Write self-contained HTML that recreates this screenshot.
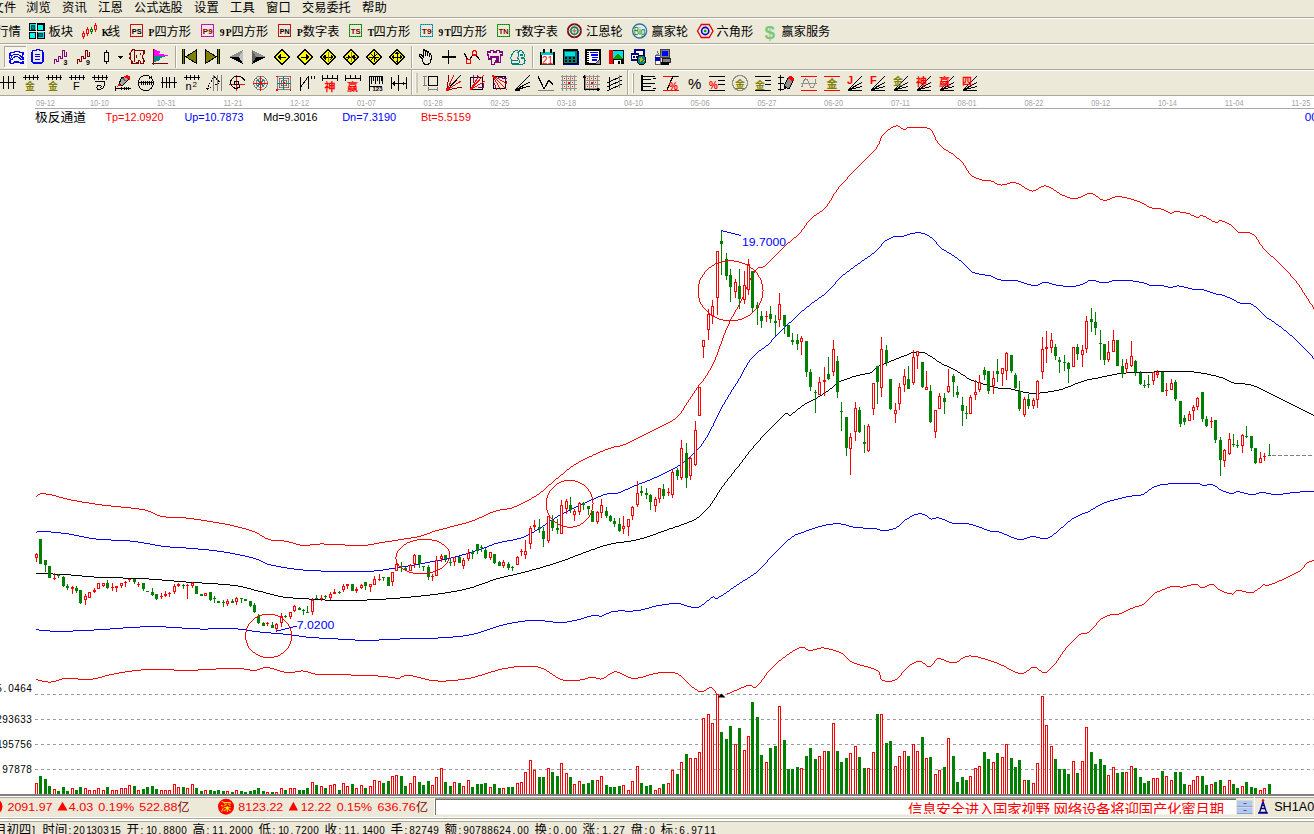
<!DOCTYPE html>
<html><head><meta charset="utf-8"><title>chart</title>
<style>
html,body{margin:0;padding:0;background:#fff;}
body{width:1314px;height:834px;overflow:hidden;position:relative;font-family:"Liberation Sans","Noto Sans CJK SC",sans-serif;font-size:12px;color:#000;}
#chart{position:absolute;left:0;top:0;display:block;}
</style></head><body>
<svg id="chart" width="1314" height="834" viewBox="0 0 1314 834">
<g shape-rendering="crispEdges">
<line x1="35" y1="694.5" x2="1314" y2="694.5" stroke="#9a9a9a" stroke-width="1" stroke-dasharray="3 3"/>
<line x1="35" y1="719.5" x2="1314" y2="719.5" stroke="#9a9a9a" stroke-width="1" stroke-dasharray="3 3"/>
<line x1="35" y1="744.5" x2="1314" y2="744.5" stroke="#9a9a9a" stroke-width="1" stroke-dasharray="3 3"/>
<line x1="35" y1="769.5" x2="1314" y2="769.5" stroke="#9a9a9a" stroke-width="1" stroke-dasharray="3 3"/>
<line x1="35" y1="108.5" x2="1314" y2="108.5" stroke="#a8a8a8" stroke-width="1"/>
<path d="M896 125.5h2M893 126.5h3M898 126.5h2M891 127.5h2M900 127.5h1M907 127.5h20M890 128.5h1M901 128.5h2M906 128.5h1M927 128.5h3M888 129.5h2M903 129.5h3M930 129.5h1M887 130.5h1M931 130.5h1M886 131.5h1M932 131.5h1M885 132.5h1M932 132.5h1M884 133.5h1M933 133.5h1M883 134.5h1M933 134.5h1M882 135.5h1M934 135.5h1M881 136.5h1M934 136.5h1M881 137.5h1M935 137.5h1M880 138.5h1M935 138.5h1M880 139.5h1M935 139.5h1M880 140.5h1M936 140.5h1M879 141.5h1M937 141.5h1M879 142.5h1M937 142.5h1M879 143.5h1M938 143.5h1M878 144.5h1M939 144.5h1M877 145.5h1M940 145.5h1M877 146.5h1M941 146.5h1M876 147.5h1M942 147.5h1M876 148.5h1M943 148.5h1M875 149.5h1M944 149.5h2M874 150.5h1M946 150.5h2M873 151.5h1M948 151.5h1M872 152.5h1M949 152.5h2M871 153.5h1M951 153.5h2M870 154.5h1M953 154.5h1M869 155.5h1M954 155.5h1M868 156.5h1M955 156.5h1M867 157.5h1M956 157.5h1M866 158.5h1M957 158.5h2M865 159.5h1M959 159.5h1M864 160.5h1M960 160.5h1M863 161.5h1M961 161.5h1M862 162.5h1M962 162.5h1M861 163.5h1M963 163.5h1M860 164.5h1M963 164.5h1M859 165.5h1M964 165.5h1M858 166.5h1M965 166.5h1M857 167.5h1M965 167.5h1M856 168.5h1M966 168.5h1M855 169.5h1M966 169.5h1M854 170.5h1M967 170.5h1M853 171.5h1M968 171.5h1M852 172.5h1M968 172.5h1M851 173.5h1M969 173.5h1M850 174.5h1M970 174.5h1M849 175.5h1M971 175.5h1M848 176.5h1M972 176.5h2M847 177.5h1M974 177.5h2M847 178.5h1M976 178.5h3M846 179.5h1M979 179.5h3M845 180.5h1M982 180.5h9M844 181.5h1M991 181.5h3M843 182.5h1M994 182.5h1M1010 182.5h6M842 183.5h1M995 183.5h2M1007 183.5h3M1016 183.5h3M841 184.5h1M997 184.5h4M1002 184.5h5M1019 184.5h2M840 185.5h1M1001 185.5h1M1021 185.5h1M1044 185.5h2M839 186.5h1M1022 186.5h2M1041 186.5h3M1046 186.5h3M838 187.5h1M1024 187.5h1M1039 187.5h2M1049 187.5h2M838 188.5h1M1025 188.5h2M1038 188.5h1M1051 188.5h2M837 189.5h1M1027 189.5h2M1036 189.5h2M1053 189.5h1M836 190.5h1M1029 190.5h3M1033 190.5h3M1054 190.5h2M836 191.5h1M1032 191.5h1M1056 191.5h1M835 192.5h1M1057 192.5h2M834 193.5h1M1059 193.5h1M1087 193.5h6M833 194.5h1M1060 194.5h2M1085 194.5h2M1093 194.5h2M833 195.5h1M1062 195.5h3M1083 195.5h2M1095 195.5h1M832 196.5h1M1065 196.5h2M1081 196.5h2M1096 196.5h2M1115 196.5h7M832 197.5h1M1067 197.5h3M1078 197.5h3M1098 197.5h1M1112 197.5h3M1122 197.5h5M831 198.5h1M1070 198.5h8M1099 198.5h1M1110 198.5h2M1127 198.5h4M831 199.5h1M1100 199.5h3M1107 199.5h3M1131 199.5h3M830 200.5h1M1103 200.5h4M1134 200.5h3M829 201.5h1M1137 201.5h3M829 202.5h1M1140 202.5h2M828 203.5h1M1142 203.5h2M827 204.5h1M1144 204.5h2M827 205.5h1M1146 205.5h1M826 206.5h1M1147 206.5h2M825 207.5h1M1149 207.5h3M824 208.5h1M1152 208.5h9M823 209.5h1M1161 209.5h3M822 210.5h1M1164 210.5h2M820 211.5h2M1166 211.5h2M1174 211.5h6M819 212.5h1M1168 212.5h2M1172 212.5h2M1180 212.5h6M817 213.5h2M1170 213.5h2M1186 213.5h4M816 214.5h1M1190 214.5h1M814 215.5h2M1191 215.5h3M1200 215.5h3M813 216.5h1M1194 216.5h2M1199 216.5h1M1203 216.5h3M812 217.5h1M1196 217.5h3M1206 217.5h1M811 218.5h1M1207 218.5h2M810 219.5h1M1209 219.5h2M809 220.5h1M1211 220.5h1M1219 220.5h3M808 221.5h1M1212 221.5h3M1218 221.5h1M1222 221.5h3M807 222.5h1M1215 222.5h3M1225 222.5h2M806 223.5h1M1227 223.5h2M806 224.5h1M1229 224.5h2M805 225.5h1M1231 225.5h1M804 226.5h1M1232 226.5h1M804 227.5h1M1233 227.5h1M803 228.5h1M1234 228.5h1M802 229.5h1M1235 229.5h1M801 230.5h1M1236 230.5h1M801 231.5h1M1237 231.5h1M800 232.5h1M1238 232.5h12M799 233.5h1M1250 233.5h2M798 234.5h1M1252 234.5h2M797 235.5h1M1254 235.5h1M796 236.5h1M1255 236.5h1M794 237.5h2M1256 237.5h1M793 238.5h1M1256 238.5h1M792 239.5h1M1257 239.5h1M791 240.5h1M1258 240.5h1M790 241.5h1M1258 241.5h1M788 242.5h2M1259 242.5h1M787 243.5h1M1259 243.5h1M786 244.5h1M1260 244.5h1M785 245.5h1M1261 245.5h1M784 246.5h1M1262 246.5h1M783 247.5h1M1262 247.5h1M782 248.5h1M1263 248.5h1M781 249.5h1M1264 249.5h1M780 250.5h1M1265 250.5h1M779 251.5h1M1266 251.5h1M778 252.5h1M1267 252.5h1M777 253.5h1M1268 253.5h1M776 254.5h1M1269 254.5h1M775 255.5h1M1270 255.5h1M774 256.5h1M1271 256.5h2M773 257.5h1M1273 257.5h1M772 258.5h1M1274 258.5h1M771 259.5h1M1275 259.5h1M770 260.5h1M1276 260.5h1M769 261.5h1M1277 261.5h1M768 262.5h1M1278 262.5h1M767 263.5h1M1279 263.5h1M766 264.5h1M1280 264.5h1M765 265.5h1M1281 265.5h1M763 266.5h2M1282 266.5h1M758 267.5h5M1283 267.5h1M757 268.5h1M1284 268.5h1M756 269.5h1M1285 269.5h1M755 270.5h1M1286 270.5h1M754 271.5h1M1287 271.5h1M754 272.5h1M1288 272.5h1M753 273.5h1M1289 273.5h1M752 274.5h1M1290 274.5h1M752 275.5h1M1290 275.5h1M751 276.5h1M1291 276.5h1M751 277.5h1M1292 277.5h1M750 278.5h1M1293 278.5h1M750 279.5h1M1294 279.5h1M749 280.5h1M1295 280.5h1M749 281.5h1M1296 281.5h1M748 282.5h1M1296 282.5h1M748 283.5h1M1297 283.5h1M747 284.5h1M1298 284.5h1M747 285.5h1M1299 285.5h1M747 286.5h1M1299 286.5h1M746 287.5h1M1300 287.5h1M746 288.5h1M1301 288.5h1M745 289.5h1M1301 289.5h1M745 290.5h1M1302 290.5h1M745 291.5h1M1302 291.5h1M744 292.5h1M1303 292.5h1M744 293.5h1M1304 293.5h1M743 294.5h1M1304 294.5h1M743 295.5h1M1305 295.5h1M743 296.5h1M1306 296.5h1M742 297.5h1M1306 297.5h1M742 298.5h1M1307 298.5h1M741 299.5h1M1308 299.5h1M741 300.5h1M1308 300.5h1M740 301.5h1M1309 301.5h1M740 302.5h1M1309 302.5h1M739 303.5h1M1310 303.5h1M739 304.5h1M1311 304.5h1M738 305.5h1M1312 305.5h1M738 306.5h1M1312 306.5h1M737 307.5h1M1313 307.5h1M737 308.5h1M1313 308.5h1M736 309.5h1M735 310.5h1M735 311.5h1M734 312.5h1M734 313.5h1M733 314.5h1M733 315.5h1M732 316.5h1M731 317.5h1M731 318.5h1M730 319.5h1M730 320.5h1M729 321.5h1M729 322.5h1M729 323.5h1M728 324.5h1M728 325.5h1M727 326.5h1M727 327.5h1M726 328.5h1M726 329.5h1M725 330.5h1M725 331.5h1M725 332.5h1M724 333.5h1M724 334.5h1M723 335.5h1M723 336.5h1M723 337.5h1M722 338.5h1M722 339.5h1M722 340.5h1M721 341.5h1M721 342.5h1M721 343.5h1M720 344.5h1M720 345.5h1M719 346.5h1M719 347.5h1M719 348.5h1M718 349.5h1M718 350.5h1M718 351.5h1M717 352.5h1M717 353.5h1M717 354.5h1M716 355.5h1M716 356.5h1M715 357.5h1M715 358.5h1M715 359.5h1M714 360.5h1M714 361.5h1M713 362.5h1M713 363.5h1M712 364.5h1M712 365.5h1M711 366.5h1M711 367.5h1M710 368.5h1M710 369.5h1M709 370.5h1M708 371.5h1M708 372.5h1M707 373.5h1M707 374.5h1M706 375.5h1M705 376.5h1M705 377.5h1M704 378.5h1M703 379.5h1M703 380.5h1M702 381.5h1M701 382.5h1M700 383.5h1M699 384.5h1M698 385.5h1M698 386.5h1M697 387.5h1M696 388.5h1M696 389.5h1M695 390.5h1M694 391.5h1M694 392.5h1M693 393.5h1M692 394.5h1M692 395.5h1M691 396.5h1M690 397.5h1M690 398.5h1M689 399.5h1M688 400.5h1M688 401.5h1M687 402.5h1M686 403.5h1M686 404.5h1M685 405.5h1M684 406.5h1M684 407.5h1M683 408.5h1M683 409.5h1M682 410.5h1M681 411.5h1M681 412.5h1M680 413.5h1M679 414.5h1M678 415.5h1M677 416.5h1M676 417.5h1M675 418.5h1M673 419.5h2M672 420.5h1M670 421.5h2M668 422.5h2M666 423.5h2M664 424.5h2M662 425.5h2M660 426.5h2M658 427.5h2M656 428.5h2M654 429.5h2M652 430.5h2M650 431.5h2M648 432.5h2M646 433.5h2M644 434.5h2M642 435.5h2M640 436.5h2M638 437.5h2M636 438.5h2M634 439.5h2M632 440.5h2M630 441.5h2M628 442.5h2M626 443.5h2M623 444.5h3M620 445.5h3M614 446.5h6M611 447.5h3M608 448.5h3M605 449.5h3M603 450.5h2M600 451.5h3M598 452.5h2M596 453.5h2M593 454.5h3M592 455.5h1M589 456.5h3M587 457.5h2M585 458.5h2M583 459.5h2M581 460.5h2M579 461.5h2M578 462.5h1M576 463.5h2M574 464.5h2M573 465.5h1M571 466.5h2M570 467.5h1M569 468.5h1M567 469.5h2M566 470.5h1M565 471.5h1M564 472.5h1M563 473.5h1M561 474.5h2M560 475.5h1M559 476.5h1M558 477.5h1M556 478.5h2M555 479.5h1M554 480.5h1M553 481.5h1M552 482.5h1M551 483.5h1M549 484.5h2M548 485.5h1M547 486.5h1M546 487.5h1M545 488.5h1M544 489.5h1M543 490.5h1M541 491.5h2M540 492.5h1M40 493.5h6M539 493.5h1M38 494.5h2M46 494.5h6M537 494.5h2M37 495.5h1M52 495.5h4M536 495.5h1M36 496.5h1M56 496.5h3M534 496.5h2M59 497.5h4M532 497.5h2M63 498.5h4M531 498.5h1M67 499.5h4M529 499.5h2M71 500.5h6M527 500.5h2M77 501.5h5M525 501.5h2M82 502.5h7M523 502.5h2M89 503.5h6M521 503.5h2M95 504.5h7M519 504.5h2M102 505.5h9M517 505.5h2M111 506.5h10M514 506.5h3M121 507.5h10M512 507.5h2M131 508.5h8M507 508.5h5M139 509.5h6M500 509.5h7M145 510.5h3M496 510.5h4M148 511.5h3M493 511.5h3M151 512.5h2M490 512.5h3M153 513.5h2M488 513.5h2M155 514.5h2M486 514.5h2M157 515.5h3M484 515.5h2M160 516.5h6M482 516.5h2M166 517.5h20M479 517.5h3M186 518.5h8M477 518.5h2M194 519.5h7M475 519.5h2M201 520.5h6M472 520.5h3M207 521.5h6M469 521.5h3M213 522.5h6M466 522.5h3M219 523.5h6M462 523.5h4M225 524.5h5M458 524.5h4M230 525.5h4M454 525.5h4M234 526.5h4M450 526.5h4M238 527.5h4M447 527.5h3M242 528.5h4M443 528.5h4M246 529.5h3M439 529.5h4M249 530.5h3M435 530.5h4M252 531.5h3M432 531.5h3M255 532.5h2M430 532.5h2M257 533.5h2M427 533.5h3M259 534.5h1M424 534.5h3M260 535.5h2M421 535.5h3M262 536.5h2M417 536.5h4M264 537.5h1M411 537.5h6M265 538.5h3M404 538.5h7M268 539.5h3M398 539.5h6M271 540.5h13M392 540.5h6M284 541.5h5M385 541.5h7M289 542.5h4M379 542.5h6M293 543.5h3M320 543.5h4M374 543.5h5M296 544.5h4M310 544.5h10M324 544.5h21M368 544.5h6M300 545.5h10M345 545.5h23" fill="none" stroke="#ff0000" stroke-width="1"/>
<path d="M915 232.5h6M910 233.5h5M921 233.5h4M907 234.5h3M925 234.5h2M904 235.5h3M927 235.5h2M893 236.5h11M929 236.5h1M891 237.5h2M930 237.5h2M889 238.5h2M932 238.5h1M887 239.5h2M933 239.5h1M885 240.5h2M934 240.5h1M884 241.5h1M935 241.5h1M883 242.5h1M936 242.5h1M882 243.5h1M936 243.5h1M881 244.5h1M937 244.5h1M881 245.5h1M938 245.5h1M880 246.5h1M939 246.5h1M879 247.5h1M940 247.5h1M878 248.5h1M941 248.5h1M877 249.5h1M942 249.5h2M876 250.5h1M944 250.5h2M875 251.5h1M946 251.5h1M874 252.5h1M947 252.5h2M872 253.5h2M949 253.5h2M871 254.5h1M951 254.5h1M870 255.5h1M952 255.5h2M868 256.5h2M954 256.5h1M867 257.5h1M955 257.5h2M865 258.5h2M957 258.5h1M864 259.5h1M958 259.5h1M862 260.5h2M959 260.5h2M861 261.5h1M961 261.5h1M860 262.5h1M962 262.5h1M858 263.5h2M963 263.5h1M857 264.5h1M964 264.5h1M855 265.5h2M965 265.5h1M854 266.5h1M966 266.5h1M853 267.5h1M967 267.5h1M851 268.5h2M968 268.5h1M850 269.5h1M969 269.5h1M849 270.5h1M970 270.5h1M847 271.5h2M971 271.5h1M846 272.5h1M972 272.5h3M845 273.5h1M975 273.5h4M843 274.5h2M979 274.5h6M842 275.5h1M985 275.5h6M841 276.5h1M991 276.5h2M840 277.5h1M993 277.5h2M839 278.5h1M995 278.5h2M838 279.5h1M997 279.5h4M837 280.5h1M1001 280.5h17M1088 280.5h8M1112 280.5h21M836 281.5h1M1018 281.5h3M1087 281.5h1M1096 281.5h3M1109 281.5h3M1133 281.5h6M835 282.5h1M1021 282.5h3M1042 282.5h7M1085 282.5h2M1099 282.5h10M1139 282.5h5M835 283.5h1M1024 283.5h3M1040 283.5h2M1049 283.5h3M1083 283.5h2M1144 283.5h3M834 284.5h1M1027 284.5h4M1038 284.5h2M1052 284.5h4M1080 284.5h3M1147 284.5h2M833 285.5h1M1031 285.5h7M1056 285.5h7M1076 285.5h4M1149 285.5h15M1177 285.5h2M832 286.5h1M1063 286.5h13M1164 286.5h4M1173 286.5h4M1179 286.5h5M831 287.5h1M1168 287.5h5M1184 287.5h4M830 288.5h1M1188 288.5h4M829 289.5h1M1192 289.5h12M828 290.5h1M1204 290.5h3M827 291.5h1M1207 291.5h3M826 292.5h1M1210 292.5h3M825 293.5h1M1213 293.5h3M824 294.5h1M1216 294.5h6M822 295.5h2M1222 295.5h3M821 296.5h1M1225 296.5h2M819 297.5h2M1227 297.5h3M818 298.5h1M1230 298.5h2M817 299.5h1M1232 299.5h2M815 300.5h2M1234 300.5h2M814 301.5h1M1236 301.5h1M812 302.5h2M1237 302.5h3M811 303.5h1M1240 303.5h11M810 304.5h1M1251 304.5h2M809 305.5h1M1253 305.5h1M807 306.5h2M1254 306.5h2M806 307.5h1M1256 307.5h1M805 308.5h1M1257 308.5h1M804 309.5h1M1258 309.5h1M802 310.5h2M1259 310.5h1M801 311.5h1M1260 311.5h1M800 312.5h1M1261 312.5h1M799 313.5h1M1262 313.5h1M798 314.5h1M1263 314.5h1M797 315.5h1M1264 315.5h1M796 316.5h1M1265 316.5h1M795 317.5h1M1266 317.5h1M794 318.5h1M1267 318.5h2M793 319.5h1M1269 319.5h2M792 320.5h1M1271 320.5h1M791 321.5h1M1272 321.5h2M789 322.5h2M1274 322.5h1M788 323.5h1M1275 323.5h1M787 324.5h1M1276 324.5h2M786 325.5h1M1278 325.5h1M785 326.5h1M1279 326.5h2M784 327.5h1M1281 327.5h1M783 328.5h1M1282 328.5h1M782 329.5h1M1283 329.5h1M781 330.5h1M1284 330.5h2M780 331.5h1M1286 331.5h1M779 332.5h1M1287 332.5h1M778 333.5h1M1288 333.5h1M777 334.5h1M1289 334.5h1M776 335.5h1M1290 335.5h2M775 336.5h1M1292 336.5h1M774 337.5h1M1293 337.5h1M773 338.5h1M1294 338.5h1M772 339.5h1M1295 339.5h1M771 340.5h1M1296 340.5h1M771 341.5h1M1297 341.5h1M770 342.5h1M1298 342.5h1M769 343.5h1M1299 343.5h1M768 344.5h1M1300 344.5h1M766 345.5h2M1301 345.5h1M765 346.5h1M1302 346.5h1M764 347.5h1M1303 347.5h1M762 348.5h2M1304 348.5h1M761 349.5h1M1305 349.5h1M759 350.5h2M1306 350.5h1M758 351.5h1M1307 351.5h1M757 352.5h1M1308 352.5h1M756 353.5h1M1309 353.5h1M755 354.5h1M1310 354.5h1M754 355.5h1M1311 355.5h1M753 356.5h1M1312 356.5h1M752 357.5h1M1312 357.5h1M751 358.5h1M1313 358.5h1M750 359.5h1M749 360.5h1M749 361.5h1M748 362.5h1M747 363.5h1M747 364.5h1M746 365.5h1M746 366.5h1M745 367.5h1M744 368.5h1M744 369.5h1M743 370.5h1M743 371.5h1M742 372.5h1M742 373.5h1M741 374.5h1M741 375.5h1M740 376.5h1M740 377.5h1M739 378.5h1M738 379.5h1M738 380.5h1M737 381.5h1M737 382.5h1M736 383.5h1M735 384.5h1M735 385.5h1M734 386.5h1M733 387.5h1M733 388.5h1M732 389.5h1M731 390.5h1M731 391.5h1M730 392.5h1M730 393.5h1M729 394.5h1M728 395.5h1M728 396.5h1M727 397.5h1M727 398.5h1M726 399.5h1M725 400.5h1M725 401.5h1M724 402.5h1M724 403.5h1M723 404.5h1M722 405.5h1M722 406.5h1M721 407.5h1M721 408.5h1M720 409.5h1M720 410.5h1M719 411.5h1M719 412.5h1M718 413.5h1M718 414.5h1M717 415.5h1M717 416.5h1M716 417.5h1M716 418.5h1M715 419.5h1M715 420.5h1M714 421.5h1M714 422.5h1M713 423.5h1M713 424.5h1M713 425.5h1M712 426.5h1M711 427.5h1M711 428.5h1M710 429.5h1M710 430.5h1M709 431.5h1M709 432.5h1M708 433.5h1M708 434.5h1M707 435.5h1M707 436.5h1M706 437.5h1M705 438.5h1M705 439.5h1M704 440.5h1M703 441.5h1M703 442.5h1M702 443.5h1M701 444.5h1M701 445.5h1M700 446.5h1M699 447.5h1M698 448.5h1M697 449.5h1M696 450.5h1M695 451.5h1M694 452.5h1M693 453.5h1M692 454.5h1M691 455.5h1M690 456.5h1M689 457.5h1M688 458.5h1M687 459.5h1M685 460.5h2M684 461.5h1M683 462.5h1M681 463.5h2M680 464.5h1M678 465.5h2M677 466.5h1M675 467.5h2M673 468.5h2M671 469.5h2M669 470.5h2M667 471.5h2M665 472.5h2M663 473.5h2M661 474.5h2M659 475.5h2M657 476.5h2M654 477.5h3M652 478.5h2M650 479.5h2M647 480.5h3M645 481.5h2M642 482.5h3M639 483.5h3M637 484.5h2M634 485.5h3M632 486.5h2M630 487.5h2M628 488.5h2M625 489.5h3M623 490.5h2M621 491.5h2M618 492.5h3M607 493.5h11M603 494.5h4M601 495.5h2M598 496.5h3M596 497.5h2M594 498.5h2M591 499.5h3M589 500.5h2M587 501.5h2M585 502.5h2M583 503.5h2M580 504.5h3M578 505.5h2M576 506.5h2M574 507.5h2M572 508.5h2M570 509.5h2M568 510.5h2M566 511.5h2M564 512.5h2M562 513.5h2M560 514.5h2M558 515.5h2M557 516.5h1M555 517.5h2M554 518.5h1M552 519.5h2M550 520.5h2M549 521.5h1M548 522.5h1M546 523.5h2M545 524.5h1M543 525.5h2M542 526.5h1M540 527.5h2M539 528.5h1M537 529.5h2M535 530.5h2M37 531.5h14M534 531.5h1M36 532.5h1M51 532.5h10M532 532.5h2M61 533.5h8M530 533.5h2M69 534.5h5M528 534.5h2M74 535.5h5M526 535.5h2M79 536.5h5M524 536.5h2M84 537.5h5M521 537.5h3M89 538.5h7M517 538.5h4M96 539.5h15M513 539.5h4M111 540.5h19M507 540.5h6M130 541.5h8M502 541.5h5M138 542.5h6M498 542.5h4M144 543.5h6M494 543.5h4M150 544.5h5M492 544.5h2M155 545.5h6M489 545.5h3M161 546.5h9M487 546.5h2M170 547.5h16M484 547.5h3M186 548.5h12M481 548.5h3M198 549.5h11M478 549.5h3M209 550.5h8M475 550.5h3M217 551.5h7M472 551.5h3M224 552.5h6M469 552.5h3M230 553.5h5M466 553.5h3M235 554.5h5M462 554.5h4M240 555.5h5M459 555.5h3M245 556.5h4M455 556.5h4M249 557.5h4M451 557.5h4M253 558.5h3M447 558.5h4M256 559.5h3M441 559.5h6M259 560.5h2M436 560.5h5M261 561.5h2M430 561.5h6M263 562.5h2M425 562.5h5M265 563.5h2M419 563.5h6M267 564.5h4M414 564.5h5M271 565.5h5M408 565.5h6M276 566.5h5M402 566.5h6M281 567.5h6M396 567.5h6M287 568.5h7M389 568.5h7M294 569.5h9M383 569.5h6M303 570.5h18M374 570.5h9M321 571.5h53" fill="none" stroke="#0000ff" stroke-width="1"/>
<path d="M911 352.5h14M909 353.5h2M925 353.5h2M907 354.5h2M927 354.5h1M904 355.5h3M928 355.5h2M901 356.5h3M930 356.5h2M899 357.5h2M932 357.5h1M896 358.5h3M933 358.5h2M894 359.5h2M935 359.5h1M891 360.5h3M936 360.5h1M889 361.5h2M937 361.5h2M887 362.5h2M939 362.5h2M884 363.5h3M941 363.5h1M882 364.5h2M942 364.5h2M879 365.5h3M944 365.5h3M877 366.5h2M947 366.5h2M876 367.5h1M949 367.5h2M875 368.5h1M951 368.5h2M874 369.5h1M953 369.5h2M873 370.5h1M955 370.5h2M872 371.5h1M957 371.5h1M1154 371.5h40M870 372.5h2M958 372.5h2M1126 372.5h28M1194 372.5h7M865 373.5h5M960 373.5h1M1117 373.5h9M1201 373.5h6M860 374.5h5M961 374.5h2M1112 374.5h5M1207 374.5h4M856 375.5h4M963 375.5h2M1107 375.5h5M1211 375.5h5M852 376.5h4M965 376.5h1M1102 376.5h5M1216 376.5h3M850 377.5h2M966 377.5h1M1098 377.5h4M1219 377.5h4M847 378.5h3M967 378.5h2M1092 378.5h6M1223 378.5h2M844 379.5h3M969 379.5h2M1087 379.5h5M1225 379.5h2M841 380.5h3M971 380.5h3M1084 380.5h3M1227 380.5h2M839 381.5h2M974 381.5h3M1081 381.5h3M1229 381.5h2M838 382.5h1M977 382.5h3M1078 382.5h3M1231 382.5h3M837 383.5h1M980 383.5h3M1075 383.5h3M1234 383.5h11M835 384.5h2M983 384.5h4M1073 384.5h2M1245 384.5h6M834 385.5h1M987 385.5h3M1071 385.5h2M1251 385.5h3M833 386.5h1M990 386.5h4M1068 386.5h3M1254 386.5h3M832 387.5h1M994 387.5h4M1065 387.5h3M1257 387.5h2M830 388.5h2M998 388.5h13M1063 388.5h2M1259 388.5h2M829 389.5h1M1011 389.5h4M1059 389.5h4M1261 389.5h2M828 390.5h1M1015 390.5h4M1054 390.5h5M1263 390.5h2M826 391.5h2M1019 391.5h4M1048 391.5h6M1265 391.5h2M825 392.5h1M1023 392.5h6M1040 392.5h8M1267 392.5h2M823 393.5h2M1029 393.5h11M1269 393.5h2M822 394.5h1M1271 394.5h2M820 395.5h2M1273 395.5h2M818 396.5h2M1275 396.5h2M817 397.5h1M1277 397.5h2M815 398.5h2M1279 398.5h2M813 399.5h2M1281 399.5h2M811 400.5h2M1283 400.5h2M809 401.5h2M1285 401.5h2M807 402.5h2M1287 402.5h2M805 403.5h2M1289 403.5h2M804 404.5h1M1291 404.5h2M802 405.5h2M1293 405.5h2M801 406.5h1M1295 406.5h2M800 407.5h1M1297 407.5h2M798 408.5h2M1299 408.5h2M797 409.5h1M1301 409.5h2M796 410.5h1M1303 410.5h2M795 411.5h1M1305 411.5h2M793 412.5h2M1307 412.5h2M785 413.5h3M792 413.5h1M1309 413.5h2M784 414.5h1M788 414.5h1M791 414.5h1M1311 414.5h2M783 415.5h1M789 415.5h2M1313 415.5h1M782 416.5h1M781 417.5h1M780 418.5h1M779 419.5h1M778 420.5h1M777 421.5h1M776 422.5h1M775 423.5h1M774 424.5h1M773 425.5h1M772 426.5h1M771 427.5h1M770 428.5h1M769 429.5h1M768 430.5h1M767 431.5h1M766 432.5h1M765 433.5h1M764 434.5h1M763 435.5h1M762 436.5h1M761 437.5h1M760 438.5h1M760 439.5h1M759 440.5h1M758 441.5h1M757 442.5h1M756 443.5h1M755 444.5h1M754 445.5h1M753 446.5h1M753 447.5h1M752 448.5h1M751 449.5h1M750 450.5h1M749 451.5h1M748 452.5h1M748 453.5h1M747 454.5h1M746 455.5h1M745 456.5h1M745 457.5h1M744 458.5h1M743 459.5h1M742 460.5h1M742 461.5h1M741 462.5h1M740 463.5h1M739 464.5h1M739 465.5h1M738 466.5h1M737 467.5h1M736 468.5h1M735 469.5h1M734 470.5h1M734 471.5h1M733 472.5h1M732 473.5h1M731 474.5h1M731 475.5h1M730 476.5h1M729 477.5h1M728 478.5h1M727 479.5h1M727 480.5h1M726 481.5h1M725 482.5h1M724 483.5h1M724 484.5h1M723 485.5h1M722 486.5h1M721 487.5h1M721 488.5h1M720 489.5h1M719 490.5h1M719 491.5h1M718 492.5h1M717 493.5h1M717 494.5h1M716 495.5h1M716 496.5h1M715 497.5h1M714 498.5h1M714 499.5h1M713 500.5h1M712 501.5h1M712 502.5h1M711 503.5h1M710 504.5h1M710 505.5h1M709 506.5h1M708 507.5h1M707 508.5h1M706 509.5h1M705 510.5h1M704 511.5h1M703 512.5h1M702 513.5h1M701 514.5h1M700 515.5h1M699 516.5h1M697 517.5h2M696 518.5h1M694 519.5h2M692 520.5h2M689 521.5h3M687 522.5h2M684 523.5h3M681 524.5h3M679 525.5h2M675 526.5h4M673 527.5h2M669 528.5h4M667 529.5h2M664 530.5h3M661 531.5h3M658 532.5h3M656 533.5h2M653 534.5h3M650 535.5h3M647 536.5h3M644 537.5h3M640 538.5h4M636 539.5h4M631 540.5h5M624 541.5h7M616 542.5h8M611 543.5h5M607 544.5h4M603 545.5h4M600 546.5h3M597 547.5h3M595 548.5h2M591 549.5h4M589 550.5h2M586 551.5h3M583 552.5h3M581 553.5h2M578 554.5h3M575 555.5h3M573 556.5h2M570 557.5h3M568 558.5h2M565 559.5h3M562 560.5h3M559 561.5h3M556 562.5h3M553 563.5h3M550 564.5h3M546 565.5h4M543 566.5h3M540 567.5h3M536 568.5h4M532 569.5h4M529 570.5h3M525 571.5h4M521 572.5h4M36 573.5h17M517 573.5h4M53 574.5h18M513 574.5h4M71 575.5h11M508 575.5h5M82 576.5h12M504 576.5h4M94 577.5h29M500 577.5h4M123 578.5h26M496 578.5h4M149 579.5h13M493 579.5h3M162 580.5h12M490 580.5h3M174 581.5h12M488 581.5h2M186 582.5h16M485 582.5h3M202 583.5h16M482 583.5h3M218 584.5h12M479 584.5h3M230 585.5h8M476 585.5h3M238 586.5h5M474 586.5h2M243 587.5h4M470 587.5h4M247 588.5h4M466 588.5h4M251 589.5h3M462 589.5h4M254 590.5h4M457 590.5h5M258 591.5h5M451 591.5h6M263 592.5h3M445 592.5h6M266 593.5h4M438 593.5h7M270 594.5h4M430 594.5h8M274 595.5h4M421 595.5h9M278 596.5h5M411 596.5h10M283 597.5h10M400 597.5h11M293 598.5h16M386 598.5h14M309 599.5h16M367 599.5h19M325 600.5h42" fill="none" stroke="#000" stroke-width="1"/>
<path d="M1168 483.5h32M1160 484.5h8M1200 484.5h2M1207 484.5h6M1157 485.5h3M1202 485.5h5M1213 485.5h2M1154 486.5h3M1215 486.5h2M1152 487.5h2M1217 487.5h1M1151 488.5h1M1218 488.5h1M1149 489.5h2M1219 489.5h2M1148 490.5h1M1221 490.5h2M1147 491.5h1M1223 491.5h3M1236 491.5h4M1300 491.5h14M1145 492.5h2M1226 492.5h3M1234 492.5h2M1240 492.5h4M1259 492.5h7M1290 492.5h10M1144 493.5h1M1229 493.5h5M1244 493.5h4M1256 493.5h3M1266 493.5h5M1283 493.5h7M1141 494.5h3M1248 494.5h8M1271 494.5h12M1132 495.5h9M1126 496.5h6M1122 497.5h4M1118 498.5h4M1114 499.5h4M1110 500.5h4M1107 501.5h3M1104 502.5h3M1102 503.5h2M1100 504.5h2M1098 505.5h2M1096 506.5h2M1095 507.5h1M1093 508.5h2M1091 509.5h2M1090 510.5h1M1088 511.5h2M1085 512.5h3M918 513.5h4M1082 513.5h3M914 514.5h4M922 514.5h3M1080 514.5h2M912 515.5h2M925 515.5h2M1078 515.5h2M910 516.5h2M927 516.5h1M1076 516.5h2M909 517.5h1M928 517.5h1M936 517.5h3M1074 517.5h2M907 518.5h2M929 518.5h2M932 518.5h4M939 518.5h3M1072 518.5h2M905 519.5h2M931 519.5h1M942 519.5h3M1071 519.5h1M904 520.5h1M945 520.5h2M1070 520.5h1M903 521.5h1M947 521.5h2M1068 521.5h2M902 522.5h1M949 522.5h3M1067 522.5h1M833 523.5h8M901 523.5h1M952 523.5h17M1066 523.5h1M826 524.5h7M841 524.5h5M900 524.5h1M969 524.5h4M1065 524.5h1M822 525.5h4M846 525.5h3M899 525.5h1M973 525.5h3M1064 525.5h1M818 526.5h4M849 526.5h4M897 526.5h2M976 526.5h3M1063 526.5h1M815 527.5h3M853 527.5h10M896 527.5h1M979 527.5h3M1061 527.5h2M812 528.5h3M863 528.5h14M893 528.5h3M982 528.5h2M1060 528.5h1M809 529.5h3M877 529.5h3M889 529.5h4M984 529.5h3M1059 529.5h1M806 530.5h3M880 530.5h9M987 530.5h3M1058 530.5h1M804 531.5h2M990 531.5h9M1057 531.5h1M801 532.5h3M999 532.5h3M1056 532.5h1M798 533.5h3M1002 533.5h2M1054 533.5h2M795 534.5h3M1004 534.5h3M1053 534.5h1M794 535.5h1M1007 535.5h2M1052 535.5h1M792 536.5h2M1009 536.5h2M1030 536.5h6M1050 536.5h2M791 537.5h1M1011 537.5h3M1027 537.5h3M1036 537.5h4M1048 537.5h2M790 538.5h1M1014 538.5h3M1024 538.5h3M1040 538.5h8M788 539.5h2M1017 539.5h7M787 540.5h1M786 541.5h1M785 542.5h1M784 543.5h1M783 544.5h1M782 545.5h1M781 546.5h1M780 547.5h1M779 548.5h1M778 549.5h1M777 550.5h1M776 551.5h1M775 552.5h1M774 553.5h1M773 554.5h1M772 555.5h1M771 556.5h1M770 557.5h1M769 558.5h1M768 559.5h1M767 560.5h1M767 561.5h1M766 562.5h1M765 563.5h1M764 564.5h1M763 565.5h1M762 566.5h1M761 567.5h1M760 568.5h1M759 569.5h1M758 570.5h1M757 571.5h1M756 572.5h1M754 573.5h2M753 574.5h1M751 575.5h2M750 576.5h1M748 577.5h2M747 578.5h1M745 579.5h2M743 580.5h2M742 581.5h1M740 582.5h2M739 583.5h1M737 584.5h2M736 585.5h1M734 586.5h2M733 587.5h1M731 588.5h2M730 589.5h1M729 590.5h1M727 591.5h2M726 592.5h1M724 593.5h2M723 594.5h1M721 595.5h2M713 596.5h1M719 596.5h2M711 597.5h2M714 597.5h1M718 597.5h1M710 598.5h1M715 598.5h3M709 599.5h1M707 600.5h2M706 601.5h1M705 602.5h1M669 603.5h12M704 603.5h1M662 604.5h7M681 604.5h3M702 604.5h2M656 605.5h6M684 605.5h3M701 605.5h1M652 606.5h4M687 606.5h4M699 606.5h2M649 607.5h3M691 607.5h8M645 608.5h4M641 609.5h4M618 610.5h7M633 610.5h8M611 611.5h7M625 611.5h8M609 612.5h2M606 613.5h3M604 614.5h2M591 615.5h8M602 615.5h2M587 616.5h4M599 616.5h3M584 617.5h3M581 618.5h3M577 619.5h4M525 620.5h20M572 620.5h5M518 621.5h7M545 621.5h8M567 621.5h5M512 622.5h6M553 622.5h14M507 623.5h5M503 624.5h4M499 625.5h4M140 626.5h26M496 626.5h3M123 627.5h17M166 627.5h16M493 627.5h3M110 628.5h13M182 628.5h18M208 628.5h30M490 628.5h3M36 629.5h3M94 629.5h16M200 629.5h8M238 629.5h8M487 629.5h3M39 630.5h11M73 630.5h21M246 630.5h6M484 630.5h3M50 631.5h23M252 631.5h8M481 631.5h3M260 632.5h11M478 632.5h3M271 633.5h12M474 633.5h4M283 634.5h8M469 634.5h5M291 635.5h8M463 635.5h6M299 636.5h7M453 636.5h10M306 637.5h13M438 637.5h15M319 638.5h19M400 638.5h38M338 639.5h17M379 639.5h21M355 640.5h24" fill="none" stroke="#0000ff" stroke-width="1"/>
<path d="M1312 560.5h2M1309 561.5h3M1307 562.5h2M1306 563.5h1M1305 564.5h1M1304 565.5h1M1304 566.5h1M1303 567.5h1M1302 568.5h1M1301 569.5h1M1300 570.5h1M1298 571.5h2M1296 572.5h2M1294 573.5h2M1292 574.5h2M1290 575.5h2M1288 576.5h2M1286 577.5h2M1284 578.5h2M1282 579.5h2M1279 580.5h3M1277 581.5h2M1275 582.5h2M1272 583.5h3M1191 584.5h7M1209 584.5h5M1263 584.5h2M1269 584.5h3M1187 585.5h4M1198 585.5h1M1207 585.5h2M1214 585.5h1M1262 585.5h1M1265 585.5h4M1170 586.5h10M1183 586.5h4M1199 586.5h1M1205 586.5h2M1215 586.5h1M1261 586.5h1M1167 587.5h3M1180 587.5h3M1200 587.5h5M1216 587.5h1M1260 587.5h1M1165 588.5h2M1217 588.5h1M1258 588.5h2M1162 589.5h3M1218 589.5h2M1257 589.5h1M1160 590.5h2M1220 590.5h2M1236 590.5h6M1255 590.5h2M1157 591.5h3M1222 591.5h2M1235 591.5h1M1242 591.5h4M1254 591.5h1M1155 592.5h2M1224 592.5h3M1234 592.5h1M1246 592.5h8M1154 593.5h1M1227 593.5h5M1233 593.5h1M1153 594.5h1M1232 594.5h1M1152 595.5h1M1151 596.5h1M1150 597.5h1M1149 598.5h1M1148 599.5h1M1147 600.5h1M1146 601.5h1M1145 602.5h1M1144 603.5h1M1142 604.5h2M1139 605.5h3M1135 606.5h4M1133 607.5h2M1130 608.5h3M1128 609.5h2M1126 610.5h2M1124 611.5h2M1122 612.5h2M1119 613.5h3M1110 614.5h9M1107 615.5h3M1105 616.5h2M1103 617.5h2M1101 618.5h2M1100 619.5h1M1099 620.5h1M1098 621.5h1M1097 622.5h1M1096 623.5h1M1096 624.5h1M1095 625.5h1M1094 626.5h1M1093 627.5h1M1092 628.5h1M1091 629.5h1M1090 630.5h1M1089 631.5h1M1087 632.5h2M1081 633.5h6M1079 634.5h2M1078 635.5h1M1077 636.5h1M1076 637.5h1M1075 638.5h1M1074 639.5h1M1073 640.5h1M1072 641.5h1M1071 642.5h1M1070 643.5h1M1069 644.5h1M1068 645.5h1M1067 646.5h1M799 647.5h6M821 647.5h3M1066 647.5h1M797 648.5h2M805 648.5h1M817 648.5h4M824 648.5h5M1065 648.5h1M795 649.5h2M806 649.5h2M813 649.5h4M829 649.5h4M1065 649.5h1M793 650.5h2M808 650.5h5M833 650.5h3M1064 650.5h1M792 651.5h1M836 651.5h3M1063 651.5h1M790 652.5h2M839 652.5h2M1062 652.5h1M789 653.5h1M841 653.5h2M1062 653.5h1M787 654.5h2M843 654.5h1M1061 654.5h1M786 655.5h1M844 655.5h1M969 655.5h2M1060 655.5h1M785 656.5h1M845 656.5h1M965 656.5h4M971 656.5h7M1060 656.5h1M783 657.5h2M846 657.5h1M963 657.5h2M978 657.5h3M1059 657.5h1M782 658.5h1M847 658.5h1M937 658.5h4M961 658.5h2M981 658.5h4M1058 658.5h1M781 659.5h1M848 659.5h1M936 659.5h1M941 659.5h3M960 659.5h1M985 659.5h3M1058 659.5h1M779 660.5h2M849 660.5h1M935 660.5h1M944 660.5h2M959 660.5h1M988 660.5h3M1057 660.5h1M778 661.5h1M850 661.5h2M916 661.5h6M934 661.5h1M946 661.5h3M957 661.5h2M991 661.5h3M1056 661.5h1M777 662.5h1M852 662.5h2M914 662.5h2M922 662.5h1M934 662.5h1M949 662.5h8M994 662.5h3M1056 662.5h1M776 663.5h1M854 663.5h3M912 663.5h2M923 663.5h2M933 663.5h1M997 663.5h2M1055 663.5h1M775 664.5h1M857 664.5h3M910 664.5h2M925 664.5h1M932 664.5h1M999 664.5h2M1054 664.5h1M774 665.5h1M860 665.5h4M909 665.5h1M926 665.5h1M931 665.5h1M1001 665.5h3M1053 665.5h1M514 666.5h24M773 666.5h1M864 666.5h4M908 666.5h1M927 666.5h4M1004 666.5h2M1052 666.5h1M263 667.5h7M508 667.5h6M538 667.5h3M772 667.5h1M868 667.5h3M907 667.5h1M1006 667.5h1M1031 667.5h6M1051 667.5h1M216 668.5h28M260 668.5h3M270 668.5h4M502 668.5h6M541 668.5h3M771 668.5h1M871 668.5h3M906 668.5h1M1007 668.5h2M1030 668.5h1M1037 668.5h1M1050 668.5h1M141 669.5h33M198 669.5h18M244 669.5h6M257 669.5h3M274 669.5h3M498 669.5h4M544 669.5h2M770 669.5h1M874 669.5h2M905 669.5h1M1009 669.5h2M1029 669.5h1M1038 669.5h1M1049 669.5h1M132 670.5h9M174 670.5h24M250 670.5h7M277 670.5h3M301 670.5h2M495 670.5h3M546 670.5h1M769 670.5h1M876 670.5h2M904 670.5h1M1011 670.5h2M1027 670.5h2M1039 670.5h2M1048 670.5h1M125 671.5h7M280 671.5h4M295 671.5h6M303 671.5h5M491 671.5h4M547 671.5h2M614 671.5h3M768 671.5h1M878 671.5h1M903 671.5h1M1013 671.5h2M1026 671.5h1M1041 671.5h1M1047 671.5h1M119 672.5h6M284 672.5h11M308 672.5h3M488 672.5h3M549 672.5h1M612 672.5h2M617 672.5h3M658 672.5h17M767 672.5h1M879 672.5h1M902 672.5h1M1015 672.5h3M1024 672.5h2M1042 672.5h5M114 673.5h5M311 673.5h4M485 673.5h3M550 673.5h2M610 673.5h2M620 673.5h2M653 673.5h5M675 673.5h3M766 673.5h1M879 673.5h1M901 673.5h1M1018 673.5h6M109 674.5h5M315 674.5h36M482 674.5h3M552 674.5h1M608 674.5h2M622 674.5h2M649 674.5h4M678 674.5h1M766 674.5h1M879 674.5h1M901 674.5h1M105 675.5h4M351 675.5h27M404 675.5h9M478 675.5h4M553 675.5h2M607 675.5h1M624 675.5h2M646 675.5h3M679 675.5h2M765 675.5h1M880 675.5h1M900 675.5h1M102 676.5h3M378 676.5h10M401 676.5h3M413 676.5h4M475 676.5h3M555 676.5h1M606 676.5h1M626 676.5h2M643 676.5h3M681 676.5h1M764 676.5h1M880 676.5h1M899 676.5h1M98 677.5h4M388 677.5h7M400 677.5h1M417 677.5h4M471 677.5h4M556 677.5h2M588 677.5h8M604 677.5h2M628 677.5h3M638 677.5h5M682 677.5h1M764 677.5h1M880 677.5h1M898 677.5h1M62 678.5h16M93 678.5h5M395 678.5h5M421 678.5h4M465 678.5h6M558 678.5h2M585 678.5h3M596 678.5h4M601 678.5h3M631 678.5h7M683 678.5h1M763 678.5h1M880 678.5h1M897 678.5h1M36 679.5h2M59 679.5h3M78 679.5h15M425 679.5h4M458 679.5h7M560 679.5h3M580 679.5h5M600 679.5h1M684 679.5h1M762 679.5h1M881 679.5h1M895 679.5h2M38 680.5h4M56 680.5h3M429 680.5h9M446 680.5h12M563 680.5h17M685 680.5h1M761 680.5h1M882 680.5h3M892 680.5h3M42 681.5h6M51 681.5h5M438 681.5h8M686 681.5h1M761 681.5h1M885 681.5h7M48 682.5h3M687 682.5h1M760 682.5h1M688 683.5h1M759 683.5h1M689 684.5h1M758 684.5h1M690 685.5h1M746 685.5h6M757 685.5h1M691 686.5h1M744 686.5h2M752 686.5h1M756 686.5h1M692 687.5h2M709 687.5h3M741 687.5h3M753 687.5h3M694 688.5h1M707 688.5h2M712 688.5h1M739 688.5h2M695 689.5h2M706 689.5h1M713 689.5h1M737 689.5h2M697 690.5h1M704 690.5h2M714 690.5h1M734 690.5h3M698 691.5h6M715 691.5h1M732 691.5h2M715 692.5h1M730 692.5h2M716 693.5h1M727 693.5h3" fill="none" stroke="#ff0000" stroke-width="1"/>
<line x1="1272" y1="455.5" x2="1314" y2="455.5" stroke="#808080" stroke-width="1" stroke-dasharray="4 2"/>
<rect x="36.0" y="553" width="1" height="1" fill="#ff0000"/>
<rect x="36.0" y="558" width="1" height="4" fill="#ff0000"/>
<rect x="35.5" y="554.5" width="2" height="3" fill="#fff" stroke="#ff0000" stroke-width="1"/>
<rect x="40.0" y="539" width="1" height="25" fill="#008000"/>
<rect x="39.0" y="539" width="3" height="25" fill="#008000"/>
<rect x="45.0" y="560" width="1" height="12" fill="#008000"/>
<rect x="44.0" y="560" width="3" height="5" fill="#008000"/>
<rect x="49.0" y="566" width="1" height="12" fill="#008000"/>
<rect x="48.0" y="566" width="3" height="12" fill="#008000"/>
<rect x="54.0" y="573" width="1" height="5" fill="#ff0000"/>
<rect x="54.0" y="579" width="1" height="1" fill="#ff0000"/>
<rect x="53.0" y="578" width="3" height="1" fill="#ff0000"/>
<rect x="58.0" y="574" width="1" height="4" fill="#008000"/>
<rect x="57.0" y="575" width="3" height="1" fill="#008000"/>
<rect x="63.0" y="576" width="1" height="11" fill="#008000"/>
<rect x="62.0" y="577" width="3" height="9" fill="#008000"/>
<rect x="67.0" y="584" width="1" height="6" fill="#008000"/>
<rect x="66.0" y="586" width="3" height="2" fill="#008000"/>
<rect x="72.0" y="586" width="1" height="1" fill="#ff0000"/>
<rect x="72.0" y="589" width="1" height="5" fill="#ff0000"/>
<rect x="71.0" y="587" width="3" height="2" fill="#ff0000"/>
<rect x="76.0" y="586" width="1" height="7" fill="#008000"/>
<rect x="75.0" y="588" width="3" height="3" fill="#008000"/>
<rect x="80.0" y="590" width="1" height="14" fill="#008000"/>
<rect x="79.0" y="590" width="3" height="13" fill="#008000"/>
<rect x="85.0" y="594" width="1" height="2" fill="#ff0000"/>
<rect x="85.0" y="600" width="1" height="5" fill="#ff0000"/>
<rect x="84.5" y="596.5" width="2" height="3" fill="#fff" stroke="#ff0000" stroke-width="1"/>
<rect x="88.5" y="592.5" width="2" height="5" fill="#fff" stroke="#ff0000" stroke-width="1"/>
<rect x="94.0" y="588" width="1" height="2" fill="#ff0000"/>
<rect x="94.0" y="592" width="1" height="1" fill="#ff0000"/>
<rect x="93.0" y="590" width="3" height="2" fill="#ff0000"/>
<rect x="97.5" y="583.5" width="2" height="5" fill="#fff" stroke="#ff0000" stroke-width="1"/>
<rect x="103.0" y="586" width="1" height="1" fill="#ff0000"/>
<rect x="102.5" y="583.5" width="2" height="2" fill="#fff" stroke="#ff0000" stroke-width="1"/>
<rect x="107.0" y="580" width="1" height="9" fill="#008000"/>
<rect x="106.0" y="583" width="3" height="5" fill="#008000"/>
<rect x="112.0" y="583" width="1" height="4" fill="#ff0000"/>
<rect x="112.0" y="588" width="1" height="3" fill="#ff0000"/>
<rect x="111.0" y="587" width="3" height="1" fill="#ff0000"/>
<rect x="116.0" y="588" width="1" height="4" fill="#ff0000"/>
<rect x="115.0" y="586" width="3" height="2" fill="#ff0000"/>
<rect x="121.0" y="586" width="1" height="2" fill="#ff0000"/>
<rect x="120.5" y="583.5" width="2" height="2" fill="#fff" stroke="#ff0000" stroke-width="1"/>
<rect x="125.0" y="581" width="1" height="1" fill="#ff0000"/>
<rect x="125.0" y="583" width="1" height="4" fill="#ff0000"/>
<rect x="124.0" y="582" width="3" height="1" fill="#ff0000"/>
<rect x="129.0" y="580" width="1" height="2" fill="#ff0000"/>
<rect x="128.0" y="579" width="3" height="1" fill="#ff0000"/>
<rect x="134.0" y="579" width="1" height="5" fill="#008000"/>
<rect x="133.0" y="579" width="3" height="3" fill="#008000"/>
<rect x="138.0" y="582" width="1" height="2" fill="#ff0000"/>
<rect x="138.0" y="585" width="1" height="2" fill="#ff0000"/>
<rect x="137.0" y="584" width="3" height="1" fill="#ff0000"/>
<rect x="143.0" y="583" width="1" height="8" fill="#008000"/>
<rect x="142.0" y="583" width="3" height="6" fill="#008000"/>
<rect x="147.0" y="591" width="1" height="1" fill="#008000"/>
<rect x="146.0" y="591" width="3" height="1" fill="#008000"/>
<rect x="152.0" y="588" width="1" height="8" fill="#008000"/>
<rect x="151.0" y="592" width="3" height="3" fill="#008000"/>
<rect x="156.0" y="594" width="1" height="6" fill="#008000"/>
<rect x="155.0" y="594" width="3" height="5" fill="#008000"/>
<rect x="161.0" y="593" width="1" height="3" fill="#ff0000"/>
<rect x="161.0" y="597" width="1" height="2" fill="#ff0000"/>
<rect x="160.0" y="596" width="3" height="1" fill="#ff0000"/>
<rect x="165.0" y="591" width="1" height="3" fill="#ff0000"/>
<rect x="165.0" y="596" width="1" height="1" fill="#ff0000"/>
<rect x="164.0" y="594" width="3" height="2" fill="#ff0000"/>
<rect x="169.0" y="592" width="1" height="1" fill="#ff0000"/>
<rect x="169.0" y="594" width="1" height="3" fill="#ff0000"/>
<rect x="168.0" y="593" width="3" height="1" fill="#ff0000"/>
<rect x="174.0" y="584" width="1" height="2" fill="#ff0000"/>
<rect x="174.0" y="592" width="1" height="2" fill="#ff0000"/>
<rect x="173.5" y="586.5" width="2" height="5" fill="#fff" stroke="#ff0000" stroke-width="1"/>
<rect x="178.0" y="583" width="1" height="1" fill="#ff0000"/>
<rect x="178.0" y="586" width="1" height="1" fill="#ff0000"/>
<rect x="177.0" y="584" width="3" height="2" fill="#ff0000"/>
<rect x="183.0" y="584" width="1" height="5" fill="#008000"/>
<rect x="182.0" y="585" width="3" height="1" fill="#008000"/>
<rect x="187.0" y="584" width="1" height="1" fill="#ff0000"/>
<rect x="187.0" y="586" width="1" height="13" fill="#ff0000"/>
<rect x="186.0" y="585" width="3" height="1" fill="#ff0000"/>
<rect x="192.0" y="582" width="1" height="1" fill="#ff0000"/>
<rect x="192.0" y="586" width="1" height="2" fill="#ff0000"/>
<rect x="191.5" y="583.5" width="2" height="2" fill="#fff" stroke="#ff0000" stroke-width="1"/>
<rect x="196.0" y="586" width="1" height="8" fill="#008000"/>
<rect x="195.0" y="586" width="3" height="8" fill="#008000"/>
<rect x="201.0" y="594" width="1" height="2" fill="#008000"/>
<rect x="200.0" y="594" width="3" height="2" fill="#008000"/>
<rect x="204.5" y="593.5" width="2" height="2" fill="#fff" stroke="#ff0000" stroke-width="1"/>
<rect x="210.0" y="592" width="1" height="9" fill="#008000"/>
<rect x="209.0" y="592" width="3" height="8" fill="#008000"/>
<rect x="214.0" y="596" width="1" height="7" fill="#008000"/>
<rect x="213.0" y="598" width="3" height="1" fill="#008000"/>
<rect x="218.0" y="601" width="1" height="2" fill="#008000"/>
<rect x="217.0" y="601" width="3" height="2" fill="#008000"/>
<rect x="223.0" y="600" width="1" height="7" fill="#008000"/>
<rect x="222.0" y="602" width="3" height="1" fill="#008000"/>
<rect x="227.0" y="599" width="1" height="2" fill="#ff0000"/>
<rect x="227.0" y="604" width="1" height="2" fill="#ff0000"/>
<rect x="226.5" y="601.5" width="2" height="2" fill="#fff" stroke="#ff0000" stroke-width="1"/>
<rect x="232.0" y="599" width="1" height="4" fill="#008000"/>
<rect x="231.0" y="601" width="3" height="2" fill="#008000"/>
<rect x="236.0" y="597" width="1" height="1" fill="#ff0000"/>
<rect x="236.0" y="602" width="1" height="3" fill="#ff0000"/>
<rect x="235.5" y="598.5" width="2" height="3" fill="#fff" stroke="#ff0000" stroke-width="1"/>
<rect x="241.0" y="598" width="1" height="5" fill="#008000"/>
<rect x="240.0" y="598" width="3" height="1" fill="#008000"/>
<rect x="245.0" y="599" width="1" height="2" fill="#008000"/>
<rect x="244.0" y="599" width="3" height="2" fill="#008000"/>
<rect x="250.0" y="601" width="1" height="6" fill="#008000"/>
<rect x="249.0" y="601" width="3" height="5" fill="#008000"/>
<rect x="254.0" y="603" width="1" height="10" fill="#008000"/>
<rect x="253.0" y="605" width="3" height="7" fill="#008000"/>
<rect x="258.0" y="614" width="1" height="10" fill="#008000"/>
<rect x="257.0" y="616" width="3" height="7" fill="#008000"/>
<rect x="263.0" y="622" width="1" height="4" fill="#008000"/>
<rect x="262.0" y="623" width="3" height="3" fill="#008000"/>
<rect x="267.0" y="622" width="1" height="1" fill="#ff0000"/>
<rect x="267.0" y="624" width="1" height="2" fill="#ff0000"/>
<rect x="266.0" y="623" width="3" height="1" fill="#ff0000"/>
<rect x="272.0" y="622" width="1" height="6" fill="#008000"/>
<rect x="271.0" y="625" width="3" height="3" fill="#008000"/>
<rect x="276.0" y="623" width="1" height="1" fill="#ff0000"/>
<rect x="276.0" y="629" width="1" height="3" fill="#ff0000"/>
<rect x="275.5" y="624.5" width="2" height="4" fill="#fff" stroke="#ff0000" stroke-width="1"/>
<rect x="281.0" y="613" width="1" height="3" fill="#ff0000"/>
<rect x="281.0" y="623" width="1" height="4" fill="#ff0000"/>
<rect x="280.5" y="616.5" width="2" height="6" fill="#fff" stroke="#ff0000" stroke-width="1"/>
<rect x="285.0" y="615" width="1" height="3" fill="#008000"/>
<rect x="284.0" y="616" width="3" height="1" fill="#008000"/>
<rect x="290.0" y="617" width="1" height="2" fill="#ff0000"/>
<rect x="289.5" y="612.5" width="2" height="4" fill="#fff" stroke="#ff0000" stroke-width="1"/>
<rect x="294.0" y="605" width="1" height="1" fill="#ff0000"/>
<rect x="294.0" y="611" width="1" height="1" fill="#ff0000"/>
<rect x="293.5" y="606.5" width="2" height="4" fill="#fff" stroke="#ff0000" stroke-width="1"/>
<rect x="299.0" y="607" width="1" height="3" fill="#008000"/>
<rect x="298.0" y="608" width="3" height="2" fill="#008000"/>
<rect x="303.0" y="609" width="1" height="6" fill="#008000"/>
<rect x="302.0" y="610" width="3" height="1" fill="#008000"/>
<rect x="307.0" y="606" width="1" height="7" fill="#008000"/>
<rect x="306.0" y="612" width="3" height="1" fill="#008000"/>
<rect x="312.0" y="598" width="1" height="2" fill="#ff0000"/>
<rect x="312.0" y="612" width="1" height="3" fill="#ff0000"/>
<rect x="311.5" y="600.5" width="2" height="11" fill="#fff" stroke="#ff0000" stroke-width="1"/>
<rect x="316.0" y="595" width="1" height="4" fill="#008000"/>
<rect x="315.0" y="598" width="3" height="1" fill="#008000"/>
<rect x="321.0" y="595" width="1" height="3" fill="#ff0000"/>
<rect x="321.0" y="599" width="1" height="2" fill="#ff0000"/>
<rect x="320.0" y="598" width="3" height="1" fill="#ff0000"/>
<rect x="325.0" y="595" width="1" height="4" fill="#008000"/>
<rect x="324.0" y="596" width="3" height="1" fill="#008000"/>
<rect x="330.0" y="592" width="1" height="2" fill="#ff0000"/>
<rect x="330.0" y="598" width="1" height="2" fill="#ff0000"/>
<rect x="329.5" y="594.5" width="2" height="3" fill="#fff" stroke="#ff0000" stroke-width="1"/>
<rect x="334.0" y="589" width="1" height="3" fill="#ff0000"/>
<rect x="333.0" y="592" width="3" height="2" fill="#ff0000"/>
<rect x="339.0" y="591" width="1" height="3" fill="#008000"/>
<rect x="338.0" y="592" width="3" height="1" fill="#008000"/>
<rect x="343.0" y="584" width="1" height="2" fill="#ff0000"/>
<rect x="343.0" y="590" width="1" height="2" fill="#ff0000"/>
<rect x="342.5" y="586.5" width="2" height="3" fill="#fff" stroke="#ff0000" stroke-width="1"/>
<rect x="347.0" y="586" width="1" height="3" fill="#ff0000"/>
<rect x="346.0" y="584" width="3" height="2" fill="#ff0000"/>
<rect x="352.0" y="584" width="1" height="7" fill="#008000"/>
<rect x="351.0" y="584" width="3" height="7" fill="#008000"/>
<rect x="356.0" y="587" width="1" height="2" fill="#ff0000"/>
<rect x="356.0" y="591" width="1" height="2" fill="#ff0000"/>
<rect x="355.0" y="589" width="3" height="2" fill="#ff0000"/>
<rect x="361.0" y="584" width="1" height="1" fill="#ff0000"/>
<rect x="361.0" y="588" width="1" height="1" fill="#ff0000"/>
<rect x="360.5" y="585.5" width="2" height="2" fill="#fff" stroke="#ff0000" stroke-width="1"/>
<rect x="365.0" y="582" width="1" height="8" fill="#008000"/>
<rect x="364.0" y="582" width="3" height="4" fill="#008000"/>
<rect x="370.0" y="587" width="1" height="5" fill="#ff0000"/>
<rect x="369.5" y="584.5" width="2" height="2" fill="#fff" stroke="#ff0000" stroke-width="1"/>
<rect x="374.0" y="576" width="1" height="3" fill="#ff0000"/>
<rect x="373.5" y="579.5" width="2" height="5" fill="#fff" stroke="#ff0000" stroke-width="1"/>
<rect x="379.0" y="574" width="1" height="5" fill="#ff0000"/>
<rect x="379.0" y="580" width="1" height="1" fill="#ff0000"/>
<rect x="378.0" y="579" width="3" height="1" fill="#ff0000"/>
<rect x="383.0" y="577" width="1" height="4" fill="#008000"/>
<rect x="382.0" y="577" width="3" height="1" fill="#008000"/>
<rect x="388.0" y="577" width="1" height="9" fill="#008000"/>
<rect x="387.0" y="577" width="3" height="9" fill="#008000"/>
<rect x="392.0" y="582" width="1" height="4" fill="#ff0000"/>
<rect x="391.5" y="572.5" width="2" height="9" fill="#fff" stroke="#ff0000" stroke-width="1"/>
<rect x="396.0" y="561" width="1" height="3" fill="#ff0000"/>
<rect x="395.5" y="564.5" width="2" height="6" fill="#fff" stroke="#ff0000" stroke-width="1"/>
<rect x="401.0" y="562" width="1" height="10" fill="#008000"/>
<rect x="400.0" y="566" width="3" height="1" fill="#008000"/>
<rect x="405.0" y="567" width="1" height="4" fill="#008000"/>
<rect x="404.0" y="568" width="3" height="2" fill="#008000"/>
<rect x="410.0" y="564" width="1" height="1" fill="#ff0000"/>
<rect x="409.5" y="565.5" width="2" height="5" fill="#fff" stroke="#ff0000" stroke-width="1"/>
<rect x="414.0" y="554" width="1" height="1" fill="#ff0000"/>
<rect x="414.0" y="564" width="1" height="4" fill="#ff0000"/>
<rect x="413.5" y="555.5" width="2" height="8" fill="#fff" stroke="#ff0000" stroke-width="1"/>
<rect x="419.0" y="555" width="1" height="13" fill="#008000"/>
<rect x="418.0" y="555" width="3" height="9" fill="#008000"/>
<rect x="423.0" y="566" width="1" height="5" fill="#008000"/>
<rect x="422.0" y="566" width="3" height="1" fill="#008000"/>
<rect x="428.0" y="565" width="1" height="15" fill="#008000"/>
<rect x="427.0" y="567" width="3" height="10" fill="#008000"/>
<rect x="432.0" y="574" width="1" height="2" fill="#ff0000"/>
<rect x="432.0" y="577" width="1" height="4" fill="#ff0000"/>
<rect x="431.0" y="576" width="3" height="1" fill="#ff0000"/>
<rect x="436.0" y="556" width="1" height="4" fill="#ff0000"/>
<rect x="435.5" y="560.5" width="2" height="15" fill="#fff" stroke="#ff0000" stroke-width="1"/>
<rect x="441.0" y="554" width="1" height="2" fill="#ff0000"/>
<rect x="441.0" y="559" width="1" height="3" fill="#ff0000"/>
<rect x="440.5" y="556.5" width="2" height="2" fill="#fff" stroke="#ff0000" stroke-width="1"/>
<rect x="445.0" y="555" width="1" height="7" fill="#008000"/>
<rect x="444.0" y="555" width="3" height="4" fill="#008000"/>
<rect x="450.0" y="559" width="1" height="7" fill="#008000"/>
<rect x="449.0" y="562" width="3" height="1" fill="#008000"/>
<rect x="454.0" y="562" width="1" height="4" fill="#ff0000"/>
<rect x="453.5" y="557.5" width="2" height="4" fill="#fff" stroke="#ff0000" stroke-width="1"/>
<rect x="459.0" y="556" width="1" height="7" fill="#008000"/>
<rect x="458.0" y="557" width="3" height="6" fill="#008000"/>
<rect x="463.0" y="558" width="1" height="2" fill="#ff0000"/>
<rect x="463.0" y="566" width="1" height="3" fill="#ff0000"/>
<rect x="462.5" y="560.5" width="2" height="5" fill="#fff" stroke="#ff0000" stroke-width="1"/>
<rect x="468.0" y="549" width="1" height="4" fill="#ff0000"/>
<rect x="468.0" y="559" width="1" height="2" fill="#ff0000"/>
<rect x="467.5" y="553.5" width="2" height="5" fill="#fff" stroke="#ff0000" stroke-width="1"/>
<rect x="472.0" y="550" width="1" height="9" fill="#008000"/>
<rect x="471.0" y="552" width="3" height="2" fill="#008000"/>
<rect x="477.0" y="544" width="1" height="10" fill="#008000"/>
<rect x="476.0" y="544" width="3" height="7" fill="#008000"/>
<rect x="481.0" y="545" width="1" height="7" fill="#008000"/>
<rect x="480.0" y="547" width="3" height="1" fill="#008000"/>
<rect x="485.0" y="548" width="1" height="11" fill="#008000"/>
<rect x="484.0" y="550" width="3" height="8" fill="#008000"/>
<rect x="490.0" y="558" width="1" height="2" fill="#ff0000"/>
<rect x="489.5" y="552.5" width="2" height="5" fill="#fff" stroke="#ff0000" stroke-width="1"/>
<rect x="494.0" y="554" width="1" height="10" fill="#008000"/>
<rect x="493.0" y="554" width="3" height="9" fill="#008000"/>
<rect x="499.0" y="561" width="1" height="5" fill="#008000"/>
<rect x="498.0" y="562" width="3" height="4" fill="#008000"/>
<rect x="503.0" y="560" width="1" height="2" fill="#ff0000"/>
<rect x="503.0" y="566" width="1" height="2" fill="#ff0000"/>
<rect x="502.5" y="562.5" width="2" height="3" fill="#fff" stroke="#ff0000" stroke-width="1"/>
<rect x="508.0" y="562" width="1" height="8" fill="#008000"/>
<rect x="507.0" y="564" width="3" height="4" fill="#008000"/>
<rect x="512.0" y="566" width="1" height="5" fill="#008000"/>
<rect x="511.0" y="567" width="3" height="1" fill="#008000"/>
<rect x="517.0" y="556" width="1" height="1" fill="#ff0000"/>
<rect x="516.5" y="557.5" width="2" height="7" fill="#fff" stroke="#ff0000" stroke-width="1"/>
<rect x="521.0" y="549" width="1" height="2" fill="#ff0000"/>
<rect x="521.0" y="552" width="1" height="4" fill="#ff0000"/>
<rect x="520.0" y="551" width="3" height="1" fill="#ff0000"/>
<rect x="525.0" y="540" width="1" height="11" fill="#ff0000"/>
<rect x="525.0" y="555" width="1" height="4" fill="#ff0000"/>
<rect x="524.5" y="551.5" width="2" height="3" fill="#fff" stroke="#ff0000" stroke-width="1"/>
<rect x="530.0" y="526" width="1" height="2" fill="#ff0000"/>
<rect x="530.0" y="544" width="1" height="5" fill="#ff0000"/>
<rect x="529.5" y="528.5" width="2" height="15" fill="#fff" stroke="#ff0000" stroke-width="1"/>
<rect x="534.0" y="520" width="1" height="5" fill="#ff0000"/>
<rect x="534.0" y="527" width="1" height="3" fill="#ff0000"/>
<rect x="533.0" y="525" width="3" height="2" fill="#ff0000"/>
<rect x="539.0" y="519" width="1" height="14" fill="#008000"/>
<rect x="538.0" y="527" width="3" height="2" fill="#008000"/>
<rect x="543.0" y="527" width="1" height="20" fill="#008000"/>
<rect x="542.0" y="531" width="3" height="8" fill="#008000"/>
<rect x="548.0" y="541" width="1" height="2" fill="#ff0000"/>
<rect x="547.5" y="516.5" width="2" height="24" fill="#fff" stroke="#ff0000" stroke-width="1"/>
<rect x="552.0" y="515" width="1" height="16" fill="#008000"/>
<rect x="551.0" y="520" width="3" height="8" fill="#008000"/>
<rect x="557.0" y="519" width="1" height="15" fill="#008000"/>
<rect x="556.0" y="528" width="3" height="2" fill="#008000"/>
<rect x="561.0" y="500" width="1" height="5" fill="#ff0000"/>
<rect x="560.5" y="505.5" width="2" height="28" fill="#fff" stroke="#ff0000" stroke-width="1"/>
<rect x="566.0" y="499" width="1" height="2" fill="#ff0000"/>
<rect x="566.0" y="509" width="1" height="5" fill="#ff0000"/>
<rect x="565.5" y="501.5" width="2" height="7" fill="#fff" stroke="#ff0000" stroke-width="1"/>
<rect x="570.0" y="497" width="1" height="16" fill="#008000"/>
<rect x="569.0" y="505" width="3" height="5" fill="#008000"/>
<rect x="574.0" y="509" width="1" height="2" fill="#ff0000"/>
<rect x="574.0" y="515" width="1" height="6" fill="#ff0000"/>
<rect x="573.5" y="511.5" width="2" height="3" fill="#fff" stroke="#ff0000" stroke-width="1"/>
<rect x="579.0" y="502" width="1" height="1" fill="#ff0000"/>
<rect x="579.0" y="512" width="1" height="3" fill="#ff0000"/>
<rect x="578.5" y="503.5" width="2" height="8" fill="#fff" stroke="#ff0000" stroke-width="1"/>
<rect x="583.0" y="502" width="1" height="8" fill="#008000"/>
<rect x="582.0" y="503" width="3" height="2" fill="#008000"/>
<rect x="588.0" y="506" width="1" height="9" fill="#008000"/>
<rect x="587.0" y="506" width="3" height="3" fill="#008000"/>
<rect x="592.0" y="511" width="1" height="11" fill="#008000"/>
<rect x="591.0" y="511" width="3" height="11" fill="#008000"/>
<rect x="597.0" y="511" width="1" height="1" fill="#ff0000"/>
<rect x="597.0" y="522" width="1" height="2" fill="#ff0000"/>
<rect x="596.5" y="512.5" width="2" height="9" fill="#fff" stroke="#ff0000" stroke-width="1"/>
<rect x="601.0" y="499" width="1" height="6" fill="#ff0000"/>
<rect x="601.0" y="513" width="1" height="5" fill="#ff0000"/>
<rect x="600.5" y="505.5" width="2" height="7" fill="#fff" stroke="#ff0000" stroke-width="1"/>
<rect x="606.0" y="507" width="1" height="11" fill="#008000"/>
<rect x="605.0" y="511" width="3" height="5" fill="#008000"/>
<rect x="610.0" y="515" width="1" height="7" fill="#008000"/>
<rect x="609.0" y="516" width="3" height="5" fill="#008000"/>
<rect x="614.0" y="518" width="1" height="9" fill="#008000"/>
<rect x="613.0" y="521" width="3" height="3" fill="#008000"/>
<rect x="619.0" y="518" width="1" height="14" fill="#008000"/>
<rect x="618.0" y="524" width="3" height="7" fill="#008000"/>
<rect x="623.0" y="516" width="1" height="10" fill="#ff0000"/>
<rect x="623.0" y="529" width="1" height="5" fill="#ff0000"/>
<rect x="622.5" y="526.5" width="2" height="2" fill="#fff" stroke="#ff0000" stroke-width="1"/>
<rect x="628.0" y="527" width="1" height="9" fill="#ff0000"/>
<rect x="627.5" y="519.5" width="2" height="7" fill="#fff" stroke="#ff0000" stroke-width="1"/>
<rect x="632.0" y="506" width="1" height="1" fill="#ff0000"/>
<rect x="632.0" y="516" width="1" height="4" fill="#ff0000"/>
<rect x="631.5" y="507.5" width="2" height="8" fill="#fff" stroke="#ff0000" stroke-width="1"/>
<rect x="637.0" y="481" width="1" height="12" fill="#ff0000"/>
<rect x="637.0" y="505" width="1" height="2" fill="#ff0000"/>
<rect x="636.5" y="493.5" width="2" height="11" fill="#fff" stroke="#ff0000" stroke-width="1"/>
<rect x="641.0" y="486" width="1" height="10" fill="#008000"/>
<rect x="640.0" y="491" width="3" height="2" fill="#008000"/>
<rect x="646.0" y="488" width="1" height="11" fill="#008000"/>
<rect x="645.0" y="493" width="3" height="2" fill="#008000"/>
<rect x="650.0" y="494" width="1" height="16" fill="#008000"/>
<rect x="649.0" y="495" width="3" height="7" fill="#008000"/>
<rect x="655.0" y="497" width="1" height="2" fill="#ff0000"/>
<rect x="655.0" y="506" width="1" height="6" fill="#ff0000"/>
<rect x="654.5" y="499.5" width="2" height="6" fill="#fff" stroke="#ff0000" stroke-width="1"/>
<rect x="659.0" y="499" width="1" height="4" fill="#ff0000"/>
<rect x="658.5" y="488.5" width="2" height="10" fill="#fff" stroke="#ff0000" stroke-width="1"/>
<rect x="663.0" y="484" width="1" height="15" fill="#008000"/>
<rect x="662.0" y="489" width="3" height="7" fill="#008000"/>
<rect x="668.0" y="488" width="1" height="4" fill="#ff0000"/>
<rect x="668.0" y="493" width="1" height="3" fill="#ff0000"/>
<rect x="667.0" y="492" width="3" height="1" fill="#ff0000"/>
<rect x="672.0" y="470" width="1" height="2" fill="#ff0000"/>
<rect x="672.0" y="495" width="1" height="3" fill="#ff0000"/>
<rect x="671.5" y="472.5" width="2" height="22" fill="#fff" stroke="#ff0000" stroke-width="1"/>
<rect x="677.0" y="468" width="1" height="12" fill="#008000"/>
<rect x="676.0" y="470" width="3" height="6" fill="#008000"/>
<rect x="681.0" y="440" width="1" height="8" fill="#ff0000"/>
<rect x="681.0" y="478" width="1" height="2" fill="#ff0000"/>
<rect x="680.5" y="448.5" width="2" height="29" fill="#fff" stroke="#ff0000" stroke-width="1"/>
<rect x="686.0" y="443" width="1" height="45" fill="#008000"/>
<rect x="685.0" y="453" width="3" height="25" fill="#008000"/>
<rect x="690.0" y="456" width="1" height="2" fill="#ff0000"/>
<rect x="690.0" y="476" width="1" height="4" fill="#ff0000"/>
<rect x="689.5" y="458.5" width="2" height="17" fill="#fff" stroke="#ff0000" stroke-width="1"/>
<rect x="695.0" y="421" width="1" height="9" fill="#ff0000"/>
<rect x="695.0" y="465" width="1" height="1" fill="#ff0000"/>
<rect x="694.5" y="430.5" width="2" height="34" fill="#fff" stroke="#ff0000" stroke-width="1"/>
<rect x="698.5" y="387.5" width="2" height="28" fill="#fff" stroke="#ff0000" stroke-width="1"/>
<rect x="703.0" y="347" width="1" height="11" fill="#ff0000"/>
<rect x="702.5" y="340.5" width="2" height="6" fill="#fff" stroke="#ff0000" stroke-width="1"/>
<rect x="708.0" y="309" width="1" height="5" fill="#ff0000"/>
<rect x="708.0" y="330" width="1" height="10" fill="#ff0000"/>
<rect x="707.5" y="314.5" width="2" height="15" fill="#fff" stroke="#ff0000" stroke-width="1"/>
<rect x="712.0" y="300" width="1" height="6" fill="#ff0000"/>
<rect x="712.0" y="316" width="1" height="8" fill="#ff0000"/>
<rect x="711.5" y="306.5" width="2" height="9" fill="#fff" stroke="#ff0000" stroke-width="1"/>
<rect x="717.0" y="298" width="1" height="17" fill="#ff0000"/>
<rect x="716.5" y="251.5" width="2" height="46" fill="#fff" stroke="#ff0000" stroke-width="1"/>
<rect x="721.0" y="230" width="1" height="45" fill="#008000"/>
<rect x="720.0" y="241" width="3" height="3" fill="#008000"/>
<rect x="726.0" y="253" width="1" height="27" fill="#008000"/>
<rect x="725.0" y="259" width="3" height="17" fill="#008000"/>
<rect x="730.0" y="269" width="1" height="33" fill="#008000"/>
<rect x="729.0" y="275" width="3" height="12" fill="#008000"/>
<rect x="735.0" y="279" width="1" height="3" fill="#ff0000"/>
<rect x="735.0" y="292" width="1" height="6" fill="#ff0000"/>
<rect x="734.5" y="282.5" width="2" height="9" fill="#fff" stroke="#ff0000" stroke-width="1"/>
<rect x="739.0" y="269" width="1" height="40" fill="#008000"/>
<rect x="738.0" y="286" width="3" height="13" fill="#008000"/>
<rect x="744.0" y="271" width="1" height="14" fill="#ff0000"/>
<rect x="744.0" y="300" width="1" height="4" fill="#ff0000"/>
<rect x="743.5" y="285.5" width="2" height="14" fill="#fff" stroke="#ff0000" stroke-width="1"/>
<rect x="748.0" y="259" width="1" height="5" fill="#ff0000"/>
<rect x="748.0" y="290" width="1" height="5" fill="#ff0000"/>
<rect x="747.5" y="264.5" width="2" height="25" fill="#fff" stroke="#ff0000" stroke-width="1"/>
<rect x="752.0" y="271" width="1" height="41" fill="#008000"/>
<rect x="751.0" y="271" width="3" height="37" fill="#008000"/>
<rect x="757.0" y="302" width="1" height="23" fill="#008000"/>
<rect x="756.0" y="305" width="3" height="3" fill="#008000"/>
<rect x="761.0" y="311" width="1" height="17" fill="#008000"/>
<rect x="760.0" y="316" width="3" height="5" fill="#008000"/>
<rect x="766.0" y="311" width="1" height="5" fill="#ff0000"/>
<rect x="766.0" y="317" width="1" height="5" fill="#ff0000"/>
<rect x="765.0" y="316" width="3" height="1" fill="#ff0000"/>
<rect x="770.0" y="306" width="1" height="17" fill="#008000"/>
<rect x="769.0" y="314" width="3" height="5" fill="#008000"/>
<rect x="775.0" y="315" width="1" height="21" fill="#008000"/>
<rect x="774.0" y="321" width="3" height="2" fill="#008000"/>
<rect x="779.0" y="293" width="1" height="11" fill="#ff0000"/>
<rect x="779.0" y="320" width="1" height="7" fill="#ff0000"/>
<rect x="778.5" y="304.5" width="2" height="15" fill="#fff" stroke="#ff0000" stroke-width="1"/>
<rect x="784.0" y="315" width="1" height="19" fill="#008000"/>
<rect x="783.0" y="315" width="3" height="11" fill="#008000"/>
<rect x="788.0" y="325" width="1" height="12" fill="#008000"/>
<rect x="787.0" y="325" width="3" height="12" fill="#008000"/>
<rect x="792.0" y="333" width="1" height="12" fill="#008000"/>
<rect x="791.0" y="340" width="3" height="2" fill="#008000"/>
<rect x="797.0" y="334" width="1" height="16" fill="#008000"/>
<rect x="796.0" y="340" width="3" height="4" fill="#008000"/>
<rect x="801.0" y="336" width="1" height="2" fill="#ff0000"/>
<rect x="801.0" y="342" width="1" height="13" fill="#ff0000"/>
<rect x="800.5" y="338.5" width="2" height="3" fill="#fff" stroke="#ff0000" stroke-width="1"/>
<rect x="806.0" y="341" width="1" height="36" fill="#008000"/>
<rect x="805.0" y="341" width="3" height="31" fill="#008000"/>
<rect x="810.0" y="369" width="1" height="22" fill="#008000"/>
<rect x="809.0" y="372" width="3" height="15" fill="#008000"/>
<rect x="815.0" y="390" width="1" height="23" fill="#008000"/>
<rect x="814.0" y="392" width="3" height="1" fill="#008000"/>
<rect x="819.0" y="377" width="1" height="5" fill="#ff0000"/>
<rect x="818.5" y="382.5" width="2" height="12" fill="#fff" stroke="#ff0000" stroke-width="1"/>
<rect x="824.0" y="367" width="1" height="13" fill="#ff0000"/>
<rect x="824.0" y="382" width="1" height="14" fill="#ff0000"/>
<rect x="823.0" y="380" width="3" height="2" fill="#ff0000"/>
<rect x="828.0" y="357" width="1" height="23" fill="#008000"/>
<rect x="827.0" y="374" width="3" height="5" fill="#008000"/>
<rect x="833.0" y="340" width="1" height="9" fill="#ff0000"/>
<rect x="833.0" y="372" width="1" height="4" fill="#ff0000"/>
<rect x="832.5" y="349.5" width="2" height="22" fill="#fff" stroke="#ff0000" stroke-width="1"/>
<rect x="837.0" y="356" width="1" height="42" fill="#008000"/>
<rect x="836.0" y="361" width="3" height="31" fill="#008000"/>
<rect x="841.0" y="402" width="1" height="29" fill="#008000"/>
<rect x="840.0" y="411" width="3" height="1" fill="#008000"/>
<rect x="846.0" y="417" width="1" height="39" fill="#008000"/>
<rect x="845.0" y="417" width="3" height="31" fill="#008000"/>
<rect x="850.0" y="433" width="1" height="4" fill="#ff0000"/>
<rect x="850.0" y="449" width="1" height="26" fill="#ff0000"/>
<rect x="849.5" y="437.5" width="2" height="11" fill="#fff" stroke="#ff0000" stroke-width="1"/>
<rect x="855.0" y="402" width="1" height="6" fill="#ff0000"/>
<rect x="855.0" y="432" width="1" height="9" fill="#ff0000"/>
<rect x="854.5" y="408.5" width="2" height="23" fill="#fff" stroke="#ff0000" stroke-width="1"/>
<rect x="859.0" y="407" width="1" height="26" fill="#008000"/>
<rect x="858.0" y="410" width="3" height="22" fill="#008000"/>
<rect x="864.0" y="425" width="1" height="28" fill="#008000"/>
<rect x="863.0" y="442" width="3" height="2" fill="#008000"/>
<rect x="868.0" y="424" width="1" height="2" fill="#ff0000"/>
<rect x="868.0" y="451" width="1" height="1" fill="#ff0000"/>
<rect x="867.5" y="426.5" width="2" height="24" fill="#fff" stroke="#ff0000" stroke-width="1"/>
<rect x="873.0" y="409" width="1" height="6" fill="#ff0000"/>
<rect x="872.5" y="383.5" width="2" height="25" fill="#fff" stroke="#ff0000" stroke-width="1"/>
<rect x="877.0" y="366" width="1" height="38" fill="#008000"/>
<rect x="876.0" y="366" width="3" height="16" fill="#008000"/>
<rect x="881.0" y="337" width="1" height="12" fill="#ff0000"/>
<rect x="881.0" y="388" width="1" height="9" fill="#ff0000"/>
<rect x="880.5" y="349.5" width="2" height="38" fill="#fff" stroke="#ff0000" stroke-width="1"/>
<rect x="886.0" y="345" width="1" height="21" fill="#008000"/>
<rect x="885.0" y="350" width="3" height="13" fill="#008000"/>
<rect x="890.0" y="379" width="1" height="31" fill="#008000"/>
<rect x="889.0" y="379" width="3" height="30" fill="#008000"/>
<rect x="895.0" y="403" width="1" height="7" fill="#ff0000"/>
<rect x="895.0" y="414" width="1" height="9" fill="#ff0000"/>
<rect x="894.5" y="410.5" width="2" height="3" fill="#fff" stroke="#ff0000" stroke-width="1"/>
<rect x="899.0" y="383" width="1" height="4" fill="#ff0000"/>
<rect x="899.0" y="404" width="1" height="6" fill="#ff0000"/>
<rect x="898.5" y="387.5" width="2" height="16" fill="#fff" stroke="#ff0000" stroke-width="1"/>
<rect x="904.0" y="369" width="1" height="7" fill="#ff0000"/>
<rect x="904.0" y="385" width="1" height="7" fill="#ff0000"/>
<rect x="903.5" y="376.5" width="2" height="8" fill="#fff" stroke="#ff0000" stroke-width="1"/>
<rect x="908.0" y="366" width="1" height="23" fill="#008000"/>
<rect x="907.0" y="379" width="3" height="10" fill="#008000"/>
<rect x="913.0" y="350" width="1" height="7" fill="#ff0000"/>
<rect x="913.0" y="383" width="1" height="2" fill="#ff0000"/>
<rect x="912.5" y="357.5" width="2" height="25" fill="#fff" stroke="#ff0000" stroke-width="1"/>
<rect x="917.0" y="356" width="1" height="13" fill="#ff0000"/>
<rect x="916.5" y="351.5" width="2" height="4" fill="#fff" stroke="#ff0000" stroke-width="1"/>
<rect x="922.0" y="362" width="1" height="26" fill="#008000"/>
<rect x="921.0" y="362" width="3" height="25" fill="#008000"/>
<rect x="926.0" y="371" width="1" height="16" fill="#ff0000"/>
<rect x="925.5" y="387.5" width="2" height="2" fill="#fff" stroke="#ff0000" stroke-width="1"/>
<rect x="930.0" y="385" width="1" height="38" fill="#008000"/>
<rect x="929.0" y="391" width="3" height="31" fill="#008000"/>
<rect x="935.0" y="432" width="1" height="6" fill="#ff0000"/>
<rect x="934.5" y="410.5" width="2" height="21" fill="#fff" stroke="#ff0000" stroke-width="1"/>
<rect x="939.0" y="393" width="1" height="3" fill="#ff0000"/>
<rect x="938.5" y="396.5" width="2" height="12" fill="#fff" stroke="#ff0000" stroke-width="1"/>
<rect x="944.0" y="393" width="1" height="21" fill="#008000"/>
<rect x="943.0" y="398" width="3" height="4" fill="#008000"/>
<rect x="948.0" y="369" width="1" height="17" fill="#ff0000"/>
<rect x="948.0" y="392" width="1" height="1" fill="#ff0000"/>
<rect x="947.5" y="386.5" width="2" height="5" fill="#fff" stroke="#ff0000" stroke-width="1"/>
<rect x="953.0" y="374" width="1" height="23" fill="#008000"/>
<rect x="952.0" y="376" width="3" height="6" fill="#008000"/>
<rect x="957.0" y="386" width="1" height="12" fill="#008000"/>
<rect x="956.0" y="392" width="3" height="3" fill="#008000"/>
<rect x="962.0" y="397" width="1" height="29" fill="#008000"/>
<rect x="961.0" y="405" width="3" height="6" fill="#008000"/>
<rect x="966.0" y="406" width="1" height="13" fill="#008000"/>
<rect x="965.0" y="413" width="3" height="1" fill="#008000"/>
<rect x="970.0" y="395" width="1" height="2" fill="#ff0000"/>
<rect x="969.5" y="397.5" width="2" height="16" fill="#fff" stroke="#ff0000" stroke-width="1"/>
<rect x="975.0" y="380" width="1" height="12" fill="#ff0000"/>
<rect x="975.0" y="395" width="1" height="5" fill="#ff0000"/>
<rect x="974.5" y="392.5" width="2" height="2" fill="#fff" stroke="#ff0000" stroke-width="1"/>
<rect x="979.0" y="375" width="1" height="7" fill="#ff0000"/>
<rect x="979.0" y="390" width="1" height="2" fill="#ff0000"/>
<rect x="978.5" y="382.5" width="2" height="7" fill="#fff" stroke="#ff0000" stroke-width="1"/>
<rect x="984.0" y="367" width="1" height="13" fill="#008000"/>
<rect x="983.0" y="370" width="3" height="5" fill="#008000"/>
<rect x="988.0" y="371" width="1" height="23" fill="#008000"/>
<rect x="987.0" y="371" width="3" height="20" fill="#008000"/>
<rect x="993.0" y="371" width="1" height="7" fill="#ff0000"/>
<rect x="993.0" y="386" width="1" height="8" fill="#ff0000"/>
<rect x="992.5" y="378.5" width="2" height="7" fill="#fff" stroke="#ff0000" stroke-width="1"/>
<rect x="997.0" y="359" width="1" height="23" fill="#008000"/>
<rect x="996.0" y="371" width="3" height="3" fill="#008000"/>
<rect x="1002.0" y="374" width="1" height="12" fill="#ff0000"/>
<rect x="1001.5" y="368.5" width="2" height="5" fill="#fff" stroke="#ff0000" stroke-width="1"/>
<rect x="1006.0" y="352" width="1" height="1" fill="#ff0000"/>
<rect x="1006.0" y="371" width="1" height="9" fill="#ff0000"/>
<rect x="1005.5" y="353.5" width="2" height="17" fill="#fff" stroke="#ff0000" stroke-width="1"/>
<rect x="1011.0" y="355" width="1" height="18" fill="#008000"/>
<rect x="1010.0" y="355" width="3" height="16" fill="#008000"/>
<rect x="1015.0" y="373" width="1" height="16" fill="#008000"/>
<rect x="1014.0" y="375" width="3" height="13" fill="#008000"/>
<rect x="1019.0" y="381" width="1" height="30" fill="#008000"/>
<rect x="1018.0" y="391" width="3" height="18" fill="#008000"/>
<rect x="1024.0" y="397" width="1" height="2" fill="#ff0000"/>
<rect x="1024.0" y="415" width="1" height="2" fill="#ff0000"/>
<rect x="1023.5" y="399.5" width="2" height="15" fill="#fff" stroke="#ff0000" stroke-width="1"/>
<rect x="1028.0" y="394" width="1" height="15" fill="#008000"/>
<rect x="1027.0" y="399" width="3" height="7" fill="#008000"/>
<rect x="1033.0" y="398" width="1" height="2" fill="#ff0000"/>
<rect x="1033.0" y="406" width="1" height="3" fill="#ff0000"/>
<rect x="1032.5" y="400.5" width="2" height="5" fill="#fff" stroke="#ff0000" stroke-width="1"/>
<rect x="1037.0" y="380" width="1" height="1" fill="#ff0000"/>
<rect x="1037.0" y="400" width="1" height="8" fill="#ff0000"/>
<rect x="1036.5" y="381.5" width="2" height="18" fill="#fff" stroke="#ff0000" stroke-width="1"/>
<rect x="1042.0" y="337" width="1" height="12" fill="#ff0000"/>
<rect x="1042.0" y="372" width="1" height="7" fill="#ff0000"/>
<rect x="1041.5" y="349.5" width="2" height="22" fill="#fff" stroke="#ff0000" stroke-width="1"/>
<rect x="1046.0" y="331" width="1" height="16" fill="#ff0000"/>
<rect x="1046.0" y="349" width="1" height="14" fill="#ff0000"/>
<rect x="1045.0" y="347" width="3" height="2" fill="#ff0000"/>
<rect x="1051.0" y="333" width="1" height="7" fill="#ff0000"/>
<rect x="1051.0" y="348" width="1" height="5" fill="#ff0000"/>
<rect x="1050.5" y="340.5" width="2" height="7" fill="#fff" stroke="#ff0000" stroke-width="1"/>
<rect x="1055.0" y="344" width="1" height="16" fill="#008000"/>
<rect x="1054.0" y="347" width="3" height="9" fill="#008000"/>
<rect x="1059.0" y="357" width="1" height="16" fill="#008000"/>
<rect x="1058.0" y="360" width="3" height="2" fill="#008000"/>
<rect x="1064.0" y="355" width="1" height="16" fill="#008000"/>
<rect x="1063.0" y="362" width="3" height="1" fill="#008000"/>
<rect x="1068.0" y="362" width="1" height="21" fill="#008000"/>
<rect x="1067.0" y="363" width="3" height="6" fill="#008000"/>
<rect x="1072.5" y="347.5" width="2" height="19" fill="#fff" stroke="#ff0000" stroke-width="1"/>
<rect x="1077.0" y="344" width="1" height="16" fill="#008000"/>
<rect x="1076.0" y="347" width="3" height="7" fill="#008000"/>
<rect x="1082.0" y="345" width="1" height="5" fill="#ff0000"/>
<rect x="1082.0" y="355" width="1" height="12" fill="#ff0000"/>
<rect x="1081.5" y="350.5" width="2" height="4" fill="#fff" stroke="#ff0000" stroke-width="1"/>
<rect x="1086.0" y="316" width="1" height="5" fill="#ff0000"/>
<rect x="1086.0" y="349" width="1" height="4" fill="#ff0000"/>
<rect x="1085.5" y="321.5" width="2" height="27" fill="#fff" stroke="#ff0000" stroke-width="1"/>
<rect x="1091.0" y="308" width="1" height="24" fill="#008000"/>
<rect x="1090.0" y="319" width="3" height="3" fill="#008000"/>
<rect x="1095.0" y="312" width="1" height="23" fill="#008000"/>
<rect x="1094.0" y="322" width="3" height="6" fill="#008000"/>
<rect x="1100.0" y="330" width="1" height="30" fill="#008000"/>
<rect x="1099.0" y="343" width="3" height="1" fill="#008000"/>
<rect x="1104.0" y="344" width="1" height="21" fill="#008000"/>
<rect x="1103.0" y="344" width="3" height="16" fill="#008000"/>
<rect x="1108.0" y="341" width="1" height="11" fill="#ff0000"/>
<rect x="1108.0" y="360" width="1" height="2" fill="#ff0000"/>
<rect x="1107.5" y="352.5" width="2" height="7" fill="#fff" stroke="#ff0000" stroke-width="1"/>
<rect x="1113.0" y="330" width="1" height="10" fill="#ff0000"/>
<rect x="1112.5" y="340.5" width="2" height="11" fill="#fff" stroke="#ff0000" stroke-width="1"/>
<rect x="1117.0" y="340" width="1" height="26" fill="#008000"/>
<rect x="1116.0" y="340" width="3" height="26" fill="#008000"/>
<rect x="1122.0" y="359" width="1" height="19" fill="#008000"/>
<rect x="1121.0" y="366" width="3" height="8" fill="#008000"/>
<rect x="1126.0" y="359" width="1" height="4" fill="#ff0000"/>
<rect x="1126.0" y="369" width="1" height="4" fill="#ff0000"/>
<rect x="1125.5" y="363.5" width="2" height="5" fill="#fff" stroke="#ff0000" stroke-width="1"/>
<rect x="1131.0" y="341" width="1" height="15" fill="#ff0000"/>
<rect x="1131.0" y="366" width="1" height="1" fill="#ff0000"/>
<rect x="1130.5" y="356.5" width="2" height="9" fill="#fff" stroke="#ff0000" stroke-width="1"/>
<rect x="1135.0" y="360" width="1" height="16" fill="#008000"/>
<rect x="1134.0" y="361" width="3" height="11" fill="#008000"/>
<rect x="1140.0" y="371" width="1" height="14" fill="#008000"/>
<rect x="1139.0" y="373" width="3" height="11" fill="#008000"/>
<rect x="1144.0" y="380" width="1" height="8" fill="#008000"/>
<rect x="1143.0" y="385" width="3" height="1" fill="#008000"/>
<rect x="1148.0" y="375" width="1" height="13" fill="#008000"/>
<rect x="1147.0" y="384" width="3" height="1" fill="#008000"/>
<rect x="1153.0" y="381" width="1" height="4" fill="#ff0000"/>
<rect x="1152.5" y="372.5" width="2" height="8" fill="#fff" stroke="#ff0000" stroke-width="1"/>
<rect x="1157.0" y="370" width="1" height="2" fill="#ff0000"/>
<rect x="1157.0" y="375" width="1" height="3" fill="#ff0000"/>
<rect x="1156.5" y="372.5" width="2" height="2" fill="#fff" stroke="#ff0000" stroke-width="1"/>
<rect x="1162.0" y="372" width="1" height="20" fill="#008000"/>
<rect x="1161.0" y="372" width="3" height="20" fill="#008000"/>
<rect x="1166.0" y="383" width="1" height="7" fill="#ff0000"/>
<rect x="1166.0" y="391" width="1" height="5" fill="#ff0000"/>
<rect x="1165.0" y="390" width="3" height="1" fill="#ff0000"/>
<rect x="1171.0" y="379" width="1" height="4" fill="#ff0000"/>
<rect x="1170.5" y="383.5" width="2" height="6" fill="#fff" stroke="#ff0000" stroke-width="1"/>
<rect x="1175.0" y="380" width="1" height="21" fill="#008000"/>
<rect x="1174.0" y="382" width="3" height="17" fill="#008000"/>
<rect x="1180.0" y="401" width="1" height="26" fill="#008000"/>
<rect x="1179.0" y="401" width="3" height="23" fill="#008000"/>
<rect x="1184.0" y="415" width="1" height="10" fill="#008000"/>
<rect x="1183.0" y="418" width="3" height="4" fill="#008000"/>
<rect x="1189.0" y="411" width="1" height="3" fill="#ff0000"/>
<rect x="1188.5" y="414.5" width="2" height="6" fill="#fff" stroke="#ff0000" stroke-width="1"/>
<rect x="1193.0" y="405" width="1" height="2" fill="#ff0000"/>
<rect x="1193.0" y="411" width="1" height="9" fill="#ff0000"/>
<rect x="1192.5" y="407.5" width="2" height="3" fill="#fff" stroke="#ff0000" stroke-width="1"/>
<rect x="1197.0" y="397" width="1" height="1" fill="#ff0000"/>
<rect x="1197.0" y="407" width="1" height="3" fill="#ff0000"/>
<rect x="1196.5" y="398.5" width="2" height="8" fill="#fff" stroke="#ff0000" stroke-width="1"/>
<rect x="1202.0" y="392" width="1" height="30" fill="#008000"/>
<rect x="1201.0" y="392" width="3" height="27" fill="#008000"/>
<rect x="1206.0" y="416" width="1" height="11" fill="#008000"/>
<rect x="1205.0" y="419" width="3" height="7" fill="#008000"/>
<rect x="1211.0" y="417" width="1" height="4" fill="#ff0000"/>
<rect x="1211.0" y="422" width="1" height="6" fill="#ff0000"/>
<rect x="1210.0" y="421" width="3" height="1" fill="#ff0000"/>
<rect x="1215.0" y="420" width="1" height="23" fill="#008000"/>
<rect x="1214.0" y="420" width="3" height="20" fill="#008000"/>
<rect x="1220.0" y="437" width="1" height="39" fill="#008000"/>
<rect x="1219.0" y="440" width="3" height="20" fill="#008000"/>
<rect x="1224.0" y="449" width="1" height="1" fill="#ff0000"/>
<rect x="1224.0" y="461" width="1" height="6" fill="#ff0000"/>
<rect x="1223.5" y="450.5" width="2" height="10" fill="#fff" stroke="#ff0000" stroke-width="1"/>
<rect x="1229.0" y="433" width="1" height="6" fill="#ff0000"/>
<rect x="1229.0" y="454" width="1" height="1" fill="#ff0000"/>
<rect x="1228.5" y="439.5" width="2" height="14" fill="#fff" stroke="#ff0000" stroke-width="1"/>
<rect x="1233.0" y="434" width="1" height="13" fill="#008000"/>
<rect x="1232.0" y="444" width="3" height="1" fill="#008000"/>
<rect x="1237.0" y="440" width="1" height="8" fill="#008000"/>
<rect x="1236.0" y="445" width="3" height="1" fill="#008000"/>
<rect x="1242.0" y="434" width="1" height="1" fill="#ff0000"/>
<rect x="1242.0" y="446" width="1" height="7" fill="#ff0000"/>
<rect x="1241.5" y="435.5" width="2" height="10" fill="#fff" stroke="#ff0000" stroke-width="1"/>
<rect x="1246.0" y="426" width="1" height="12" fill="#008000"/>
<rect x="1245.0" y="436" width="3" height="1" fill="#008000"/>
<rect x="1251.0" y="436" width="1" height="15" fill="#008000"/>
<rect x="1250.0" y="436" width="3" height="12" fill="#008000"/>
<rect x="1255.0" y="448" width="1" height="16" fill="#008000"/>
<rect x="1254.0" y="448" width="3" height="15" fill="#008000"/>
<rect x="1260.0" y="452" width="1" height="6" fill="#ff0000"/>
<rect x="1259.5" y="458.5" width="2" height="4" fill="#fff" stroke="#ff0000" stroke-width="1"/>
<rect x="1264.0" y="453" width="1" height="3" fill="#ff0000"/>
<rect x="1264.0" y="457" width="1" height="4" fill="#ff0000"/>
<rect x="1263.0" y="456" width="3" height="1" fill="#ff0000"/>
<rect x="1269.0" y="444" width="1" height="12" fill="#008000"/>
<rect x="1268.0" y="455" width="3" height="1" fill="#008000"/>
<rect x="35.5" y="783.5" width="2" height="11" fill="#fff" stroke="#ff0000" stroke-width="1"/>
<rect x="39.0" y="776" width="3" height="18" fill="#008000"/>
<rect x="44.0" y="779" width="3" height="15" fill="#008000"/>
<rect x="48.0" y="786" width="3" height="8" fill="#008000"/>
<rect x="53.5" y="789.5" width="2" height="5" fill="#fff" stroke="#ff0000" stroke-width="1"/>
<rect x="57.0" y="791" width="3" height="3" fill="#008000"/>
<rect x="62.0" y="787" width="3" height="7" fill="#008000"/>
<rect x="66.0" y="791" width="3" height="3" fill="#008000"/>
<rect x="71.5" y="788.5" width="2" height="6" fill="#fff" stroke="#ff0000" stroke-width="1"/>
<rect x="75.0" y="790" width="3" height="4" fill="#008000"/>
<rect x="79.0" y="787" width="3" height="7" fill="#008000"/>
<rect x="84.5" y="788.5" width="2" height="6" fill="#fff" stroke="#ff0000" stroke-width="1"/>
<rect x="88.5" y="790.5" width="2" height="4" fill="#fff" stroke="#ff0000" stroke-width="1"/>
<rect x="93.5" y="790.5" width="2" height="4" fill="#fff" stroke="#ff0000" stroke-width="1"/>
<rect x="97.5" y="788.5" width="2" height="6" fill="#fff" stroke="#ff0000" stroke-width="1"/>
<rect x="102.5" y="790.5" width="2" height="4" fill="#fff" stroke="#ff0000" stroke-width="1"/>
<rect x="106.0" y="787" width="3" height="7" fill="#008000"/>
<rect x="111.5" y="790.5" width="2" height="4" fill="#fff" stroke="#ff0000" stroke-width="1"/>
<rect x="115.5" y="790.5" width="2" height="4" fill="#fff" stroke="#ff0000" stroke-width="1"/>
<rect x="120.5" y="788.5" width="2" height="6" fill="#fff" stroke="#ff0000" stroke-width="1"/>
<rect x="124.5" y="788.5" width="2" height="6" fill="#fff" stroke="#ff0000" stroke-width="1"/>
<rect x="128.5" y="785.5" width="2" height="9" fill="#fff" stroke="#ff0000" stroke-width="1"/>
<rect x="133.0" y="786" width="3" height="8" fill="#008000"/>
<rect x="137.5" y="790.5" width="2" height="4" fill="#fff" stroke="#ff0000" stroke-width="1"/>
<rect x="142.0" y="789" width="3" height="5" fill="#008000"/>
<rect x="146.0" y="787" width="3" height="7" fill="#008000"/>
<rect x="151.0" y="786" width="3" height="8" fill="#008000"/>
<rect x="155.0" y="789" width="3" height="5" fill="#008000"/>
<rect x="160.5" y="790.5" width="2" height="4" fill="#fff" stroke="#ff0000" stroke-width="1"/>
<rect x="164.5" y="790.5" width="2" height="4" fill="#fff" stroke="#ff0000" stroke-width="1"/>
<rect x="168.5" y="790.5" width="2" height="4" fill="#fff" stroke="#ff0000" stroke-width="1"/>
<rect x="173.5" y="784.5" width="2" height="10" fill="#fff" stroke="#ff0000" stroke-width="1"/>
<rect x="177.5" y="787.5" width="2" height="7" fill="#fff" stroke="#ff0000" stroke-width="1"/>
<rect x="182.0" y="787" width="3" height="7" fill="#008000"/>
<rect x="186.5" y="788.5" width="2" height="6" fill="#fff" stroke="#ff0000" stroke-width="1"/>
<rect x="191.5" y="784.5" width="2" height="10" fill="#fff" stroke="#ff0000" stroke-width="1"/>
<rect x="195.0" y="788" width="3" height="6" fill="#008000"/>
<rect x="200.0" y="791" width="3" height="3" fill="#008000"/>
<rect x="204.5" y="790.5" width="2" height="4" fill="#fff" stroke="#ff0000" stroke-width="1"/>
<rect x="209.0" y="790" width="3" height="4" fill="#008000"/>
<rect x="213.0" y="791" width="3" height="3" fill="#008000"/>
<rect x="217.0" y="790" width="3" height="4" fill="#008000"/>
<rect x="222.0" y="791" width="3" height="3" fill="#008000"/>
<rect x="226.5" y="791.5" width="2" height="3" fill="#fff" stroke="#ff0000" stroke-width="1"/>
<rect x="231.0" y="792" width="3" height="2" fill="#008000"/>
<rect x="235.5" y="790.5" width="2" height="4" fill="#fff" stroke="#ff0000" stroke-width="1"/>
<rect x="240.0" y="791" width="3" height="3" fill="#008000"/>
<rect x="244.0" y="792" width="3" height="2" fill="#008000"/>
<rect x="249.0" y="791" width="3" height="3" fill="#008000"/>
<rect x="253.0" y="790" width="3" height="4" fill="#008000"/>
<rect x="257.0" y="788" width="3" height="6" fill="#008000"/>
<rect x="262.0" y="791" width="3" height="3" fill="#008000"/>
<rect x="266.5" y="792.5" width="2" height="2" fill="#fff" stroke="#ff0000" stroke-width="1"/>
<rect x="271.0" y="792" width="3" height="2" fill="#008000"/>
<rect x="275.5" y="792.5" width="2" height="2" fill="#fff" stroke="#ff0000" stroke-width="1"/>
<rect x="280.5" y="788.5" width="2" height="6" fill="#fff" stroke="#ff0000" stroke-width="1"/>
<rect x="284.0" y="790" width="3" height="4" fill="#008000"/>
<rect x="289.5" y="788.5" width="2" height="6" fill="#fff" stroke="#ff0000" stroke-width="1"/>
<rect x="293.5" y="788.5" width="2" height="6" fill="#fff" stroke="#ff0000" stroke-width="1"/>
<rect x="298.0" y="790" width="3" height="4" fill="#008000"/>
<rect x="302.0" y="790" width="3" height="4" fill="#008000"/>
<rect x="306.0" y="788" width="3" height="6" fill="#008000"/>
<rect x="311.5" y="782.5" width="2" height="12" fill="#fff" stroke="#ff0000" stroke-width="1"/>
<rect x="315.0" y="785" width="3" height="9" fill="#008000"/>
<rect x="320.5" y="786.5" width="2" height="8" fill="#fff" stroke="#ff0000" stroke-width="1"/>
<rect x="324.0" y="788" width="3" height="6" fill="#008000"/>
<rect x="329.5" y="785.5" width="2" height="9" fill="#fff" stroke="#ff0000" stroke-width="1"/>
<rect x="333.5" y="784.5" width="2" height="10" fill="#fff" stroke="#ff0000" stroke-width="1"/>
<rect x="338.0" y="790" width="3" height="4" fill="#008000"/>
<rect x="342.5" y="783.5" width="2" height="11" fill="#fff" stroke="#ff0000" stroke-width="1"/>
<rect x="346.5" y="786.5" width="2" height="8" fill="#fff" stroke="#ff0000" stroke-width="1"/>
<rect x="351.0" y="784" width="3" height="10" fill="#008000"/>
<rect x="355.5" y="788.5" width="2" height="6" fill="#fff" stroke="#ff0000" stroke-width="1"/>
<rect x="360.5" y="785.5" width="2" height="9" fill="#fff" stroke="#ff0000" stroke-width="1"/>
<rect x="364.0" y="788" width="3" height="6" fill="#008000"/>
<rect x="369.5" y="786.5" width="2" height="8" fill="#fff" stroke="#ff0000" stroke-width="1"/>
<rect x="373.5" y="780.5" width="2" height="14" fill="#fff" stroke="#ff0000" stroke-width="1"/>
<rect x="378.5" y="781.5" width="2" height="13" fill="#fff" stroke="#ff0000" stroke-width="1"/>
<rect x="382.0" y="783" width="3" height="11" fill="#008000"/>
<rect x="387.0" y="781" width="3" height="13" fill="#008000"/>
<rect x="391.5" y="776.5" width="2" height="18" fill="#fff" stroke="#ff0000" stroke-width="1"/>
<rect x="395.5" y="775.5" width="2" height="19" fill="#fff" stroke="#ff0000" stroke-width="1"/>
<rect x="400.0" y="776" width="3" height="18" fill="#008000"/>
<rect x="404.0" y="786" width="3" height="8" fill="#008000"/>
<rect x="409.5" y="783.5" width="2" height="11" fill="#fff" stroke="#ff0000" stroke-width="1"/>
<rect x="413.5" y="776.5" width="2" height="18" fill="#fff" stroke="#ff0000" stroke-width="1"/>
<rect x="418.0" y="782" width="3" height="12" fill="#008000"/>
<rect x="422.0" y="785" width="3" height="9" fill="#008000"/>
<rect x="427.0" y="781" width="3" height="13" fill="#008000"/>
<rect x="431.5" y="785.5" width="2" height="9" fill="#fff" stroke="#ff0000" stroke-width="1"/>
<rect x="435.5" y="777.5" width="2" height="17" fill="#fff" stroke="#ff0000" stroke-width="1"/>
<rect x="440.5" y="768.5" width="2" height="26" fill="#fff" stroke="#ff0000" stroke-width="1"/>
<rect x="444.0" y="782" width="3" height="12" fill="#008000"/>
<rect x="449.0" y="786" width="3" height="8" fill="#008000"/>
<rect x="453.5" y="782.5" width="2" height="12" fill="#fff" stroke="#ff0000" stroke-width="1"/>
<rect x="458.0" y="783" width="3" height="11" fill="#008000"/>
<rect x="462.5" y="786.5" width="2" height="8" fill="#fff" stroke="#ff0000" stroke-width="1"/>
<rect x="467.5" y="780.5" width="2" height="14" fill="#fff" stroke="#ff0000" stroke-width="1"/>
<rect x="471.0" y="787" width="3" height="7" fill="#008000"/>
<rect x="476.0" y="784" width="3" height="10" fill="#008000"/>
<rect x="480.0" y="784" width="3" height="10" fill="#008000"/>
<rect x="484.0" y="783" width="3" height="11" fill="#008000"/>
<rect x="489.5" y="787.5" width="2" height="7" fill="#fff" stroke="#ff0000" stroke-width="1"/>
<rect x="493.0" y="784" width="3" height="10" fill="#008000"/>
<rect x="498.0" y="788" width="3" height="6" fill="#008000"/>
<rect x="502.5" y="788.5" width="2" height="6" fill="#fff" stroke="#ff0000" stroke-width="1"/>
<rect x="507.0" y="787" width="3" height="7" fill="#008000"/>
<rect x="511.0" y="787" width="3" height="7" fill="#008000"/>
<rect x="516.5" y="783.5" width="2" height="11" fill="#fff" stroke="#ff0000" stroke-width="1"/>
<rect x="520.5" y="782.5" width="2" height="12" fill="#fff" stroke="#ff0000" stroke-width="1"/>
<rect x="524.5" y="772.5" width="2" height="22" fill="#fff" stroke="#ff0000" stroke-width="1"/>
<rect x="529.5" y="760.5" width="2" height="34" fill="#fff" stroke="#ff0000" stroke-width="1"/>
<rect x="533.5" y="770.5" width="2" height="24" fill="#fff" stroke="#ff0000" stroke-width="1"/>
<rect x="538.0" y="777" width="3" height="17" fill="#008000"/>
<rect x="542.0" y="777" width="3" height="17" fill="#008000"/>
<rect x="547.5" y="768.5" width="2" height="26" fill="#fff" stroke="#ff0000" stroke-width="1"/>
<rect x="551.0" y="772" width="3" height="22" fill="#008000"/>
<rect x="556.0" y="776" width="3" height="18" fill="#008000"/>
<rect x="560.5" y="763.5" width="2" height="31" fill="#fff" stroke="#ff0000" stroke-width="1"/>
<rect x="565.5" y="773.5" width="2" height="21" fill="#fff" stroke="#ff0000" stroke-width="1"/>
<rect x="569.0" y="777" width="3" height="17" fill="#008000"/>
<rect x="573.5" y="784.5" width="2" height="10" fill="#fff" stroke="#ff0000" stroke-width="1"/>
<rect x="578.5" y="781.5" width="2" height="13" fill="#fff" stroke="#ff0000" stroke-width="1"/>
<rect x="582.0" y="784" width="3" height="10" fill="#008000"/>
<rect x="587.0" y="783" width="3" height="11" fill="#008000"/>
<rect x="591.0" y="780" width="3" height="14" fill="#008000"/>
<rect x="596.5" y="780.5" width="2" height="14" fill="#fff" stroke="#ff0000" stroke-width="1"/>
<rect x="600.5" y="776.5" width="2" height="18" fill="#fff" stroke="#ff0000" stroke-width="1"/>
<rect x="605.0" y="785" width="3" height="9" fill="#008000"/>
<rect x="609.0" y="787" width="3" height="7" fill="#008000"/>
<rect x="613.0" y="787" width="3" height="7" fill="#008000"/>
<rect x="618.0" y="786" width="3" height="8" fill="#008000"/>
<rect x="622.5" y="785.5" width="2" height="9" fill="#fff" stroke="#ff0000" stroke-width="1"/>
<rect x="627.5" y="790.5" width="2" height="4" fill="#fff" stroke="#ff0000" stroke-width="1"/>
<rect x="631.5" y="781.5" width="2" height="13" fill="#fff" stroke="#ff0000" stroke-width="1"/>
<rect x="636.5" y="766.5" width="2" height="28" fill="#fff" stroke="#ff0000" stroke-width="1"/>
<rect x="640.0" y="783" width="3" height="11" fill="#008000"/>
<rect x="645.0" y="786" width="3" height="8" fill="#008000"/>
<rect x="649.0" y="785" width="3" height="9" fill="#008000"/>
<rect x="654.5" y="790.5" width="2" height="4" fill="#fff" stroke="#ff0000" stroke-width="1"/>
<rect x="658.5" y="788.5" width="2" height="6" fill="#fff" stroke="#ff0000" stroke-width="1"/>
<rect x="662.0" y="784" width="3" height="10" fill="#008000"/>
<rect x="667.5" y="783.5" width="2" height="11" fill="#fff" stroke="#ff0000" stroke-width="1"/>
<rect x="671.5" y="770.5" width="2" height="24" fill="#fff" stroke="#ff0000" stroke-width="1"/>
<rect x="676.0" y="774" width="3" height="20" fill="#008000"/>
<rect x="680.5" y="762.5" width="2" height="32" fill="#fff" stroke="#ff0000" stroke-width="1"/>
<rect x="685.0" y="754" width="3" height="40" fill="#008000"/>
<rect x="689.5" y="758.5" width="2" height="36" fill="#fff" stroke="#ff0000" stroke-width="1"/>
<rect x="694.5" y="758.5" width="2" height="36" fill="#fff" stroke="#ff0000" stroke-width="1"/>
<rect x="698.5" y="752.5" width="2" height="42" fill="#fff" stroke="#ff0000" stroke-width="1"/>
<rect x="702.5" y="718.5" width="2" height="76" fill="#fff" stroke="#ff0000" stroke-width="1"/>
<rect x="707.5" y="714.5" width="2" height="80" fill="#fff" stroke="#ff0000" stroke-width="1"/>
<rect x="711.5" y="723.5" width="2" height="71" fill="#fff" stroke="#ff0000" stroke-width="1"/>
<rect x="716.5" y="694.5" width="2" height="100" fill="#fff" stroke="#ff0000" stroke-width="1"/>
<rect x="720.0" y="732" width="3" height="62" fill="#008000"/>
<rect x="725.0" y="739" width="3" height="55" fill="#008000"/>
<rect x="729.0" y="726" width="3" height="68" fill="#008000"/>
<rect x="734.5" y="744.5" width="2" height="50" fill="#fff" stroke="#ff0000" stroke-width="1"/>
<rect x="738.0" y="728" width="3" height="66" fill="#008000"/>
<rect x="743.5" y="750.5" width="2" height="44" fill="#fff" stroke="#ff0000" stroke-width="1"/>
<rect x="747.5" y="736.5" width="2" height="58" fill="#fff" stroke="#ff0000" stroke-width="1"/>
<rect x="751.0" y="702" width="3" height="92" fill="#008000"/>
<rect x="756.0" y="717" width="3" height="77" fill="#008000"/>
<rect x="760.0" y="755" width="3" height="39" fill="#008000"/>
<rect x="765.5" y="762.5" width="2" height="32" fill="#fff" stroke="#ff0000" stroke-width="1"/>
<rect x="769.0" y="748" width="3" height="46" fill="#008000"/>
<rect x="774.0" y="746" width="3" height="48" fill="#008000"/>
<rect x="778.5" y="706.5" width="2" height="88" fill="#fff" stroke="#ff0000" stroke-width="1"/>
<rect x="783.0" y="740" width="3" height="54" fill="#008000"/>
<rect x="787.0" y="769" width="3" height="25" fill="#008000"/>
<rect x="791.0" y="769" width="3" height="25" fill="#008000"/>
<rect x="796.0" y="767" width="3" height="27" fill="#008000"/>
<rect x="800.5" y="768.5" width="2" height="26" fill="#fff" stroke="#ff0000" stroke-width="1"/>
<rect x="805.0" y="756" width="3" height="38" fill="#008000"/>
<rect x="809.0" y="748" width="3" height="46" fill="#008000"/>
<rect x="814.0" y="759" width="3" height="35" fill="#008000"/>
<rect x="818.5" y="756.5" width="2" height="38" fill="#fff" stroke="#ff0000" stroke-width="1"/>
<rect x="823.5" y="751.5" width="2" height="43" fill="#fff" stroke="#ff0000" stroke-width="1"/>
<rect x="827.0" y="751" width="3" height="43" fill="#008000"/>
<rect x="832.5" y="723.5" width="2" height="71" fill="#fff" stroke="#ff0000" stroke-width="1"/>
<rect x="836.0" y="751" width="3" height="43" fill="#008000"/>
<rect x="840.0" y="762" width="3" height="32" fill="#008000"/>
<rect x="845.0" y="758" width="3" height="36" fill="#008000"/>
<rect x="849.5" y="753.5" width="2" height="41" fill="#fff" stroke="#ff0000" stroke-width="1"/>
<rect x="854.5" y="746.5" width="2" height="48" fill="#fff" stroke="#ff0000" stroke-width="1"/>
<rect x="858.0" y="757" width="3" height="37" fill="#008000"/>
<rect x="863.0" y="768" width="3" height="26" fill="#008000"/>
<rect x="867.5" y="768.5" width="2" height="26" fill="#fff" stroke="#ff0000" stroke-width="1"/>
<rect x="872.5" y="752.5" width="2" height="42" fill="#fff" stroke="#ff0000" stroke-width="1"/>
<rect x="876.0" y="714" width="3" height="80" fill="#008000"/>
<rect x="880.5" y="714.5" width="2" height="80" fill="#fff" stroke="#ff0000" stroke-width="1"/>
<rect x="885.0" y="743" width="3" height="51" fill="#008000"/>
<rect x="889.0" y="741" width="3" height="53" fill="#008000"/>
<rect x="894.5" y="766.5" width="2" height="28" fill="#fff" stroke="#ff0000" stroke-width="1"/>
<rect x="898.5" y="756.5" width="2" height="38" fill="#fff" stroke="#ff0000" stroke-width="1"/>
<rect x="903.5" y="751.5" width="2" height="43" fill="#fff" stroke="#ff0000" stroke-width="1"/>
<rect x="907.0" y="756" width="3" height="38" fill="#008000"/>
<rect x="912.5" y="744.5" width="2" height="50" fill="#fff" stroke="#ff0000" stroke-width="1"/>
<rect x="916.5" y="751.5" width="2" height="43" fill="#fff" stroke="#ff0000" stroke-width="1"/>
<rect x="921.0" y="737" width="3" height="57" fill="#008000"/>
<rect x="925.5" y="758.5" width="2" height="36" fill="#fff" stroke="#ff0000" stroke-width="1"/>
<rect x="929.0" y="757" width="3" height="37" fill="#008000"/>
<rect x="934.5" y="774.5" width="2" height="20" fill="#fff" stroke="#ff0000" stroke-width="1"/>
<rect x="938.5" y="770.5" width="2" height="24" fill="#fff" stroke="#ff0000" stroke-width="1"/>
<rect x="943.0" y="767" width="3" height="27" fill="#008000"/>
<rect x="947.5" y="738.5" width="2" height="56" fill="#fff" stroke="#ff0000" stroke-width="1"/>
<rect x="952.0" y="756" width="3" height="38" fill="#008000"/>
<rect x="956.0" y="782" width="3" height="12" fill="#008000"/>
<rect x="961.0" y="777" width="3" height="17" fill="#008000"/>
<rect x="965.0" y="780" width="3" height="14" fill="#008000"/>
<rect x="969.5" y="776.5" width="2" height="18" fill="#fff" stroke="#ff0000" stroke-width="1"/>
<rect x="974.5" y="768.5" width="2" height="26" fill="#fff" stroke="#ff0000" stroke-width="1"/>
<rect x="978.5" y="766.5" width="2" height="28" fill="#fff" stroke="#ff0000" stroke-width="1"/>
<rect x="983.0" y="752" width="3" height="42" fill="#008000"/>
<rect x="987.0" y="759" width="3" height="35" fill="#008000"/>
<rect x="992.5" y="762.5" width="2" height="32" fill="#fff" stroke="#ff0000" stroke-width="1"/>
<rect x="996.0" y="753" width="3" height="41" fill="#008000"/>
<rect x="1001.5" y="757.5" width="2" height="37" fill="#fff" stroke="#ff0000" stroke-width="1"/>
<rect x="1005.5" y="744.5" width="2" height="50" fill="#fff" stroke="#ff0000" stroke-width="1"/>
<rect x="1010.0" y="758" width="3" height="36" fill="#008000"/>
<rect x="1014.0" y="767" width="3" height="27" fill="#008000"/>
<rect x="1018.0" y="760" width="3" height="34" fill="#008000"/>
<rect x="1023.5" y="780.5" width="2" height="14" fill="#fff" stroke="#ff0000" stroke-width="1"/>
<rect x="1027.0" y="780" width="3" height="14" fill="#008000"/>
<rect x="1032.5" y="783.5" width="2" height="11" fill="#fff" stroke="#ff0000" stroke-width="1"/>
<rect x="1036.5" y="763.5" width="2" height="31" fill="#fff" stroke="#ff0000" stroke-width="1"/>
<rect x="1041.5" y="696.5" width="2" height="98" fill="#fff" stroke="#ff0000" stroke-width="1"/>
<rect x="1045.5" y="725.5" width="2" height="69" fill="#fff" stroke="#ff0000" stroke-width="1"/>
<rect x="1050.5" y="746.5" width="2" height="48" fill="#fff" stroke="#ff0000" stroke-width="1"/>
<rect x="1054.0" y="759" width="3" height="35" fill="#008000"/>
<rect x="1058.0" y="769" width="3" height="25" fill="#008000"/>
<rect x="1063.0" y="769" width="3" height="25" fill="#008000"/>
<rect x="1067.0" y="774" width="3" height="20" fill="#008000"/>
<rect x="1072.5" y="761.5" width="2" height="33" fill="#fff" stroke="#ff0000" stroke-width="1"/>
<rect x="1076.0" y="773" width="3" height="21" fill="#008000"/>
<rect x="1081.5" y="761.5" width="2" height="33" fill="#fff" stroke="#ff0000" stroke-width="1"/>
<rect x="1085.5" y="727.5" width="2" height="67" fill="#fff" stroke="#ff0000" stroke-width="1"/>
<rect x="1090.0" y="752" width="3" height="42" fill="#008000"/>
<rect x="1094.0" y="764" width="3" height="30" fill="#008000"/>
<rect x="1099.0" y="759" width="3" height="35" fill="#008000"/>
<rect x="1103.0" y="765" width="3" height="29" fill="#008000"/>
<rect x="1107.5" y="775.5" width="2" height="19" fill="#fff" stroke="#ff0000" stroke-width="1"/>
<rect x="1112.5" y="767.5" width="2" height="27" fill="#fff" stroke="#ff0000" stroke-width="1"/>
<rect x="1116.0" y="773" width="3" height="21" fill="#008000"/>
<rect x="1121.0" y="772" width="3" height="22" fill="#008000"/>
<rect x="1125.5" y="772.5" width="2" height="22" fill="#fff" stroke="#ff0000" stroke-width="1"/>
<rect x="1130.5" y="766.5" width="2" height="28" fill="#fff" stroke="#ff0000" stroke-width="1"/>
<rect x="1134.0" y="768" width="3" height="26" fill="#008000"/>
<rect x="1139.0" y="777" width="3" height="17" fill="#008000"/>
<rect x="1143.0" y="783" width="3" height="11" fill="#008000"/>
<rect x="1147.0" y="781" width="3" height="13" fill="#008000"/>
<rect x="1152.5" y="778.5" width="2" height="16" fill="#fff" stroke="#ff0000" stroke-width="1"/>
<rect x="1156.5" y="778.5" width="2" height="16" fill="#fff" stroke="#ff0000" stroke-width="1"/>
<rect x="1161.0" y="771" width="3" height="23" fill="#008000"/>
<rect x="1165.5" y="776.5" width="2" height="18" fill="#fff" stroke="#ff0000" stroke-width="1"/>
<rect x="1170.5" y="780.5" width="2" height="14" fill="#fff" stroke="#ff0000" stroke-width="1"/>
<rect x="1174.0" y="772" width="3" height="22" fill="#008000"/>
<rect x="1179.0" y="772" width="3" height="22" fill="#008000"/>
<rect x="1183.0" y="784" width="3" height="10" fill="#008000"/>
<rect x="1188.5" y="785.5" width="2" height="9" fill="#fff" stroke="#ff0000" stroke-width="1"/>
<rect x="1192.5" y="780.5" width="2" height="14" fill="#fff" stroke="#ff0000" stroke-width="1"/>
<rect x="1196.5" y="776.5" width="2" height="18" fill="#fff" stroke="#ff0000" stroke-width="1"/>
<rect x="1201.0" y="776" width="3" height="18" fill="#008000"/>
<rect x="1205.0" y="785" width="3" height="9" fill="#008000"/>
<rect x="1210.5" y="784.5" width="2" height="10" fill="#fff" stroke="#ff0000" stroke-width="1"/>
<rect x="1214.0" y="782" width="3" height="12" fill="#008000"/>
<rect x="1219.0" y="780" width="3" height="14" fill="#008000"/>
<rect x="1223.5" y="786.5" width="2" height="8" fill="#fff" stroke="#ff0000" stroke-width="1"/>
<rect x="1228.5" y="780.5" width="2" height="14" fill="#fff" stroke="#ff0000" stroke-width="1"/>
<rect x="1232.0" y="784" width="3" height="10" fill="#008000"/>
<rect x="1236.0" y="788" width="3" height="6" fill="#008000"/>
<rect x="1241.5" y="786.5" width="2" height="8" fill="#fff" stroke="#ff0000" stroke-width="1"/>
<rect x="1245.0" y="782" width="3" height="12" fill="#008000"/>
<rect x="1250.0" y="787" width="3" height="7" fill="#008000"/>
<rect x="1254.0" y="788" width="3" height="6" fill="#008000"/>
<rect x="1259.5" y="790.5" width="2" height="4" fill="#fff" stroke="#ff0000" stroke-width="1"/>
<rect x="1263.5" y="788.5" width="2" height="6" fill="#fff" stroke="#ff0000" stroke-width="1"/>
<rect x="1268.0" y="784" width="3" height="10" fill="#008000"/>
</g>
<g shape-rendering="crispEdges">
<path d="M262 614.5h13M259 615.5h3M275 615.5h3M257 616.5h2M278 616.5h2M255 617.5h2M280 617.5h2M254 618.5h1M282 618.5h1M253 619.5h1M283 619.5h1M252 620.5h1M284 620.5h1M251 621.5h1M285 621.5h1M250 622.5h1M286 622.5h1M249 623.5h1M287 623.5h1M248 624.5h1M288 624.5h1M248 625.5h1M288 625.5h1M247 626.5h1M289 626.5h1M247 627.5h1M289 627.5h1M246 628.5h1M290 628.5h1M246 629.5h1M290 629.5h1M246 630.5h1M290 630.5h1M246 631.5h1M291 631.5h1M245 632.5h1M291 632.5h1M245 633.5h1M291 633.5h1M245 634.5h1M291 634.5h1M245 635.5h1M291 635.5h1M245 636.5h1M291 636.5h1M245 637.5h1M291 637.5h1M245 638.5h1M291 638.5h1M245 639.5h1M291 639.5h1M246 640.5h1M291 640.5h1M246 641.5h1M290 641.5h1M246 642.5h1M290 642.5h1M247 643.5h1M290 643.5h1M247 644.5h1M289 644.5h1M247 645.5h1M289 645.5h1M248 646.5h1M288 646.5h1M248 647.5h1M288 647.5h1M249 648.5h1M287 648.5h1M250 649.5h1M286 649.5h1M251 650.5h1M285 650.5h1M252 651.5h1M284 651.5h1M253 652.5h2M283 652.5h1M255 653.5h1M281 653.5h2M256 654.5h2M280 654.5h1M258 655.5h2M278 655.5h2M260 656.5h3M274 656.5h4M263 657.5h11" fill="none" stroke="#ff0000" stroke-width="1"/>
<path d="M417 539.5h15M413 540.5h4M432 540.5h5M410 541.5h3M437 541.5h2M407 542.5h3M439 542.5h2M406 543.5h1M441 543.5h1M404 544.5h2M442 544.5h2M403 545.5h1M444 545.5h1M402 546.5h1M445 546.5h1M401 547.5h1M446 547.5h1M400 548.5h1M447 548.5h1M399 549.5h1M448 549.5h1M398 550.5h1M448 550.5h1M397 551.5h1M449 551.5h1M397 552.5h1M449 552.5h1M396 553.5h1M449 553.5h1M396 554.5h1M449 554.5h1M396 555.5h1M449 555.5h1M396 556.5h1M449 556.5h1M395 557.5h1M449 557.5h1M395 558.5h1M449 558.5h1M396 559.5h1M448 559.5h1M396 560.5h1M448 560.5h1M396 561.5h1M447 561.5h1M396 562.5h1M447 562.5h1M397 563.5h1M446 563.5h1M398 564.5h1M445 564.5h1M398 565.5h1M444 565.5h1M399 566.5h1M443 566.5h1M400 567.5h2M442 567.5h1M402 568.5h1M440 568.5h2M403 569.5h2M438 569.5h2M405 570.5h2M436 570.5h2M407 571.5h2M433 571.5h3M409 572.5h4M429 572.5h4M413 573.5h16" fill="none" stroke="#ff0000" stroke-width="1"/>
<path d="M564 480.5h11M561 481.5h3M575 481.5h3M559 482.5h2M578 482.5h2M557 483.5h2M580 483.5h2M556 484.5h1M582 484.5h2M555 485.5h1M584 485.5h1M554 486.5h1M585 486.5h1M553 487.5h1M586 487.5h1M552 488.5h1M587 488.5h1M551 489.5h1M588 489.5h1M550 490.5h1M588 490.5h1M549 491.5h1M589 491.5h1M549 492.5h1M590 492.5h1M548 493.5h1M590 493.5h1M548 494.5h1M591 494.5h1M547 495.5h1M591 495.5h1M547 496.5h1M591 496.5h1M547 497.5h1M592 497.5h1M546 498.5h1M592 498.5h1M546 499.5h1M592 499.5h1M546 500.5h1M592 500.5h1M546 501.5h1M592 501.5h1M546 502.5h1M592 502.5h1M546 503.5h1M593 503.5h1M546 504.5h1M592 504.5h1M546 505.5h1M592 505.5h1M546 506.5h1M592 506.5h1M546 507.5h1M592 507.5h1M546 508.5h1M592 508.5h1M546 509.5h1M592 509.5h1M547 510.5h1M591 510.5h1M547 511.5h1M591 511.5h1M547 512.5h1M591 512.5h1M548 513.5h1M590 513.5h1M548 514.5h1M590 514.5h1M549 515.5h1M589 515.5h1M549 516.5h1M589 516.5h1M550 517.5h1M588 517.5h1M551 518.5h1M587 518.5h1M552 519.5h1M586 519.5h1M553 520.5h1M585 520.5h1M554 521.5h1M584 521.5h1M555 522.5h2M583 522.5h1M557 523.5h1M581 523.5h2M558 524.5h2M580 524.5h1M560 525.5h2M577 525.5h3M562 526.5h5M573 526.5h4M567 527.5h6" fill="none" stroke="#ff0000" stroke-width="1"/>
<path d="M726 260.5h8M722 261.5h4M734 261.5h5M718 262.5h4M739 262.5h3M715 263.5h3M742 263.5h3M714 264.5h1M745 264.5h2M712 265.5h2M747 265.5h2M711 266.5h1M749 266.5h1M709 267.5h2M750 267.5h1M708 268.5h1M751 268.5h2M707 269.5h1M753 269.5h1M706 270.5h1M754 270.5h1M705 271.5h1M755 271.5h1M704 272.5h1M756 272.5h1M704 273.5h1M757 273.5h1M703 274.5h1M757 274.5h1M702 275.5h1M758 275.5h1M702 276.5h1M758 276.5h1M701 277.5h1M759 277.5h1M700 278.5h1M760 278.5h1M700 279.5h1M760 279.5h1M699 280.5h1M761 280.5h1M699 281.5h1M761 281.5h1M699 282.5h1M761 282.5h1M699 283.5h1M761 283.5h1M698 284.5h1M762 284.5h1M698 285.5h1M762 285.5h1M698 286.5h1M762 286.5h1M698 287.5h1M762 287.5h1M698 288.5h1M762 288.5h1M698 289.5h1M762 289.5h1M698 290.5h1M763 290.5h1M698 291.5h1M762 291.5h1M698 292.5h1M762 292.5h1M698 293.5h1M762 293.5h1M698 294.5h1M762 294.5h1M698 295.5h1M762 295.5h1M698 296.5h1M762 296.5h1M698 297.5h1M762 297.5h1M699 298.5h1M761 298.5h1M699 299.5h1M761 299.5h1M699 300.5h1M761 300.5h1M699 301.5h1M760 301.5h1M700 302.5h1M760 302.5h1M700 303.5h1M759 303.5h1M701 304.5h1M759 304.5h1M702 305.5h1M758 305.5h1M702 306.5h1M758 306.5h1M703 307.5h1M757 307.5h1M704 308.5h1M756 308.5h1M705 309.5h1M755 309.5h1M706 310.5h1M754 310.5h1M707 311.5h1M753 311.5h1M708 312.5h1M752 312.5h1M709 313.5h1M751 313.5h1M710 314.5h2M750 314.5h1M712 315.5h1M748 315.5h2M713 316.5h2M746 316.5h2M715 317.5h2M744 317.5h2M717 318.5h2M742 318.5h2M719 319.5h4M738 319.5h4M723 320.5h15" fill="none" stroke="#ff0000" stroke-width="1"/>
<path d="M722 230.5h1M721 231.5h1M723 231.5h4M727 232.5h4M731 233.5h4M735 234.5h4M739 235.5h2" fill="none" stroke="#0000ff" stroke-width="1"/>
<path d="M293 626.5h4M289 627.5h4M285 628.5h4M281 629.5h4M277 630.5h4M276 631.5h1" fill="none" stroke="#0000ff" stroke-width="1"/>
</g>
<polygon points="717.5,697.5 721.5,693.5 725.5,697.5" fill="#000"/>
<text x="742" y="246" font-size="10.5" fill="#0000ff" font-family='"Liberation Sans", sans-serif' textLength="44" lengthAdjust="spacingAndGlyphs">19.7000</text>
<text x="296.8" y="628.5" font-size="10.5" fill="#0000ff" font-family='"Liberation Sans", sans-serif' textLength="37.5" lengthAdjust="spacingAndGlyphs">7.0200</text>
<text x="36.0" y="106" font-size="9.8" fill="#a6a6a6" font-family='"Liberation Sans", sans-serif' textLength="19" lengthAdjust="spacingAndGlyphs">09-12</text>
<text x="89.9" y="106" font-size="9.8" fill="#a6a6a6" font-family='"Liberation Sans", sans-serif' textLength="19" lengthAdjust="spacingAndGlyphs">10-10</text>
<text x="156.7" y="106" font-size="9.8" fill="#a6a6a6" font-family='"Liberation Sans", sans-serif' textLength="19" lengthAdjust="spacingAndGlyphs">10-31</text>
<text x="223.4" y="106" font-size="9.8" fill="#a6a6a6" font-family='"Liberation Sans", sans-serif' textLength="19" lengthAdjust="spacingAndGlyphs">11-21</text>
<text x="290.1" y="106" font-size="9.8" fill="#a6a6a6" font-family='"Liberation Sans", sans-serif' textLength="19" lengthAdjust="spacingAndGlyphs">12-12</text>
<text x="356.9" y="106" font-size="9.8" fill="#a6a6a6" font-family='"Liberation Sans", sans-serif' textLength="19" lengthAdjust="spacingAndGlyphs">01-07</text>
<text x="423.6" y="106" font-size="9.8" fill="#a6a6a6" font-family='"Liberation Sans", sans-serif' textLength="19" lengthAdjust="spacingAndGlyphs">01-28</text>
<text x="490.4" y="106" font-size="9.8" fill="#a6a6a6" font-family='"Liberation Sans", sans-serif' textLength="19" lengthAdjust="spacingAndGlyphs">02-25</text>
<text x="557.1" y="106" font-size="9.8" fill="#a6a6a6" font-family='"Liberation Sans", sans-serif' textLength="19" lengthAdjust="spacingAndGlyphs">03-18</text>
<text x="623.9" y="106" font-size="9.8" fill="#a6a6a6" font-family='"Liberation Sans", sans-serif' textLength="19" lengthAdjust="spacingAndGlyphs">04-10</text>
<text x="690.6" y="106" font-size="9.8" fill="#a6a6a6" font-family='"Liberation Sans", sans-serif' textLength="19" lengthAdjust="spacingAndGlyphs">05-06</text>
<text x="757.4" y="106" font-size="9.8" fill="#a6a6a6" font-family='"Liberation Sans", sans-serif' textLength="19" lengthAdjust="spacingAndGlyphs">05-27</text>
<text x="824.1" y="106" font-size="9.8" fill="#a6a6a6" font-family='"Liberation Sans", sans-serif' textLength="19" lengthAdjust="spacingAndGlyphs">06-20</text>
<text x="890.9" y="106" font-size="9.8" fill="#a6a6a6" font-family='"Liberation Sans", sans-serif' textLength="19" lengthAdjust="spacingAndGlyphs">07-11</text>
<text x="957.6" y="106" font-size="9.8" fill="#a6a6a6" font-family='"Liberation Sans", sans-serif' textLength="19" lengthAdjust="spacingAndGlyphs">08-01</text>
<text x="1024.4" y="106" font-size="9.8" fill="#a6a6a6" font-family='"Liberation Sans", sans-serif' textLength="19" lengthAdjust="spacingAndGlyphs">08-22</text>
<text x="1091.2" y="106" font-size="9.8" fill="#a6a6a6" font-family='"Liberation Sans", sans-serif' textLength="19" lengthAdjust="spacingAndGlyphs">09-12</text>
<text x="1157.9" y="106" font-size="9.8" fill="#a6a6a6" font-family='"Liberation Sans", sans-serif' textLength="19" lengthAdjust="spacingAndGlyphs">10-14</text>
<text x="1224.7" y="106" font-size="9.8" fill="#a6a6a6" font-family='"Liberation Sans", sans-serif' textLength="19" lengthAdjust="spacingAndGlyphs">11-04</text>
<text x="1291.4" y="106" font-size="9.8" fill="#a6a6a6" font-family='"Liberation Sans", sans-serif' textLength="19" lengthAdjust="spacingAndGlyphs">11-25</text>
<text x="35" y="121.5" font-size="12.5" fill="#000" font-family='"Liberation Sans", "Noto Sans CJK SC", sans-serif' textLength="51" lengthAdjust="spacingAndGlyphs">极反通道</text>
<text x="105.5" y="121" font-size="11" fill="#ff0000" font-family='"Liberation Sans", sans-serif' textLength="58" lengthAdjust="spacingAndGlyphs">Tp=12.0920</text>
<text x="184.4" y="121" font-size="11" fill="#0000ff" font-family='"Liberation Sans", sans-serif' textLength="59" lengthAdjust="spacingAndGlyphs">Up=10.7873</text>
<text x="263.3" y="121" font-size="11" fill="#000" font-family='"Liberation Sans", sans-serif' textLength="54.3" lengthAdjust="spacingAndGlyphs">Md=9.3016</text>
<text x="342.2" y="121" font-size="11" fill="#0000ff" font-family='"Liberation Sans", sans-serif' textLength="54" lengthAdjust="spacingAndGlyphs">Dn=7.3190</text>
<text x="421" y="121" font-size="11" fill="#ff0000" font-family='"Liberation Sans", sans-serif' textLength="50" lengthAdjust="spacingAndGlyphs">Bt=5.5159</text>
<text x="1304.8" y="120.6" font-size="11" fill="#0000ff" font-family='"Liberation Sans", sans-serif' textLength="13" lengthAdjust="spacingAndGlyphs">00</text>
<text x="-9.0 -3.8 3.6 8.2 14.2 20.2 26.2" y="602.17" transform="scale(1,1.15)" font-size="10" fill="#000" font-family='"Liberation Sans", sans-serif'>15.0464</text>
<text x="-3.8 2.2 8.2 14.2 20.2 26.2" y="628.70" transform="scale(1,1.15)" font-size="10" fill="#000" font-family='"Liberation Sans", sans-serif'>293633</text>
<text x="-3.0 2.2 8.2 14.2 20.2 26.2" y="650.43" transform="scale(1,1.15)" font-size="10" fill="#000" font-family='"Liberation Sans", sans-serif'>195756</text>
<text x="2.2 8.2 14.2 20.2 26.2" y="672.17" transform="scale(1,1.15)" font-size="10" fill="#000" font-family='"Liberation Sans", sans-serif'>97878</text>
<rect x="0" y="0" width="1314" height="96" fill="#ece9d8"/>
<rect x="0" y="17" width="1314" height="1" fill="#aca899"/><rect x="0" y="18" width="1314" height="1" fill="#fff"/>
<rect x="0" y="43" width="1314" height="1" fill="#aca899"/><rect x="0" y="44" width="1314" height="1" fill="#fff"/>
<rect x="0" y="69" width="1314" height="1" fill="#aca899"/><rect x="0" y="70" width="1314" height="1" fill="#fff"/>
<rect x="0" y="95" width="1314" height="1" fill="#aca899"/>
<text x="-8.4" y="11.5" font-size="12" fill="#000" font-family='"Liberation Sans", "Noto Sans CJK SC", sans-serif' textLength="24.6" lengthAdjust="spacingAndGlyphs">文件</text>
<text x="26.1" y="11.5" font-size="12" fill="#000" font-family='"Liberation Sans", "Noto Sans CJK SC", sans-serif' textLength="24.6" lengthAdjust="spacingAndGlyphs">浏览</text>
<text x="62.1" y="11.5" font-size="12" fill="#000" font-family='"Liberation Sans", "Noto Sans CJK SC", sans-serif' textLength="24.6" lengthAdjust="spacingAndGlyphs">资讯</text>
<text x="98.1" y="11.5" font-size="12" fill="#000" font-family='"Liberation Sans", "Noto Sans CJK SC", sans-serif' textLength="24.6" lengthAdjust="spacingAndGlyphs">江恩</text>
<text x="134.1" y="11.5" font-size="12" fill="#000" font-family='"Liberation Sans", "Noto Sans CJK SC", sans-serif' textLength="48.6" lengthAdjust="spacingAndGlyphs">公式选股</text>
<text x="194.1" y="11.5" font-size="12" fill="#000" font-family='"Liberation Sans", "Noto Sans CJK SC", sans-serif' textLength="24.6" lengthAdjust="spacingAndGlyphs">设置</text>
<text x="230.1" y="11.5" font-size="12" fill="#000" font-family='"Liberation Sans", "Noto Sans CJK SC", sans-serif' textLength="24.6" lengthAdjust="spacingAndGlyphs">工具</text>
<text x="266.1" y="11.5" font-size="12" fill="#000" font-family='"Liberation Sans", "Noto Sans CJK SC", sans-serif' textLength="24.6" lengthAdjust="spacingAndGlyphs">窗口</text>
<text x="302.1" y="11.5" font-size="12" fill="#000" font-family='"Liberation Sans", "Noto Sans CJK SC", sans-serif' textLength="48.6" lengthAdjust="spacingAndGlyphs">交易委托</text>
<text x="362.1" y="11.5" font-size="12" fill="#000" font-family='"Liberation Sans", "Noto Sans CJK SC", sans-serif' textLength="24.6" lengthAdjust="spacingAndGlyphs">帮助</text>
<text x="-3.6999999999999997" y="35.5" font-size="12" fill="#000" font-family='"Liberation Sans", "Noto Sans CJK SC", sans-serif' textLength="24.6" lengthAdjust="spacingAndGlyphs">行情</text>
<g transform="translate(28.5,23)" shape-rendering="crispEdges"><rect x="0" y="0" width="16" height="16" fill="#000"/><rect x="7.5" y="0" width="1" height="16" fill="#ece9d8"/><rect x="0" y="7.5" width="16" height="1" fill="#ece9d8"/><rect x="1" y="1" width="6" height="6" fill="#00e8e8"/><rect x="2.5" y="2.5" width="3.5" height="3.5" fill="#008080" stroke="#004040" stroke-width="1"/><rect x="9.5" y="1.5" width="5" height="5" fill="#00ffff"/><rect x="1.5" y="9.5" width="5" height="5" fill="#00ffff"/><rect x="9" y="9" width="6" height="6" fill="#00e8e8"/><rect x="10" y="10" width="3.5" height="3.5" fill="#008080" stroke="#004040" stroke-width="1"/></g>
<text x="48.4" y="35.5" font-size="12" fill="#000" font-family='"Liberation Sans", "Noto Sans CJK SC", sans-serif' textLength="24.6" lengthAdjust="spacingAndGlyphs">板块</text>
<g shape-rendering="crispEdges"><rect x="83" y="31" width="1" height="8" fill="#f00"/><rect x="82.5" y="33.5" width="2" height="3" fill="#ece9d8" stroke="#f00" stroke-width="1"/><rect x="87" y="27" width="1" height="9" fill="#f00"/><rect x="86.5" y="29.5" width="2" height="4" fill="#ece9d8" stroke="#f00" stroke-width="1"/><rect x="91" y="27" width="1" height="7" fill="#008000"/><rect x="90.5" y="29.5" width="2" height="2" fill="#ece9d8" stroke="#008000" stroke-width="1"/><rect x="95" y="23" width="1" height="9" fill="#f00"/><rect x="94.5" y="25.5" width="2" height="4" fill="#ece9d8" stroke="#f00" stroke-width="1"/></g>
<text x="101.7" y="30.87" transform="scale(1,1.15)" font-size="9.5" fill="#000" font-weight="bold" font-family='"Liberation Serif", serif'>K</text><text x="107.6" y="35.5" font-size="12" fill="#000" font-family='"Liberation Sans", "Noto Sans CJK SC", sans-serif' textLength="12.6" lengthAdjust="spacingAndGlyphs">线</text>
<rect x="130.5" y="24.5" width="12" height="12" fill="#ece9d8" stroke="#f00" stroke-width="1" shape-rendering="crispEdges"/><rect x="130.5" y="24.5" width="12" height="12" fill="none" stroke="#403030" stroke-opacity="0.55" stroke-width="1" stroke-dasharray="1 1" shape-rendering="crispEdges"/><text x="131.8" y="34" font-size="8" fill="#000" font-weight="bold" font-family='"Liberation Sans", sans-serif' textLength="9.8" lengthAdjust="spacingAndGlyphs">PS</text>
<text x="148.5" y="30.87" transform="scale(1,1.15)" font-size="9.5" fill="#000" font-weight="bold" font-family='"Liberation Serif", serif'>P</text><text x="154.4" y="35.5" font-size="12" fill="#000" font-family='"Liberation Sans", "Noto Sans CJK SC", sans-serif' textLength="36.6" lengthAdjust="spacingAndGlyphs">四方形</text>
<rect x="201.5" y="24.5" width="12" height="12" fill="#ece9d8" stroke="#f0f" stroke-width="1" shape-rendering="crispEdges"/><rect x="201.5" y="24.5" width="12" height="12" fill="none" stroke="#403030" stroke-opacity="0.55" stroke-width="1" stroke-dasharray="1 1" shape-rendering="crispEdges"/><text x="202.8" y="34" font-size="8" fill="#800000" font-weight="bold" font-family='"Liberation Sans", sans-serif' textLength="9.8" lengthAdjust="spacingAndGlyphs">P9</text>
<text x="219.7 225.7" y="30.87" transform="scale(1,1.15)" font-size="9.5" fill="#000" font-weight="bold" font-family='"Liberation Serif", serif'>9P</text><text x="231.6" y="35.5" font-size="12" fill="#000" font-family='"Liberation Sans", "Noto Sans CJK SC", sans-serif' textLength="36.6" lengthAdjust="spacingAndGlyphs">四方形</text>
<rect x="278.5" y="24.5" width="12" height="12" fill="#ece9d8" stroke="#f00" stroke-width="1" shape-rendering="crispEdges"/><rect x="278.5" y="24.5" width="12" height="12" fill="none" stroke="#403030" stroke-opacity="0.55" stroke-width="1" stroke-dasharray="1 1" shape-rendering="crispEdges"/><text x="279.8" y="34" font-size="8" fill="#000" font-weight="bold" font-family='"Liberation Sans", sans-serif' textLength="9.8" lengthAdjust="spacingAndGlyphs">PN</text>
<text x="296.9" y="30.87" transform="scale(1,1.15)" font-size="9.5" fill="#000" font-weight="bold" font-family='"Liberation Serif", serif'>P</text><text x="302.8" y="35.5" font-size="12" fill="#000" font-family='"Liberation Sans", "Noto Sans CJK SC", sans-serif' textLength="36.6" lengthAdjust="spacingAndGlyphs">数字表</text>
<rect x="349.5" y="24.5" width="12" height="12" fill="#ece9d8" stroke="#00c000" stroke-width="1" shape-rendering="crispEdges"/><rect x="349.5" y="24.5" width="12" height="12" fill="none" stroke="#403030" stroke-opacity="0.55" stroke-width="1" stroke-dasharray="1 1" shape-rendering="crispEdges"/><text x="350.8" y="34" font-size="8" fill="#800000" font-weight="bold" font-family='"Liberation Sans", sans-serif' textLength="9.8" lengthAdjust="spacingAndGlyphs">TS</text>
<text x="367.7" y="30.87" transform="scale(1,1.15)" font-size="9.5" fill="#000" font-weight="bold" font-family='"Liberation Serif", serif'>T</text><text x="373.6" y="35.5" font-size="12" fill="#000" font-family='"Liberation Sans", "Noto Sans CJK SC", sans-serif' textLength="36.6" lengthAdjust="spacingAndGlyphs">四方形</text>
<rect x="420.5" y="24.5" width="12" height="12" fill="#ece9d8" stroke="#00c8e8" stroke-width="1" shape-rendering="crispEdges"/><rect x="420.5" y="24.5" width="12" height="12" fill="none" stroke="#403030" stroke-opacity="0.55" stroke-width="1" stroke-dasharray="1 1" shape-rendering="crispEdges"/><text x="421.8" y="34" font-size="8" fill="#800000" font-weight="bold" font-family='"Liberation Sans", sans-serif' textLength="9.8" lengthAdjust="spacingAndGlyphs">T9</text>
<text x="438.5 444.5" y="30.87" transform="scale(1,1.15)" font-size="9.5" fill="#000" font-weight="bold" font-family='"Liberation Serif", serif'>9T</text><text x="450.40000000000003" y="35.5" font-size="12" fill="#000" font-family='"Liberation Sans", "Noto Sans CJK SC", sans-serif' textLength="36.6" lengthAdjust="spacingAndGlyphs">四方形</text>
<rect x="497.5" y="24.5" width="12" height="12" fill="#ece9d8" stroke="#00c000" stroke-width="1" shape-rendering="crispEdges"/><rect x="497.5" y="24.5" width="12" height="12" fill="none" stroke="#403030" stroke-opacity="0.55" stroke-width="1" stroke-dasharray="1 1" shape-rendering="crispEdges"/><text x="498.8" y="34" font-size="8" fill="#800000" font-weight="bold" font-family='"Liberation Sans", sans-serif' textLength="9.8" lengthAdjust="spacingAndGlyphs">TN</text>
<text x="515.5" y="30.87" transform="scale(1,1.15)" font-size="9.5" fill="#000" font-weight="bold" font-family='"Liberation Serif", serif'>T</text><text x="521.4" y="35.5" font-size="12" fill="#000" font-family='"Liberation Sans", "Noto Sans CJK SC", sans-serif' textLength="36.6" lengthAdjust="spacingAndGlyphs">数字表</text>
<circle cx="574.4" cy="30.7" r="6.6" fill="#ece9d8" stroke="#800020" stroke-width="1.8"/><circle cx="574.4" cy="30.7" r="3.6" fill="none" stroke="#008040" stroke-width="1.6"/><circle cx="574.4" cy="30.7" r="1.5" fill="#f08070" stroke="none" stroke-width="0"/><line x1="567" y1="30.7" x2="582" y2="30.7" stroke="#808080" stroke-width="0.8"/><line x1="574.4" y1="23.5" x2="574.4" y2="38" stroke="#808080" stroke-width="0.8"/>
<text x="586.1" y="35.5" font-size="12" fill="#000" font-family='"Liberation Sans", "Noto Sans CJK SC", sans-serif' textLength="36.6" lengthAdjust="spacingAndGlyphs">江恩轮</text>
<circle cx="639.6" cy="31" r="7" fill="#e8f0f0" stroke="#2f70a8" stroke-width="1.3"/> <text x="633.8" y="34.8" font-size="10" fill="#008000" font-family='"Liberation Sans", sans-serif' textLength="11.5" lengthAdjust="spacingAndGlyphs">Big</text>
<text x="651.6" y="35.5" font-size="12" fill="#000" font-family='"Liberation Sans", "Noto Sans CJK SC", sans-serif' textLength="36.6" lengthAdjust="spacingAndGlyphs">赢家轮</text>
<path d="M697.5 31 L701.3 24.5 H709.2 L713 31 L709.2 37.5 H701.3 Z" fill="#ece9d8" stroke="#e00000" stroke-width="1.3"/><circle cx="705.2" cy="31" r="3.6" fill="none" stroke="#0000d0" stroke-width="1.6"/><circle cx="705.2" cy="31" r="1.3" fill="#00a000" stroke="none" stroke-width="0"/>
<text x="716.6" y="35.5" font-size="12" fill="#000" font-family='"Liberation Sans", "Noto Sans CJK SC", sans-serif' textLength="36.6" lengthAdjust="spacingAndGlyphs">六角形</text>
 <text x="764.5" y="39.2" font-size="19" fill="#78c878" font-weight="bold" font-family='"Liberation Sans", sans-serif' textLength="10.5" lengthAdjust="spacingAndGlyphs">$</text>
<text x="781.6" y="35.5" font-size="12" fill="#000" font-family='"Liberation Sans", "Noto Sans CJK SC", sans-serif' textLength="48.6" lengthAdjust="spacingAndGlyphs">赢家服务</text>
<rect x="4.5" y="46.5" width="22" height="21" fill="#f6f4ec" stroke="none"/><rect x="4" y="46" width="23" height="1" fill="#aca899"/><rect x="4" y="46" width="1" height="22" fill="#aca899"/><rect x="4" y="67" width="23" height="1" fill="#fff"/><rect x="26" y="46" width="1" height="22" fill="#fff"/>
<g transform="translate(8,49)" shape-rendering="crispEdges"><path d="M2 3.5 H6 L7 2.5 H11 L12 3.5 H15 V6 L14 7 L15 8 V10.5 M15 12 V14 H12 L11 13 H6.5 L5.5 14.5 H3 L2 13.5 V11.5 L3 10.5 L2 9.5 L1 8 L2 6.5 V3.5 M3 8.5 L4 6.5 L6 5.5 H10 L12 6.5 L14 8.5 M4.5 11 L5 9 L7 7.5 H9 L11 8.5 L13 10.5 L14.5 11" fill="none" stroke="#0000ff" stroke-width="1.1"/></g>
<g transform="translate(30,49)" shape-rendering="crispEdges"><path d="M4 1.5 H6.5 V0.5 H9.5 V1.5 H11 C12.5 1.5 13 2 13 3.5 V12 C13 13.5 12.5 14 11 14 H4 C2.5 14 2 13.5 2 12 V3.5 C2 2 2.5 1.5 4 1.5 Z" fill="none" stroke="#0000ff" stroke-width="1.2"/><line x1="5" y1="5.5" x2="9.5" y2="5.5" stroke="#00f" stroke-width="1"/><line x1="5" y1="7.5" x2="9.5" y2="7.5" stroke="#00f" stroke-width="1"/><line x1="5" y1="10.5" x2="9.5" y2="10.5" stroke="#00f" stroke-width="1"/></g>
<g transform="translate(53,49)" shape-rendering="crispEdges"><path d="M1.5 15 V10.5 H3.5 V12.5 H5.5 V7.5 H7.5 V9.5 H9.5 V1.5 H11.5 V7.5 H13.5 V3" fill="none" stroke="#800080" stroke-width="1"/><text x="10.5" y="16" font-size="7" fill="#000" font-family='"Liberation Sans", sans-serif' font-weight="bold">3</text></g>
<g transform="translate(75.5,49)" shape-rendering="crispEdges"><path d="M1.5 15 V10.5 H3.5 V12.5 H5.5 V7.5 H7.5 V9.5 H9.5 V1.5 H11.5 V7.5 H13.5 V3" fill="none" stroke="#800000" stroke-width="1"/><text x="10.5" y="16" font-size="7" fill="#000" font-family='"Liberation Sans", sans-serif' font-weight="bold">9</text></g>
<g transform="translate(98.5,49)" shape-rendering="crispEdges"><line x1="8" y1="1" x2="8" y2="15" stroke="#000" stroke-width="1"/><rect x="6" y="3.5" width="4" height="9" fill="#ece9d8" stroke="#000" stroke-width="1"/></g>
<g transform="translate(112.5,49)" shape-rendering="crispEdges"><path d="M5.5 7 H10.5 L8 10 Z" fill="#000" stroke="none" stroke-width="1"/></g>
<g transform="translate(129,49)" shape-rendering="crispEdges"><path d="M3 0.5 H5.5 M3 0.5 V2 L1 4 V6 L2 7 L1 8 V10 L3 12 V14.5 H7 L8 13.5 L9 14.5 L10 11 L11 12 L12 14.5 H14 L15 13 V11 L13 8 L14 6 L15 5 V1.5 H6 L5 5 L6 7 L5 9 L6 11 L5 13" fill="none" stroke="#800000" stroke-width="1.1"/><rect x="10.5" y="4" width="1.6" height="1.6" fill="#800000"/><path d="M7 6 L8 7 L7 8.5" fill="none" stroke="#800000" stroke-width="1"/></g>
<g transform="translate(153.5,49)" shape-rendering="crispEdges"><path d="M0.5 0 L7.5 3 L5.5 4.5 L14.5 6.5 L0.5 7 Z" fill="#ff00ff" stroke="none" stroke-width="1"/><path d="M0.5 7 H12.5 L5.5 10 L6.5 11 L0.5 13 Z" fill="#008b8b" stroke="none" stroke-width="1"/><line x1="0" y1="0" x2="0" y2="16" stroke="#800000" stroke-width="1.6"/><line x1="-1.5" y1="14.5" x2="14.5" y2="14.5" stroke="#800000" stroke-width="1.2"/></g>
<g transform="translate(181.5,49)" shape-rendering="crispEdges"><rect x="0.5" y="0" width="3" height="15" fill="#000"/><rect x="1.5" y="0" width="1" height="15" fill="#808000"/><path d="M15 1 V14.5 L4.2 7.7 Z" fill="#808000" stroke="#000" stroke-width="1"/></g>
<g transform="translate(204.5,49)" shape-rendering="crispEdges"><rect x="12.5" y="0" width="3" height="15" fill="#000"/><rect x="13.5" y="0" width="1" height="15" fill="#808000"/><path d="M1 1 V14.5 L11.8 7.7 Z" fill="#808000" stroke="#000" stroke-width="1"/></g>
<g transform="translate(228,49)" shape-rendering="crispEdges"><path d="M15 1 L1 8 L15 8 Z" fill="#909090" stroke="none" stroke-width="1"/><path d="M1 8 L15 15 V8 Z" fill="#000" stroke="none" stroke-width="1"/><path d="M15 1 V15 L11 8 Z" fill="#c0c0c0" stroke="none" stroke-width="1"/></g>
<g transform="translate(251,49)" shape-rendering="crispEdges"><path d="M1 1 L15 8 L1 8 Z" fill="#909090" stroke="none" stroke-width="1"/><path d="M15 8 L1 15 V8 Z" fill="#000" stroke="none" stroke-width="1"/><path d="M1 1 V15 L5 8 Z" fill="#606060" stroke="none" stroke-width="1"/></g>
<g transform="translate(274,49)" shape-rendering="crispEdges"><path d="M8 0.5 L15.5 8 L8 15.5 L0.5 8 Z" fill="#ffff00" stroke="#000" stroke-width="1"/><line x1="4" y1="8" x2="12" y2="8" stroke="#000" stroke-width="1"/><path d="M3.5 8 L7 5 V11 Z" fill="#000" stroke="none" stroke-width="1"/></g>
<g transform="translate(297,49)" shape-rendering="crispEdges"><path d="M8 0.5 L15.5 8 L8 15.5 L0.5 8 Z" fill="#ffff00" stroke="#000" stroke-width="1"/><line x1="4" y1="8" x2="12" y2="8" stroke="#000" stroke-width="1"/><path d="M12.5 8 L9 5 V11 Z" fill="#000" stroke="none" stroke-width="1"/></g>
<g transform="translate(320,49)" shape-rendering="crispEdges"><path d="M8 0.5 L15.5 8 L8 15.5 L0.5 8 Z" fill="#ffff00" stroke="#000" stroke-width="1"/><line x1="3" y1="8" x2="13" y2="8" stroke="#000" stroke-width="1"/><path d="M2.5 8 L5.5 5.5 V10.5 Z" fill="#000" stroke="none" stroke-width="1"/><path d="M13.5 8 L10.5 5.5 V10.5 Z" fill="#000" stroke="none" stroke-width="1"/><line x1="8" y1="3" x2="8" y2="13" stroke="#808000" stroke-width="1"/></g>
<g transform="translate(343,49)" shape-rendering="crispEdges"><path d="M8 0.5 L15.5 8 L8 15.5 L0.5 8 Z" fill="#ffff00" stroke="#000" stroke-width="1"/><line x1="3" y1="8" x2="13" y2="8" stroke="#000" stroke-width="1"/><path d="M7.5 8 L4.5 5.5 V10.5 Z" fill="#000" stroke="none" stroke-width="1"/><path d="M8.5 8 L11.5 5.5 V10.5 Z" fill="#000" stroke="none" stroke-width="1"/><line x1="8" y1="3" x2="8" y2="13" stroke="#808000" stroke-width="1"/></g>
<g transform="translate(366,49)" shape-rendering="crispEdges"><path d="M8 0.5 L15.5 8 L8 15.5 L0.5 8 Z" fill="#ffff00" stroke="#000" stroke-width="1"/><line x1="3" y1="8" x2="13" y2="8" stroke="#000" stroke-width="1"/><line x1="8" y1="3" x2="8" y2="13" stroke="#000" stroke-width="1"/><line x1="4.5" y1="4.5" x2="11.5" y2="11.5" stroke="#000" stroke-width="1"/><line x1="11.5" y1="4.5" x2="4.5" y2="11.5" stroke="#000" stroke-width="1"/></g>
<g transform="translate(389,49)" shape-rendering="crispEdges"><path d="M8 0.5 L15.5 8 L8 15.5 L0.5 8 Z" fill="#ffff00" stroke="#000" stroke-width="1"/><line x1="3" y1="8" x2="13" y2="8" stroke="#000" stroke-width="1"/><line x1="8" y1="2.5" x2="8" y2="13.5" stroke="#000" stroke-width="1"/><path d="M2.5 8 L5 6 V10 Z" fill="#000" stroke="none" stroke-width="1"/><path d="M13.5 8 L11 6 V10 Z" fill="#000" stroke="none" stroke-width="1"/><path d="M8 2 L6 4.5 H10 Z" fill="#000" stroke="none" stroke-width="1"/><path d="M8 14 L6 11.5 H10 Z" fill="#000" stroke="none" stroke-width="1"/></g>
<g transform="translate(417.6,49)" shape-rendering="crispEdges"><path d="M4.5 9.5 L2 7 C1 6 2.5 4.5 3.5 5.5 L5.5 8 V2 C5.5 0.5 7.5 0.5 7.5 2 V7 V3 C7.5 1.5 9.5 1.5 9.5 3 V7 V4 C9.5 2.5 11.5 2.5 11.5 4 V8 V5.5 C11.5 4.5 13.5 4.5 13.5 6 V10 C13.5 13 12 15 10 15.5 H7 C5.5 14 5 12 4.5 9.5 Z" fill="none" stroke="#000" stroke-width="1.1"/></g>
<g transform="translate(440.6,49)" shape-rendering="crispEdges"><line x1="8" y1="1" x2="8" y2="15" stroke="#000" stroke-width="1.3"/><line x1="1" y1="8" x2="15" y2="8" stroke="#000" stroke-width="1.3"/></g>
<g transform="translate(463.6,49)" shape-rendering="crispEdges"><path d="M0.6 4.2 L4.8 12.3 L10.8 3.6 L16 10.9" fill="none" stroke="#000" stroke-width="1.2"/><circle cx="4.8" cy="12.5" r="2.2" fill="#ece9d8" stroke="#f00" stroke-width="1.3"/><circle cx="10.9" cy="3.9" r="2.2" fill="#ece9d8" stroke="#f00" stroke-width="1.3"/></g>
<g transform="translate(486.6,49)" shape-rendering="crispEdges"><path d="M0.5 3 H4 V1.5 H7 V3 H9.5 V1.5 H12.5 V3 H15.5 V6 H14 V13.5 H8 V15.5 H4.5 V10 H1.5 V6 H0.5 Z M3 8 H12.5 M9 10 H12 V12 H8" fill="none" stroke="#800080" stroke-width="1.1"/></g>
<g transform="translate(509.6,49)" shape-rendering="crispEdges"><path d="M2 15 V11 L1 9 L2 6 L4 3 L6 1.5 H8 L9 3 L10 1.5 H12 L14 4 L15 7 L14 9 L15.5 11 L15 14 L13 15.5 H9 L8 15 H2 M2 11.5 H8 M8 3 L9 6 L8 9 L10 12 L9 15 M10 6 H13 M11 9 H14" fill="none" stroke="#008080" stroke-width="1.1"/></g>
<g transform="translate(539.4,49)" shape-rendering="crispEdges"><rect x="1.5" y="3.5" width="13" height="12" fill="#fff" stroke="#000" stroke-width="1.2"/><rect x="2" y="3" width="12" height="3" fill="#00c8c8"/><line x1="4.5" y1="0" x2="4.5" y2="4" stroke="#000" stroke-width="1.2"/><line x1="11.5" y1="0" x2="11.5" y2="4" stroke="#000" stroke-width="1.2"/><text x="2.5" y="14.5" font-size="10" fill="#f00" font-family='"Liberation Sans", sans-serif' font-weight="normal">21</text><line x1="2" y1="15.7" x2="15" y2="15.7" stroke="#404040" stroke-width="1"/></g>
<g transform="translate(562.4,49)" shape-rendering="crispEdges"><rect x="1" y="1" width="14" height="14" fill="#008080" stroke="#000" stroke-width="1.4"/><rect x="3" y="3" width="10" height="3.5" fill="#00e0e0"/><rect x="3" y="8" width="2" height="2" fill="#000"/><rect x="3" y="11" width="2" height="2" fill="#000"/><rect x="7" y="8" width="2" height="2" fill="#000"/><rect x="7" y="11" width="2" height="2" fill="#000"/><rect x="11" y="8" width="2" height="2" fill="#000"/><rect x="11" y="11" width="2" height="2" fill="#000"/><line x1="15.6" y1="2" x2="15.6" y2="16" stroke="#0000a0" stroke-width="1"/><line x1="2" y1="15.6" x2="16" y2="15.6" stroke="#0000a0" stroke-width="1"/></g>
<g transform="translate(585,49)" shape-rendering="crispEdges"><rect x="1" y="1" width="14" height="14" fill="#fff" stroke="#000" stroke-width="1.6"/><line x1="1.5" y1="3" x2="3.5" y2="3" stroke="#000" stroke-width="1"/><line x1="1.5" y1="5" x2="3.5" y2="5" stroke="#000" stroke-width="1"/><line x1="1.5" y1="7" x2="3.5" y2="7" stroke="#000" stroke-width="1"/><line x1="1.5" y1="9" x2="3.5" y2="9" stroke="#000" stroke-width="1"/><line x1="1.5" y1="11" x2="3.5" y2="11" stroke="#000" stroke-width="1"/><line x1="1.5" y1="13" x2="3.5" y2="13" stroke="#000" stroke-width="1"/><line x1="5" y1="3.5" x2="13" y2="3.5" stroke="#00f" stroke-width="1.2"/><line x1="6" y1="6" x2="13" y2="6" stroke="#00f" stroke-width="1.2"/><line x1="7" y1="8.5" x2="13" y2="8.5" stroke="#00f" stroke-width="1.2"/><line x1="7" y1="11" x2="12" y2="11" stroke="#00f" stroke-width="1.2"/><path d="M10 15 L15 10 V15 Z" fill="#909090" stroke="#000" stroke-width="0.8"/></g>
<g transform="translate(608,49)" shape-rendering="crispEdges"><rect x="0.5" y="1" width="15" height="14" fill="#000"/><rect x="0.5" y="1" width="4" height="14" fill="#f00"/><rect x="4.5" y="1.5" width="10.5" height="8" fill="#00e0e0"/><path d="M4.5 9.5 L10 4 L15 9.5 Z" fill="#00a000" stroke="none" stroke-width="1"/><rect x="5.5" y="11" width="7" height="4" fill="#fff"/><rect x="9.5" y="11.5" width="2" height="3" fill="#000"/></g>
<g transform="translate(631,49)" shape-rendering="crispEdges"><rect x="4" y="1" width="9" height="7" fill="#fff" stroke="#000080" stroke-width="1.6"/><rect x="0.5" y="5" width="7" height="6" fill="#fff" stroke="#000080" stroke-width="1.6"/><rect x="2" y="7" width="1.6" height="1.6" fill="#000080"/><rect x="5" y="7" width="1.6" height="1.6" fill="#000080"/><circle cx="10.5" cy="11" r="4.5" fill="#008080" stroke="#000" stroke-width="1"/><path d="M8 9 L11 8 L12 11 L9.5 13 Z" fill="#c0c000" stroke="none" stroke-width="1"/><path d="M11 12 L14 11 L13 14 Z" fill="#c0c000" stroke="none" stroke-width="1"/></g>
<g transform="translate(654.4,49)" shape-rendering="crispEdges"><rect x="6" y="0.5" width="9" height="8" fill="#808080" stroke="#404040" stroke-width="1"/><rect x="7.5" y="2" width="6" height="5" fill="#0000ff"/><rect x="8" y="9" width="8" height="4.5" fill="#808080" stroke="#000" stroke-width="0.8"/><rect x="6" y="13" width="9" height="2.5" fill="#000"/><rect x="1" y="6" width="5" height="9" fill="#fff" stroke="#606060" stroke-width="1"/><rect x="1" y="8" width="5" height="3.5" fill="#0000c0"/><line x1="3" y1="2" x2="4" y2="6" stroke="#606060" stroke-width="1"/><rect x="2" y="4.5" width="3" height="1.5" fill="#909090"/></g>
<rect x="175.0" y="46" width="1" height="22" fill="#aca899"/><rect x="176.0" y="46" width="1" height="22" fill="#fff"/>
<rect x="411.0" y="46" width="1" height="22" fill="#aca899"/><rect x="412.0" y="46" width="1" height="22" fill="#fff"/>
<rect x="532.0" y="46" width="1" height="22" fill="#aca899"/><rect x="533.0" y="46" width="1" height="22" fill="#fff"/>
<g transform="translate(-0.5,75)" shape-rendering="crispEdges"><line x1="0" y1="7.5" x2="16" y2="7.5" stroke="#000" stroke-width="1"/><line x1="3.5" y1="1" x2="3.5" y2="14" stroke="#000" stroke-width="1"/><line x1="8.5" y1="1" x2="8.5" y2="14" stroke="#000" stroke-width="1"/><line x1="13.5" y1="1" x2="13.5" y2="14" stroke="#000" stroke-width="1"/></g>
<g transform="translate(22.5,75)" shape-rendering="crispEdges"><line x1="0" y1="2.5" x2="16" y2="2.5" stroke="#000" stroke-width="1"/><line x1="2.5" y1="0" x2="2.5" y2="5" stroke="#000" stroke-width="1"/><line x1="6.5" y1="0" x2="6.5" y2="5" stroke="#000" stroke-width="1"/><line x1="10.5" y1="0" x2="10.5" y2="5" stroke="#000" stroke-width="1"/><line x1="14.5" y1="0" x2="14.5" y2="5" stroke="#000" stroke-width="1"/><text x="2.5" y="14.5" font-size="10" fill="#808000" font-family='"Liberation Sans", "Noto Sans CJK SC", sans-serif' font-weight="bold">金</text></g>
<g transform="translate(45.5,75)" shape-rendering="crispEdges"><line x1="0" y1="2.5" x2="16" y2="2.5" stroke="#000" stroke-width="1"/><line x1="2.5" y1="0" x2="2.5" y2="5" stroke="#000" stroke-width="1"/><line x1="6.5" y1="0" x2="6.5" y2="5" stroke="#000" stroke-width="1"/><line x1="10.5" y1="0" x2="10.5" y2="5" stroke="#000" stroke-width="1"/><line x1="14.5" y1="0" x2="14.5" y2="5" stroke="#000" stroke-width="1"/><text x="2.5" y="14.5" font-size="10" fill="#808000" font-family='"Liberation Sans", "Noto Sans CJK SC", sans-serif' font-weight="bold">金</text></g>
<g transform="translate(68.5,75)" shape-rendering="crispEdges"><line x1="0" y1="2.5" x2="16" y2="2.5" stroke="#000" stroke-width="1"/><line x1="2.5" y1="0" x2="2.5" y2="5" stroke="#000" stroke-width="1"/><line x1="6.5" y1="0" x2="6.5" y2="5" stroke="#000" stroke-width="1"/><line x1="10.5" y1="0" x2="10.5" y2="5" stroke="#000" stroke-width="1"/><line x1="14.5" y1="0" x2="14.5" y2="5" stroke="#000" stroke-width="1"/><text x="4.5" y="15" font-size="11" fill="#000" font-family='"Liberation Sans", sans-serif' font-weight="normal">F</text></g>
<g transform="translate(91.5,75)" shape-rendering="crispEdges"><line x1="0" y1="2.5" x2="16" y2="2.5" stroke="#000" stroke-width="1"/><line x1="2.5" y1="0" x2="2.5" y2="5" stroke="#000" stroke-width="1"/><line x1="6.5" y1="0" x2="6.5" y2="5" stroke="#000" stroke-width="1"/><line x1="10.5" y1="0" x2="10.5" y2="5" stroke="#000" stroke-width="1"/><line x1="14.5" y1="0" x2="14.5" y2="5" stroke="#000" stroke-width="1"/><path d="M3 6.5 H13 M13 6.5 C14 10 12 14.5 8 14.5 C4.5 14.5 4.5 10.5 8 10.5 C10 10.5 10 12.5 8.5 12.5" fill="none" stroke="#000" stroke-width="1"/></g>
<g transform="translate(114.5,75)" shape-rendering="crispEdges"><line x1="0" y1="13.5" x2="16" y2="13.5" stroke="#000" stroke-width="1"/><line x1="0.5" y1="11" x2="0.5" y2="16" stroke="#000" stroke-width="1"/><line x1="6.5" y1="12" x2="6.5" y2="15" stroke="#000" stroke-width="1"/><line x1="9.5" y1="12" x2="9.5" y2="15" stroke="#000" stroke-width="1"/><line x1="11.5" y1="12" x2="11.5" y2="15" stroke="#000" stroke-width="1"/><line x1="13.5" y1="12" x2="13.5" y2="15" stroke="#000" stroke-width="1"/><path d="M4.5 9 L7 3 L11 1.5 L14 4.5 L8 10.5 Z" fill="#a8a8a8" stroke="#000" stroke-width="1"/><path d="M9 1.5 L12 0 L15.5 1.5 L15 5 L13 4 Z" fill="#f00" stroke="none" stroke-width="1"/><path d="M3 11.5 L4 8.5 L6.5 10.5 Z" fill="#f00" stroke="none" stroke-width="1"/><line x1="8" y1="3" x2="11" y2="6" stroke="#606060" stroke-width="1"/></g>
<g transform="translate(137.5,75)" shape-rendering="crispEdges"><circle cx="8.3" cy="8" r="7.6" fill="none" stroke="#000" stroke-width="1"/><line x1="1.5" y1="7.5" x2="15" y2="7.5" stroke="#000" stroke-width="1"/><line x1="3.5" y1="6" x2="3.5" y2="10" stroke="#000" stroke-width="1"/><line x1="5.5" y1="6" x2="5.5" y2="10" stroke="#000" stroke-width="1"/><line x1="7.5" y1="6" x2="7.5" y2="10" stroke="#000" stroke-width="1"/><line x1="9.5" y1="6" x2="9.5" y2="10" stroke="#000" stroke-width="1"/><line x1="11.5" y1="6" x2="11.5" y2="10" stroke="#000" stroke-width="1"/><line x1="13.5" y1="6" x2="13.5" y2="10" stroke="#000" stroke-width="1"/><line x1="11.5" y1="3.5" x2="15" y2="0.5" stroke="#000" stroke-width="1"/></g>
<g transform="translate(160.5,75)" shape-rendering="crispEdges"><line x1="0" y1="7.5" x2="16" y2="7.5" stroke="#000" stroke-width="1"/><line x1="1.5" y1="2" x2="1.5" y2="13" stroke="#000" stroke-width="1"/><line x1="5.5" y1="2" x2="5.5" y2="13" stroke="#000" stroke-width="1"/><line x1="8.5" y1="2" x2="8.5" y2="13" stroke="#000" stroke-width="1"/><line x1="13.5" y1="2" x2="13.5" y2="13" stroke="#000" stroke-width="1"/></g>
<g transform="translate(183.5,75)" shape-rendering="crispEdges"><line x1="0" y1="2.5" x2="16" y2="2.5" stroke="#000" stroke-width="1"/><line x1="2.5" y1="0" x2="2.5" y2="5" stroke="#000" stroke-width="1"/><line x1="6.5" y1="0" x2="6.5" y2="5" stroke="#000" stroke-width="1"/><line x1="10.5" y1="0" x2="10.5" y2="5" stroke="#000" stroke-width="1"/><line x1="14.5" y1="0" x2="14.5" y2="5" stroke="#000" stroke-width="1"/><text x="2" y="15" font-size="11" fill="#000" font-family='"Liberation Sans", sans-serif' font-weight="normal">n</text><text x="9" y="12" font-size="8" fill="#000" font-family='"Liberation Sans", sans-serif' font-weight="normal">2</text></g>
<g transform="translate(206.5,75)" shape-rendering="crispEdges"><path d="M0 14.5 L7.3 1.5 L13.5 7.5 Z" fill="none" stroke="#000" stroke-width="1" stroke-dasharray="2 1"/><line x1="7" y1="0" x2="7" y2="16" stroke="#808080" stroke-width="1"/><line x1="11" y1="0" x2="11" y2="16" stroke="#808080" stroke-width="1"/><line x1="15" y1="0" x2="15" y2="16" stroke="#808080" stroke-width="1"/></g>
<g transform="translate(229.5,75)" shape-rendering="crispEdges"><line x1="-0.5" y1="9.5" x2="15.5" y2="9.5" stroke="#f00" stroke-width="1"/><line x1="6.9" y1="0" x2="6.9" y2="16" stroke="#f00" stroke-width="1"/><path d="M15.3 5.4 C13 2 9 1 7 1.2 C3 2 1 5 1.3 8 C1.5 11 4 13.5 7 13.3 C9 13 10.5 11.5 10.3 10" fill="none" stroke="#000" stroke-width="1.1"/><circle cx="7" cy="8" r="2" fill="none" stroke="#000" stroke-width="1"/></g>
<g transform="translate(252.5,75)" shape-rendering="crispEdges"><circle cx="8" cy="8" r="6.9" fill="none" stroke="#808080" stroke-width="1"/><circle cx="8" cy="8" r="4.3" fill="none" stroke="#808080" stroke-width="1"/><line x1="0.5" y1="8" x2="15.5" y2="8" stroke="#f00" stroke-width="1"/><line x1="8" y1="0.5" x2="8" y2="15.5" stroke="#f00" stroke-width="1"/><line x1="5" y1="5" x2="11" y2="11" stroke="#008080" stroke-width="1.6"/><line x1="11" y1="5" x2="5" y2="11" stroke="#008080" stroke-width="1.6"/><rect x="7" y="7" width="2" height="2" fill="#f00"/><rect x="3" y="3" width="1" height="1" fill="#008080"/><rect x="12" y="3" width="1" height="1" fill="#008080"/><rect x="3" y="12" width="1" height="1" fill="#008080"/><rect x="12" y="12" width="1" height="1" fill="#008080"/></g>
<g transform="translate(275.5,75)" shape-rendering="crispEdges"><rect x="1.5" y="1.5" width="13" height="13" fill="none" stroke="#808080" stroke-width="1"/><rect x="3.5" y="3.5" width="9" height="9" fill="none" stroke="#808080" stroke-width="1"/><rect x="5.5" y="5.5" width="5" height="5" fill="none" stroke="#808080" stroke-width="1"/><line x1="1" y1="8" x2="15" y2="8" stroke="#008080" stroke-width="1"/><line x1="8" y1="1" x2="8" y2="15" stroke="#008080" stroke-width="1"/><rect x="7" y="7" width="2" height="2" fill="#f00"/><rect x="0.5" y="0.5" width="1.5" height="1.5" fill="#f00"/><rect x="0.5" y="14" width="1.5" height="1.5" fill="#f00"/><rect x="14" y="0.5" width="1.5" height="1.5" fill="#f00"/><rect x="14" y="14" width="1.5" height="1.5" fill="#f00"/><rect x="3" y="3" width="1" height="1" fill="#f00"/><rect x="12" y="3" width="1" height="1" fill="#f00"/><rect x="3" y="12" width="1" height="1" fill="#f00"/><rect x="12" y="12" width="1" height="1" fill="#f00"/><rect x="5.5" y="5.5" width="1" height="1" fill="#f00"/><rect x="10" y="5.5" width="1" height="1" fill="#f00"/><rect x="5.5" y="10" width="1" height="1" fill="#f00"/><rect x="10" y="10" width="1" height="1" fill="#f00"/></g>
<g transform="translate(298.5,75)" shape-rendering="crispEdges"><line x1="1.5" y1="2" x2="1.5" y2="16" stroke="#000" stroke-width="1"/><line x1="9.5" y1="1" x2="9.5" y2="14" stroke="#000" stroke-width="1"/><line x1="1.5" y1="13" x2="9.5" y2="2" stroke="#000" stroke-width="1"/><line x1="12.5" y1="1" x2="12.5" y2="4" stroke="#000" stroke-width="1"/><line x1="15.5" y1="1" x2="15.5" y2="4" stroke="#000" stroke-width="1"/></g>
<g transform="translate(321.5,75)" shape-rendering="crispEdges"><line x1="0" y1="3.5" x2="16" y2="3.5" stroke="#000" stroke-width="1"/><line x1="0.5" y1="0" x2="0.5" y2="6" stroke="#000" stroke-width="1"/><line x1="15.5" y1="0" x2="15.5" y2="6" stroke="#000" stroke-width="1"/><line x1="5.5" y1="0" x2="5.5" y2="4" stroke="#000" stroke-width="1"/><line x1="10.5" y1="0" x2="10.5" y2="4" stroke="#000" stroke-width="1"/><text x="3" y="15.5" font-size="11" fill="#f00" font-family='"Liberation Sans", "Noto Sans CJK SC", sans-serif' font-weight="bold">神</text></g>
<g transform="translate(344.5,75)" shape-rendering="crispEdges"><line x1="0" y1="3.5" x2="16" y2="3.5" stroke="#000" stroke-width="1"/><line x1="0.5" y1="0" x2="0.5" y2="6" stroke="#000" stroke-width="1"/><line x1="15.5" y1="0" x2="15.5" y2="6" stroke="#000" stroke-width="1"/><line x1="5.5" y1="0" x2="5.5" y2="4" stroke="#000" stroke-width="1"/><line x1="10.5" y1="0" x2="10.5" y2="4" stroke="#000" stroke-width="1"/><text x="2.5" y="15.5" font-size="11" fill="#f00" font-family='"Liberation Sans", "Noto Sans CJK SC", sans-serif' font-weight="bold">赢</text></g>
<g transform="translate(367.5,75)" shape-rendering="crispEdges"><line x1="1" y1="1.5" x2="15" y2="1.5" stroke="#000" stroke-width="1.4"/><line x1="1.5" y1="1" x2="1.5" y2="16" stroke="#000" stroke-width="1"/><line x1="3.5" y1="2" x2="3.5" y2="9" stroke="#000" stroke-width="1"/><line x1="5.5" y1="2" x2="5.5" y2="6" stroke="#000" stroke-width="1"/><line x1="7.5" y1="2" x2="7.5" y2="9" stroke="#000" stroke-width="1"/><line x1="9.5" y1="2" x2="9.5" y2="6" stroke="#000" stroke-width="1"/><line x1="11.5" y1="2" x2="11.5" y2="9" stroke="#000" stroke-width="1"/><line x1="13.5" y1="2" x2="13.5" y2="6" stroke="#000" stroke-width="1"/><line x1="14.5" y1="2" x2="14.5" y2="9" stroke="#000" stroke-width="1"/><line x1="2" y1="11.5" x2="14" y2="11.5" stroke="#000" stroke-width="1"/><text x="5" y="16" font-size="6" fill="#000" font-family='"Liberation Sans", sans-serif' font-weight="bold">123</text></g>
<g transform="translate(390.5,75)" shape-rendering="crispEdges"><line x1="0.5" y1="2" x2="0.5" y2="14" stroke="#000" stroke-width="1"/><line x1="15.5" y1="2" x2="15.5" y2="14" stroke="#000" stroke-width="1"/><line x1="7.5" y1="0" x2="7.5" y2="16" stroke="#000" stroke-width="1"/><line x1="1" y1="8.5" x2="15" y2="8.5" stroke="#000" stroke-width="1"/><path d="M1 8.5 L4 6 V11 Z" fill="#000" stroke="none" stroke-width="1"/><path d="M15 8.5 L12 6 V11 Z" fill="#000" stroke="none" stroke-width="1"/></g>
<g transform="translate(423,75)" shape-rendering="crispEdges"><rect x="5.5" y="1.5" width="9" height="9" fill="none" stroke="#000" stroke-width="1.2"/><line x1="1.5" y1="1" x2="1.5" y2="11" stroke="#808080" stroke-width="1"/><line x1="0" y1="1.5" x2="4" y2="1.5" stroke="#808080" stroke-width="1"/><line x1="0" y1="10.5" x2="4" y2="10.5" stroke="#808080" stroke-width="1"/><line x1="5" y1="14.5" x2="15" y2="14.5" stroke="#808080" stroke-width="1"/><line x1="5.5" y1="12" x2="5.5" y2="16" stroke="#808080" stroke-width="1"/><line x1="14.5" y1="12" x2="14.5" y2="16" stroke="#808080" stroke-width="1"/></g>
<g transform="translate(446,75)" shape-rendering="crispEdges"><line x1="1" y1="15" x2="15" y2="0" stroke="#000" stroke-width="1"/><line x1="1" y1="15" x2="3" y2="0" stroke="#800000" stroke-width="1"/><line x1="1" y1="15" x2="8" y2="0" stroke="#f00" stroke-width="1"/><line x1="1" y1="15" x2="15" y2="6" stroke="#f00" stroke-width="1"/><line x1="1" y1="15" x2="16" y2="12" stroke="#800000" stroke-width="1"/><rect x="0" y="13" width="3" height="3" fill="#f00"/></g>
<g transform="translate(469,75)" shape-rendering="crispEdges"><rect x="1.5" y="2.5" width="12" height="12" fill="none" stroke="#000" stroke-width="1.4"/><line x1="1" y1="15" x2="15" y2="0" stroke="#f00" stroke-width="1"/><line x1="1" y1="15" x2="10" y2="1" stroke="#f00" stroke-width="1"/><line x1="1" y1="15" x2="16" y2="6" stroke="#f00" stroke-width="1"/><line x1="4" y1="0" x2="4" y2="8" stroke="#800080" stroke-width="1"/><line x1="8" y1="0" x2="8" y2="4" stroke="#800080" stroke-width="1"/><line x1="9" y1="12" x2="15" y2="12" stroke="#800080" stroke-width="1"/><line x1="14" y1="8" x2="14" y2="13" stroke="#800080" stroke-width="1"/></g>
<g transform="translate(492,75)" shape-rendering="crispEdges"><rect x="1.5" y="1.5" width="12" height="12" fill="none" stroke="#000" stroke-width="1.4"/><line x1="0" y1="0" x2="15" y2="15" stroke="#f00" stroke-width="1"/><line x1="0" y1="0" x2="9" y2="15" stroke="#f00" stroke-width="1"/><line x1="0" y1="0" x2="15" y2="9" stroke="#f00" stroke-width="1"/><line x1="2" y1="8" x2="5" y2="15" stroke="#800080" stroke-width="1"/><line x1="6" y1="2" x2="15" y2="4" stroke="#800080" stroke-width="1"/><line x1="12" y1="2" x2="15" y2="8" stroke="#800080" stroke-width="1"/></g>
<g transform="translate(515,75)" shape-rendering="crispEdges"><line x1="0" y1="15" x2="15" y2="0" stroke="#000" stroke-width="1.2"/><line x1="0" y1="15" x2="15" y2="7" stroke="#000" stroke-width="1"/><line x1="0" y1="15" x2="15" y2="11" stroke="#000" stroke-width="1"/><path d="M0 15.5 L5 12 L5 15.5 Z" fill="#000" stroke="none" stroke-width="1"/></g>
<g transform="translate(538,75)" shape-rendering="crispEdges"><path d="M0 1 L6 14 L11 5 L15 10" fill="none" stroke="#000" stroke-width="1.2"/><line x1="0" y1="15.5" x2="16" y2="15.5" stroke="#808080" stroke-width="1"/></g>
<g transform="translate(561,75)" shape-rendering="crispEdges"><line x1="1.5" y1="0" x2="1.5" y2="16" stroke="#909090" stroke-width="1"/><line x1="5.5" y1="0" x2="5.5" y2="16" stroke="#909090" stroke-width="1"/><line x1="9.5" y1="0" x2="9.5" y2="16" stroke="#909090" stroke-width="1"/><line x1="13.5" y1="0" x2="13.5" y2="16" stroke="#909090" stroke-width="1"/><line x1="0" y1="1.5" x2="16" y2="1.5" stroke="#909090" stroke-width="1"/><line x1="0" y1="5.5" x2="16" y2="5.5" stroke="#909090" stroke-width="1"/><line x1="0" y1="9.5" x2="16" y2="9.5" stroke="#909090" stroke-width="1"/><line x1="0" y1="13.5" x2="16" y2="13.5" stroke="#909090" stroke-width="1"/><rect x="3.0" y="3.0" width="1" height="1" fill="#f00"/><rect x="3.0" y="7.0" width="1" height="1" fill="#f00"/><rect x="3.0" y="11.0" width="1" height="1" fill="#f00"/><rect x="7.0" y="3.0" width="1" height="1" fill="#f00"/><rect x="7.0" y="7.0" width="1" height="1" fill="#f00"/><rect x="7.0" y="11.0" width="1" height="1" fill="#f00"/><rect x="11.0" y="3.0" width="1" height="1" fill="#f00"/><rect x="11.0" y="7.0" width="1" height="1" fill="#f00"/><rect x="11.0" y="11.0" width="1" height="1" fill="#f00"/><rect x="6.5" y="6.5" width="2" height="2" fill="#f00"/></g>
<g transform="translate(584,75)" shape-rendering="crispEdges"><line x1="1.5" y1="0" x2="1.5" y2="16" stroke="#909090" stroke-width="1"/><line x1="5.5" y1="0" x2="5.5" y2="16" stroke="#909090" stroke-width="1"/><line x1="9.5" y1="0" x2="9.5" y2="16" stroke="#909090" stroke-width="1"/><line x1="13.5" y1="0" x2="13.5" y2="16" stroke="#909090" stroke-width="1"/><line x1="0" y1="1.5" x2="16" y2="1.5" stroke="#909090" stroke-width="1"/><line x1="0" y1="5.5" x2="16" y2="5.5" stroke="#909090" stroke-width="1"/><line x1="0" y1="9.5" x2="16" y2="9.5" stroke="#909090" stroke-width="1"/><line x1="0" y1="13.5" x2="16" y2="13.5" stroke="#909090" stroke-width="1"/><rect x="3.0" y="3.0" width="1" height="1" fill="#f00"/><rect x="3.0" y="7.0" width="1" height="1" fill="#f00"/><rect x="3.0" y="11.0" width="1" height="1" fill="#f00"/><rect x="7.0" y="3.0" width="1" height="1" fill="#f00"/><rect x="7.0" y="7.0" width="1" height="1" fill="#f00"/><rect x="7.0" y="11.0" width="1" height="1" fill="#f00"/><rect x="11.0" y="3.0" width="1" height="1" fill="#f00"/><rect x="11.0" y="7.0" width="1" height="1" fill="#f00"/><rect x="11.0" y="11.0" width="1" height="1" fill="#f00"/><rect x="6.5" y="6.5" width="2" height="2" fill="#f00"/><line x1="0.5" y1="0" x2="0.5" y2="15" stroke="#000" stroke-width="1.4"/><line x1="0" y1="14.5" x2="15" y2="14.5" stroke="#000" stroke-width="1.4"/><path d="M0.5 0 L-1.5 3 H2.5 Z" fill="#000" stroke="none" stroke-width="1"/><path d="M16 14.5 L13 12.5 V16.5 Z" fill="#000" stroke="none" stroke-width="1"/></g>
<g transform="translate(607,75)" shape-rendering="crispEdges"><line x1="2.5" y1="2" x2="2.5" y2="15" stroke="#000" stroke-width="1"/><line x1="0" y1="8" x2="15" y2="1" stroke="#000" stroke-width="1"/><line x1="0" y1="12" x2="15" y2="5" stroke="#000" stroke-width="1"/><line x1="0" y1="16" x2="15" y2="9" stroke="#000" stroke-width="1"/><line x1="12.5" y1="0" x2="12.5" y2="13" stroke="#808080" stroke-width="1"/></g>
<g transform="translate(640,75)" shape-rendering="crispEdges"><line x1="1.5" y1="0" x2="1.5" y2="16" stroke="#000" stroke-width="2"/><line x1="2" y1="1.5" x2="15" y2="1.5" stroke="#000" stroke-width="1.2"/><line x1="2" y1="4.5" x2="11" y2="4.5" stroke="#000" stroke-width="1.2"/><line x1="2" y1="8.5" x2="15" y2="8.5" stroke="#000" stroke-width="1.2"/><line x1="2" y1="11.5" x2="11" y2="11.5" stroke="#000" stroke-width="1.2"/><line x1="2" y1="15.5" x2="15" y2="15.5" stroke="#000" stroke-width="1.2"/><line x1="13" y1="3" x2="16" y2="3" stroke="#000" stroke-width="1"/><line x1="13" y1="13" x2="16" y2="13" stroke="#000" stroke-width="1"/></g>
<g transform="translate(663,75)" shape-rendering="crispEdges"><line x1="0" y1="1.5" x2="16" y2="1.5" stroke="#f00" stroke-width="1"/><line x1="0" y1="15.5" x2="16" y2="15.5" stroke="#f00" stroke-width="1"/><line x1="4" y1="15" x2="10" y2="1" stroke="#000" stroke-width="1.2"/><line x1="10" y1="1.5" x2="15" y2="1.5" stroke="#000" stroke-width="1"/><text x="6" y="15" font-size="10" fill="#f00" font-family='"Liberation Sans", sans-serif' font-weight="bold">%</text></g>
<g transform="translate(686,75)" shape-rendering="crispEdges"><text x="2" y="14" font-size="15" fill="#000" font-family='"Liberation Sans", sans-serif' font-weight="normal">%</text></g>
<g transform="translate(709,75)" shape-rendering="crispEdges"><line x1="0" y1="1.5" x2="16" y2="1.5" stroke="#000" stroke-width="1"/><line x1="0" y1="15.5" x2="16" y2="15.5" stroke="#000" stroke-width="1"/><line x1="9" y1="5.5" x2="16" y2="5.5" stroke="#000" stroke-width="1"/><line x1="9" y1="9.5" x2="16" y2="9.5" stroke="#000" stroke-width="1"/><text x="0" y="13.5" font-size="10" fill="#f00" font-family='"Liberation Sans", sans-serif' font-weight="bold">%</text></g>
<g transform="translate(732,75)" shape-rendering="crispEdges"><circle cx="8" cy="8" r="7.5" fill="none" stroke="#909090" stroke-width="1.2"/><text x="3" y="12.5" font-size="10" fill="#808000" font-family='"Liberation Sans", "Noto Sans CJK SC", sans-serif' font-weight="bold">金</text></g>
<g transform="translate(755,75)" shape-rendering="crispEdges"><line x1="0" y1="1.5" x2="16" y2="1.5" stroke="#000" stroke-width="1"/><line x1="0" y1="15.5" x2="16" y2="15.5" stroke="#000" stroke-width="1"/><line x1="10" y1="5.5" x2="16" y2="5.5" stroke="#000" stroke-width="1"/><line x1="10" y1="9.5" x2="16" y2="9.5" stroke="#000" stroke-width="1"/><text x="0" y="13.5" font-size="10" fill="#808000" font-family='"Liberation Sans", "Noto Sans CJK SC", sans-serif' font-weight="bold">金</text></g>
<g transform="translate(778,75)" shape-rendering="crispEdges"><line x1="2.5" y1="0" x2="2.5" y2="16" stroke="#000" stroke-width="1.4"/><line x1="0" y1="2.5" x2="6" y2="2.5" stroke="#000" stroke-width="1"/><line x1="0" y1="8.5" x2="6" y2="8.5" stroke="#000" stroke-width="1"/><line x1="0" y1="14.5" x2="6" y2="14.5" stroke="#000" stroke-width="1"/><path d="M6 11 L10 3 L15 6 L11 14 Z" fill="#909090" stroke="#000" stroke-width="1"/><path d="M10 3 L13 1 L16 4 L15 6 Z" fill="#f00" stroke="#f00" stroke-width="1"/><path d="M6 14 L7 11 L9 13 Z" fill="#000" stroke="none" stroke-width="1"/></g>
<g transform="translate(801,75)" shape-rendering="crispEdges"><line x1="0" y1="1.5" x2="16" y2="1.5" stroke="#f00" stroke-width="1"/><line x1="0" y1="15.5" x2="16" y2="15.5" stroke="#f00" stroke-width="1"/><line x1="0" y1="8.5" x2="16" y2="8.5" stroke="#909090" stroke-width="1"/><path d="M1 12 C3 2 6 2 8 8.5 C10 15 13 15 15 4" fill="none" stroke="#909090" stroke-width="1.2"/></g>
<g transform="translate(824,75)" shape-rendering="crispEdges"><line x1="0" y1="1.5" x2="16" y2="1.5" stroke="#f00" stroke-width="1"/><line x1="0" y1="15.5" x2="16" y2="15.5" stroke="#f00" stroke-width="1"/><text x="2.5" y="13" font-size="11" fill="#808000" font-family='"Liberation Sans", "Noto Sans CJK SC", sans-serif' font-weight="bold">金</text></g>
<g transform="translate(847,75)" shape-rendering="crispEdges"><line x1="1" y1="15.5" x2="15" y2="15.5" stroke="#000" stroke-width="1"/><line x1="1" y1="15" x2="15" y2="11.5" stroke="#000" stroke-width="1"/><line x1="1" y1="15" x2="15" y2="7.5" stroke="#000" stroke-width="1"/><line x1="1" y1="15" x2="15" y2="1" stroke="#000" stroke-width="1"/><text x="0" y="9" font-size="11" fill="#f00" font-family='"Liberation Sans", sans-serif' font-weight="bold">J</text></g>
<g transform="translate(870,75)" shape-rendering="crispEdges"><line x1="1" y1="15.5" x2="15" y2="15.5" stroke="#000" stroke-width="1"/><line x1="1" y1="15" x2="15" y2="11.5" stroke="#000" stroke-width="1"/><line x1="1" y1="15" x2="15" y2="7.5" stroke="#000" stroke-width="1"/><line x1="1" y1="15" x2="15" y2="1" stroke="#000" stroke-width="1"/><text x="0" y="9" font-size="11" fill="#f00" font-family='"Liberation Sans", sans-serif' font-weight="bold">F</text></g>
<g transform="translate(893,75)" shape-rendering="crispEdges"><line x1="1" y1="15.5" x2="15" y2="15.5" stroke="#000" stroke-width="1"/><line x1="1" y1="15" x2="15" y2="11.5" stroke="#000" stroke-width="1"/><line x1="1" y1="15" x2="15" y2="7.5" stroke="#000" stroke-width="1"/><line x1="1" y1="15" x2="15" y2="1" stroke="#000" stroke-width="1"/><text x="0" y="10" font-size="10" fill="#808000" font-family='"Liberation Sans", "Noto Sans CJK SC", sans-serif' font-weight="bold">金</text></g>
<g transform="translate(916,75)" shape-rendering="crispEdges"><line x1="1" y1="15.5" x2="15" y2="15.5" stroke="#000" stroke-width="1"/><line x1="1" y1="15" x2="15" y2="11.5" stroke="#000" stroke-width="1"/><line x1="1" y1="15" x2="15" y2="7.5" stroke="#000" stroke-width="1"/><line x1="1" y1="15" x2="15" y2="1" stroke="#000" stroke-width="1"/><text x="0" y="10.5" font-size="11" fill="#f00" font-family='"Liberation Sans", "Noto Sans CJK SC", sans-serif' font-weight="bold">神</text></g>
<g transform="translate(939,75)" shape-rendering="crispEdges"><line x1="1" y1="15.5" x2="15" y2="15.5" stroke="#000" stroke-width="1"/><line x1="1" y1="15" x2="15" y2="11.5" stroke="#000" stroke-width="1"/><line x1="1" y1="15" x2="15" y2="7.5" stroke="#000" stroke-width="1"/><line x1="1" y1="15" x2="15" y2="1" stroke="#000" stroke-width="1"/><text x="0" y="11" font-size="11" fill="#f00" font-family='"Liberation Sans", "Noto Sans CJK SC", sans-serif' font-weight="bold">赢</text></g>
<g transform="translate(962,75)" shape-rendering="crispEdges"><line x1="1" y1="15.5" x2="15" y2="15.5" stroke="#000" stroke-width="1"/><line x1="1" y1="15" x2="15" y2="11.5" stroke="#000" stroke-width="1"/><line x1="1" y1="15" x2="15" y2="7.5" stroke="#000" stroke-width="1"/><line x1="1" y1="15" x2="15" y2="1" stroke="#000" stroke-width="1"/><text x="0" y="9.5" font-size="10" fill="#f00" font-family='"Liberation Sans", "Noto Sans CJK SC", sans-serif' font-weight="bold">四</text></g>
<rect x="411.0" y="70" width="1" height="25" fill="#aca899"/><rect x="412.0" y="70" width="1" height="25" fill="#fff"/>
<rect x="627.0" y="70" width="1" height="25" fill="#aca899"/><rect x="628.0" y="70" width="1" height="25" fill="#fff"/>
<rect x="415.5" y="73" width="1" height="20" fill="#fff"/><rect x="416.5" y="73" width="1" height="20" fill="#aca899"/>
<rect x="632" y="73" width="1" height="20" fill="#fff"/><rect x="633" y="73" width="1" height="20" fill="#aca899"/>
<rect x="0" y="794" width="1314" height="40" fill="#ece9d8"/>
<rect x="0" y="794" width="1314" height="2" fill="#808080"/><rect x="0" y="796" width="1314" height="1" fill="#fff"/><rect x="0" y="797" width="1314" height="1" fill="#aca899"/>
<rect x="0" y="817" width="1314" height="1" fill="#fff"/><rect x="0" y="818" width="1314" height="1" fill="#aca899"/><rect x="0" y="819" width="1314" height="2" fill="#fff"/><rect x="0" y="821" width="1314" height="1" fill="#aca899"/>
<circle cx="-5.5" cy="806.5" r="8" fill="#f00" stroke="none" stroke-width="0"/>
<text x="7.5" y="810.9" font-size="11" fill="#f00" font-family='"Liberation Sans", sans-serif' textLength="45.0" lengthAdjust="spacingAndGlyphs">2091.97</text><path d="M62.5 801.7 L67.5 810.5 H57.5 Z" fill="#f00"/><text x="68.7" y="810.9" font-size="11" fill="#f00" font-family='"Liberation Sans", sans-serif' textLength="24.6" lengthAdjust="spacingAndGlyphs">4.03</text><text x="98.3" y="810.9" font-size="11" fill="#f00" font-family='"Liberation Sans", sans-serif' textLength="35.9" lengthAdjust="spacingAndGlyphs">0.19%</text><text x="139.2" y="810.9" font-size="11" fill="#f00" font-family='"Liberation Sans", sans-serif' textLength="38.3" lengthAdjust="spacingAndGlyphs">522.88</text>
<text x="177.5" y="811.5" font-size="12" fill="#800000" font-family='"Liberation Sans", "Noto Sans CJK SC", sans-serif'>亿</text>
<circle cx="226" cy="806.7" r="8" fill="#f00" stroke="none" stroke-width="0"/><text x="220.5" y="810.8" font-size="11" fill="#ffff00" font-family='"Liberation Sans", "Noto Sans CJK SC", sans-serif'>深</text>
<text x="238.3" y="810.9" font-size="11" fill="#f00" font-family='"Liberation Sans", sans-serif' textLength="45.0" lengthAdjust="spacingAndGlyphs">8123.22</text><path d="M293.35 801.7 L298 810.5 H288.7 Z" fill="#f00"/><text x="300.8" y="810.9" font-size="11" fill="#f00" font-family='"Liberation Sans", sans-serif' textLength="30.5" lengthAdjust="spacingAndGlyphs">12.22</text><text x="336.7" y="810.9" font-size="11" fill="#f00" font-family='"Liberation Sans", sans-serif' textLength="35.3" lengthAdjust="spacingAndGlyphs">0.15%</text><text x="377.5" y="810.9" font-size="11" fill="#f00" font-family='"Liberation Sans", sans-serif' textLength="38.3" lengthAdjust="spacingAndGlyphs">636.76</text>
<text x="416" y="811.5" font-size="12" fill="#800000" font-family='"Liberation Sans", "Noto Sans CJK SC", sans-serif'>亿</text>
<rect x="434" y="798" width="1" height="18" fill="#fff"/>
<rect x="435" y="798" width="801" height="1" fill="#aca899"/><rect x="435" y="799" width="801" height="1" fill="#716f64"/><rect x="435" y="799" width="1" height="16" fill="#716f64"/>
<rect x="436" y="800" width="800" height="14" fill="#fff"/><rect x="436" y="814" width="800" height="1" fill="#f4f2e8"/>
<svg x="437" y="800" width="798" height="14" viewBox="437 800 798 14" overflow="hidden"><text x="908" y="815.4" font-size="14.5" fill="#f00" font-family='"Liberation Sans", "Noto Sans CJK SC", sans-serif' textLength="316" lengthAdjust="spacing">信息安全进入国家视野 网络设备将迎国产化蜜月期</text></svg>
<rect x="1237" y="800.5" width="15.5" height="6" fill="#b4c8ee"/><rect x="1237" y="807.5" width="15.5" height="6" fill="#b4c8ee"/><rect x="1243.5" y="803" width="3" height="1" fill="#4a5a80"/><rect x="1243.5" y="810" width="3" height="1" fill="#4a5a80"/><rect x="1237" y="806" width="15.5" height="1" fill="#8aa0d8"/><rect x="1237" y="813" width="15.5" height="1" fill="#8aa0d8"/>
<rect x="1254" y="797" width="1" height="19" fill="#fff"/>
<path d="M1263 801.5 L1259.5 812.5 H1266.5 Z M1258 813 H1268 M1260.8 808.5 H1265.2 M1261.8 805.5 H1264.2" fill="none" stroke="#00008b" stroke-width="1.3"/><path d="M1263 798.7 L1264.5 800.4 L1263 802 L1261.5 800.4 Z" fill="#f00" stroke="none" stroke-width="1"/>
<text x="1274.2" y="810.8" font-size="12" fill="#000" font-family='"Liberation Sans", sans-serif' textLength="40" lengthAdjust="spacingAndGlyphs">SH1A0</text>
<text x="-5.4" y="834" font-size="12" fill="#000" font-family='"Liberation Sans", "Noto Sans CJK SC", sans-serif' textLength="36.6" lengthAdjust="spacingAndGlyphs">月初四</text>
<text x="32.2" y="725.22" transform="scale(1,1.15)" font-size="10" fill="#000" font-family='"Liberation Sans", sans-serif'>]</text>
<text x="42.6" y="834" font-size="12" fill="#000" font-family='"Liberation Sans", "Noto Sans CJK SC", sans-serif' textLength="24.6" lengthAdjust="spacingAndGlyphs">时间</text>
<text x="68.6 73.2 79.2 86.2 91.2 97.2 103.2 110.2 115.2" y="725.22" transform="scale(1,1.15)" font-size="10" fill="#000" font-family='"Liberation Sans", sans-serif'>:20130315</text>
<text x="126.6" y="834" font-size="12" fill="#000" font-family='"Liberation Sans", "Noto Sans CJK SC", sans-serif' textLength="12.6" lengthAdjust="spacingAndGlyphs">开</text>
<text x="140.6 146.2 151.2 158.6 163.2 169.2 175.2 181.2" y="725.22" transform="scale(1,1.15)" font-size="10" fill="#000" font-family='"Liberation Sans", sans-serif'>:10.8800</text>
<text x="192.6" y="834" font-size="12" fill="#000" font-family='"Liberation Sans", "Noto Sans CJK SC", sans-serif' textLength="12.6" lengthAdjust="spacingAndGlyphs">高</text>
<text x="206.6 212.2 218.2 224.6 229.2 235.2 241.2 247.2" y="725.22" transform="scale(1,1.15)" font-size="10" fill="#000" font-family='"Liberation Sans", sans-serif'>:11.2000</text>
<text x="258.6" y="834" font-size="12" fill="#000" font-family='"Liberation Sans", "Noto Sans CJK SC", sans-serif' textLength="12.6" lengthAdjust="spacingAndGlyphs">低</text>
<text x="272.6 278.2 283.2 290.6 295.2 301.2 307.2 313.2" y="725.22" transform="scale(1,1.15)" font-size="10" fill="#000" font-family='"Liberation Sans", sans-serif'>:10.7200</text>
<text x="324.6" y="834" font-size="12" fill="#000" font-family='"Liberation Sans", "Noto Sans CJK SC", sans-serif' textLength="12.6" lengthAdjust="spacingAndGlyphs">收</text>
<text x="338.6 344.2 350.2 356.6 362.2 367.2 373.2 379.2" y="725.22" transform="scale(1,1.15)" font-size="10" fill="#000" font-family='"Liberation Sans", sans-serif'>:11.1400</text>
<text x="390.6" y="834" font-size="12" fill="#000" font-family='"Liberation Sans", "Noto Sans CJK SC", sans-serif' textLength="12.6" lengthAdjust="spacingAndGlyphs">手</text>
<text x="404.6 409.2 415.2 421.2 427.2 433.2" y="725.22" transform="scale(1,1.15)" font-size="10" fill="#000" font-family='"Liberation Sans", sans-serif'>:82749</text>
<text x="444.6" y="834" font-size="12" fill="#000" font-family='"Liberation Sans", "Noto Sans CJK SC", sans-serif' textLength="12.6" lengthAdjust="spacingAndGlyphs">额</text>
<text x="458.6 463.2 469.2 475.2 481.2 487.2 493.2 499.2 505.2 512.6 517.2 523.2" y="725.22" transform="scale(1,1.15)" font-size="10" fill="#000" font-family='"Liberation Sans", sans-serif'>:90788624.00</text>
<text x="534.6" y="834" font-size="12" fill="#000" font-family='"Liberation Sans", "Noto Sans CJK SC", sans-serif' textLength="12.6" lengthAdjust="spacingAndGlyphs">换</text>
<text x="548.6 553.2 560.6 565.2 571.2" y="725.22" transform="scale(1,1.15)" font-size="10" fill="#000" font-family='"Liberation Sans", sans-serif'>:0.00</text>
<text x="582.6" y="834" font-size="12" fill="#000" font-family='"Liberation Sans", "Noto Sans CJK SC", sans-serif' textLength="12.6" lengthAdjust="spacingAndGlyphs">涨</text>
<text x="596.6 602.2 608.6 613.2 619.2" y="725.22" transform="scale(1,1.15)" font-size="10" fill="#000" font-family='"Liberation Sans", sans-serif'>:1.27</text>
<text x="630.6" y="834" font-size="12" fill="#000" font-family='"Liberation Sans", "Noto Sans CJK SC", sans-serif' textLength="12.6" lengthAdjust="spacingAndGlyphs">盘</text>
<text x="644.6 649.2" y="725.22" transform="scale(1,1.15)" font-size="10" fill="#000" font-family='"Liberation Sans", sans-serif'>:0</text>
<text x="660.6" y="834" font-size="12" fill="#000" font-family='"Liberation Sans", "Noto Sans CJK SC", sans-serif' textLength="12.6" lengthAdjust="spacingAndGlyphs">标</text>
<text x="674.6 679.2 686.6 691.2 697.2 704.2 710.2" y="725.22" transform="scale(1,1.15)" font-size="10" fill="#000" font-family='"Liberation Sans", sans-serif'>:6.9711</text>
</svg>
</body></html>
